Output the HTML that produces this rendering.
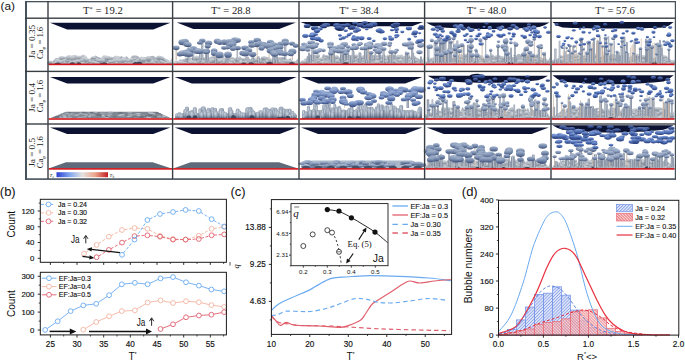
<!DOCTYPE html>
<html><head><meta charset="utf-8"><title>figure</title>
<style>html,body{margin:0;padding:0;background:#fff;width:685px;height:362px;overflow:hidden}svg{display:block}</style>
</head><body>
<svg width="685" height="362" viewBox="0 0 685 362"><defs>
<linearGradient id="gB" x1="0" y1="0" x2="0" y2="1"><stop offset="0" stop-color="#93abdf"/><stop offset="0.4" stop-color="#5a7bc0"/><stop offset="1" stop-color="#263a78"/></linearGradient>
<linearGradient id="gD" x1="0" y1="0" x2="0" y2="1"><stop offset="0" stop-color="#6f88c4"/><stop offset="0.45" stop-color="#3c5699"/><stop offset="1" stop-color="#15224f"/></linearGradient>
<linearGradient id="gM3" x1="0" y1="0" x2="0" y2="1"><stop offset="0" stop-color="#a6badf"/><stop offset="0.45" stop-color="#6f88bb"/><stop offset="1" stop-color="#364a7c"/></linearGradient>
<linearGradient id="gM2" x1="0" y1="0" x2="0" y2="1"><stop offset="0" stop-color="#a9b8d0"/><stop offset="0.45" stop-color="#7b8fb0"/><stop offset="1" stop-color="#42527a"/></linearGradient>
<linearGradient id="gM" x1="0" y1="0" x2="0" y2="1"><stop offset="0" stop-color="#b6c3d8"/><stop offset="0.45" stop-color="#8a9cbb"/><stop offset="1" stop-color="#4b5a7c"/></linearGradient>
<linearGradient id="gG" x1="0" y1="0" x2="0" y2="1"><stop offset="0" stop-color="#d8dce2"/><stop offset="0.5" stop-color="#b2b9c2"/><stop offset="1" stop-color="#7b8591"/></linearGradient>
<linearGradient id="gQ" x1="0" y1="0" x2="0" y2="1"><stop offset="0" stop-color="#c8d0da"/><stop offset="0.5" stop-color="#9eaabb"/><stop offset="1" stop-color="#5a687e"/></linearGradient>
<radialGradient id="gR" cx="0.45" cy="0.3" r="0.75"><stop offset="0" stop-color="#ccd4de"/><stop offset="0.55" stop-color="#93a0b3"/><stop offset="1" stop-color="#4c5a70"/></radialGradient>
<linearGradient id="gC" x1="0" x2="1"><stop offset="0" stop-color="#6f7a8c"/><stop offset="0.5" stop-color="#b8c0cc"/><stop offset="1" stop-color="#7d889a"/></linearGradient>
<linearGradient id="cbar" x1="0" x2="1">
<stop offset="0" stop-color="#2f3fcf"/><stop offset="0.25" stop-color="#7fa4f0"/><stop offset="0.5" stop-color="#e4e2e0"/><stop offset="0.75" stop-color="#eda58a"/><stop offset="1" stop-color="#c21d25"/></linearGradient>
<pattern id="hB" width="2.2" height="2.2" patternUnits="userSpaceOnUse" patternTransform="rotate(-45)"><rect width="2.2" height="2.2" fill="#dfe6fa"/><rect width="2.2" height="0.8" fill="#7f98e6"/></pattern>
<pattern id="hR" width="2.0" height="2.0" patternUnits="userSpaceOnUse" patternTransform="rotate(45)"><rect width="2.0" height="2.0" fill="#f9d6d6"/><rect width="2.0" height="0.9" fill="#e8707a"/></pattern>
<marker id="ah" viewBox="0 0 10 10" refX="9" refY="5" markerWidth="4" markerHeight="4" orient="auto-start-reverse"><path d="M0,0 L10,5 L0,10 z" fill="#111"/></marker>
</defs>
<rect width="685" height="362" fill="#fff"/>
<polygon points="50.0,22.8 170.4,22.8 153.2,29.4 67.2,29.4" fill="#0c1232"/><polygon points="49.0,64.4 49.0,62.3 51.1,62.1 52.6,61.3 55.8,58.1 59.2,58.5 62.5,56.4 64.7,56.8 68.2,57.6 70.4,57.0 72.5,55.4 74.2,58.7 76.3,59.1 78.3,56.3 80.8,56.0 83.0,59.2 86.3,58.6 89.1,59.0 92.4,57.5 95.4,55.4 98.3,57.1 101.3,57.9 103.4,55.4 106.8,55.7 109.2,56.6 111.3,58.3 114.8,56.3 117.6,56.4 120.2,56.8 122.0,55.9 123.9,59.0 126.4,56.1 129.7,59.3 132.1,55.8 134.0,55.6 136.2,55.6 138.2,56.3 140.8,58.9 143.8,56.9 146.2,57.4 148.4,56.6 150.0,56.3 153.5,55.7 156.0,57.8 159.2,56.1 161.2,56.6 163.5,58.5 167.0,61.1 170.2,61.1 171.6,58.0 171.6,64.4" fill="#adb4be"/><ellipse cx="135.6" cy="62.9" rx="2.3" ry="1.8" fill="url(#gG)"/><ellipse cx="50.0" cy="62.8" rx="2.9" ry="1.9" fill="url(#gG)"/><ellipse cx="153.2" cy="63.4" rx="1.9" ry="1.3" fill="url(#gG)"/><ellipse cx="68.6" cy="60.4" rx="2.6" ry="2.4" fill="url(#gG)"/><ellipse cx="137.0" cy="61.3" rx="2.7" ry="2.1" fill="url(#gG)"/><ellipse cx="116.5" cy="57.3" rx="2.7" ry="1.9" fill="url(#gG)"/><ellipse cx="160.9" cy="61.3" rx="2.0" ry="1.4" fill="url(#gG)"/><ellipse cx="80.4" cy="61.2" rx="2.6" ry="1.8" fill="url(#gG)"/><ellipse cx="58.5" cy="60.9" rx="2.4" ry="1.9" fill="url(#gG)"/><ellipse cx="77.0" cy="61.0" rx="1.6" ry="1.2" fill="url(#gG)"/><ellipse cx="105.6" cy="63.3" rx="2.5" ry="1.4" fill="url(#gG)"/><ellipse cx="107.3" cy="58.5" rx="1.9" ry="1.8" fill="url(#gG)"/><ellipse cx="135.0" cy="59.0" rx="1.6" ry="1.3" fill="url(#gG)"/><ellipse cx="131.3" cy="59.8" rx="2.0" ry="1.7" fill="url(#gG)"/><ellipse cx="161.6" cy="58.9" rx="1.6" ry="1.2" fill="url(#gG)"/><ellipse cx="100.7" cy="61.5" rx="1.9" ry="1.7" fill="url(#gG)"/><ellipse cx="139.1" cy="60.3" rx="1.9" ry="1.8" fill="url(#gG)"/><ellipse cx="87.6" cy="62.4" rx="1.9" ry="1.4" fill="url(#gG)"/><ellipse cx="141.7" cy="58.9" rx="2.9" ry="2.3" fill="url(#gG)"/><ellipse cx="72.6" cy="58.5" rx="2.2" ry="1.9" fill="url(#gG)"/><ellipse cx="164.4" cy="59.6" rx="2.2" ry="1.5" fill="url(#gG)"/><ellipse cx="167.5" cy="60.9" rx="1.7" ry="1.1" fill="url(#gG)"/><ellipse cx="97.4" cy="62.9" rx="2.8" ry="1.8" fill="url(#gG)"/><ellipse cx="170.3" cy="64.0" rx="2.1" ry="0.7" fill="url(#gG)"/><ellipse cx="162.9" cy="62.3" rx="1.6" ry="1.4" fill="url(#gG)"/><ellipse cx="95.7" cy="59.5" rx="2.1" ry="1.4" fill="url(#gG)"/><ellipse cx="50.3" cy="62.4" rx="2.1" ry="2.0" fill="url(#gG)"/><ellipse cx="64.9" cy="63.4" rx="1.9" ry="1.3" fill="url(#gG)"/><ellipse cx="149.1" cy="62.4" rx="2.2" ry="1.5" fill="url(#gG)"/><ellipse cx="107.1" cy="59.5" rx="2.9" ry="2.0" fill="url(#gG)"/><ellipse cx="93.9" cy="62.9" rx="1.6" ry="1.3" fill="url(#gG)"/><ellipse cx="147.9" cy="62.1" rx="1.7" ry="1.1" fill="url(#gG)"/><ellipse cx="57.5" cy="63.3" rx="2.0" ry="1.4" fill="url(#gG)"/><ellipse cx="158.4" cy="59.2" rx="2.0" ry="1.9" fill="url(#gG)"/><ellipse cx="124.4" cy="58.7" rx="2.6" ry="1.9" fill="url(#gG)"/><ellipse cx="83.2" cy="57.0" rx="2.7" ry="2.5" fill="url(#gG)"/><ellipse cx="126.5" cy="63.2" rx="1.6" ry="1.2" fill="url(#gG)"/><ellipse cx="107.3" cy="63.3" rx="2.9" ry="1.4" fill="url(#gG)"/><ellipse cx="80.3" cy="59.8" rx="2.3" ry="2.1" fill="url(#gG)"/><ellipse cx="72.1" cy="62.3" rx="2.6" ry="2.4" fill="url(#gG)"/><ellipse cx="143.2" cy="61.0" rx="2.1" ry="1.5" fill="url(#gG)"/><ellipse cx="93.6" cy="62.2" rx="1.7" ry="1.2" fill="url(#gG)"/><ellipse cx="140.8" cy="58.6" rx="1.7" ry="1.1" fill="url(#gG)"/><ellipse cx="116.6" cy="59.2" rx="3.0" ry="2.7" fill="url(#gG)"/><ellipse cx="169.1" cy="62.0" rx="1.7" ry="1.2" fill="url(#gG)"/><ellipse cx="110.1" cy="61.7" rx="2.2" ry="1.6" fill="url(#gG)"/><ellipse cx="100.3" cy="61.1" rx="2.5" ry="2.2" fill="url(#gG)"/><ellipse cx="152.1" cy="61.4" rx="1.8" ry="1.6" fill="url(#gG)"/><ellipse cx="85.4" cy="60.7" rx="2.1" ry="1.8" fill="url(#gG)"/><ellipse cx="74.0" cy="58.6" rx="1.9" ry="1.4" fill="url(#gG)"/><ellipse cx="156.6" cy="60.8" rx="2.1" ry="1.6" fill="url(#gG)"/><ellipse cx="169.7" cy="62.8" rx="1.9" ry="1.7" fill="url(#gG)"/><ellipse cx="128.8" cy="63.5" rx="1.7" ry="1.2" fill="url(#gG)"/><ellipse cx="148.8" cy="62.5" rx="2.9" ry="1.9" fill="url(#gG)"/><ellipse cx="85.4" cy="57.8" rx="1.9" ry="1.8" fill="url(#gG)"/><ellipse cx="120.3" cy="63.1" rx="2.1" ry="1.6" fill="url(#gG)"/><ellipse cx="104.2" cy="58.7" rx="2.7" ry="2.5" fill="url(#gG)"/><ellipse cx="62.8" cy="60.9" rx="2.5" ry="1.8" fill="url(#gG)"/><ellipse cx="94.5" cy="57.9" rx="1.9" ry="1.4" fill="url(#gG)"/><ellipse cx="122.3" cy="61.3" rx="1.9" ry="1.2" fill="url(#gG)"/><ellipse cx="89.5" cy="61.5" rx="1.9" ry="1.4" fill="url(#gG)"/><ellipse cx="74.5" cy="62.2" rx="2.4" ry="1.6" fill="url(#gG)"/><ellipse cx="62.2" cy="59.6" rx="2.4" ry="2.0" fill="url(#gG)"/><ellipse cx="61.0" cy="58.1" rx="2.6" ry="2.0" fill="url(#gG)"/><ellipse cx="84.2" cy="59.0" rx="2.9" ry="2.2" fill="url(#gG)"/><ellipse cx="118.3" cy="59.4" rx="2.2" ry="2.0" fill="url(#gG)"/><ellipse cx="170.2" cy="62.6" rx="1.9" ry="1.6" fill="url(#gG)"/><ellipse cx="74.6" cy="57.0" rx="2.9" ry="2.2" fill="url(#gG)"/><ellipse cx="148.9" cy="59.7" rx="2.8" ry="2.2" fill="url(#gG)"/><ellipse cx="69.6" cy="57.1" rx="2.4" ry="2.0" fill="url(#gG)"/><ellipse cx="159.7" cy="57.6" rx="2.5" ry="1.9" fill="url(#gG)"/><ellipse cx="110.8" cy="58.0" rx="2.0" ry="1.6" fill="url(#gG)"/><ellipse cx="161.6" cy="58.2" rx="2.3" ry="2.0" fill="url(#gG)"/><ellipse cx="166.6" cy="60.7" rx="1.8" ry="1.7" fill="url(#gG)"/><ellipse cx="167.7" cy="62.2" rx="1.7" ry="1.6" fill="url(#gG)"/><ellipse cx="96.8" cy="63.0" rx="2.5" ry="1.7" fill="url(#gG)"/><ellipse cx="69.3" cy="62.2" rx="1.9" ry="1.5" fill="url(#gG)"/><ellipse cx="152.1" cy="62.5" rx="1.9" ry="1.3" fill="url(#gG)"/><ellipse cx="98.2" cy="60.4" rx="2.1" ry="1.5" fill="url(#gG)"/><ellipse cx="79.8" cy="61.8" rx="2.9" ry="1.9" fill="url(#gG)"/><ellipse cx="117.8" cy="62.0" rx="1.7" ry="1.5" fill="url(#gG)"/><ellipse cx="64.2" cy="61.0" rx="2.4" ry="2.0" fill="url(#gG)"/><ellipse cx="86.9" cy="59.8" rx="2.4" ry="1.9" fill="url(#gG)"/><ellipse cx="129.5" cy="59.9" rx="2.2" ry="1.5" fill="url(#gG)"/><ellipse cx="124.6" cy="60.2" rx="1.9" ry="1.7" fill="url(#gG)"/><ellipse cx="144.1" cy="60.0" rx="1.9" ry="1.5" fill="url(#gG)"/><ellipse cx="62.9" cy="57.8" rx="2.2" ry="1.5" fill="url(#gG)"/><ellipse cx="103.3" cy="60.4" rx="1.7" ry="1.4" fill="url(#gG)"/><ellipse cx="59.9" cy="61.9" rx="2.7" ry="2.2" fill="url(#gG)"/><ellipse cx="56.5" cy="61.3" rx="2.1" ry="2.0" fill="url(#gG)"/><ellipse cx="66.4" cy="62.7" rx="3.0" ry="2.0" fill="url(#gG)"/><ellipse cx="148.3" cy="58.3" rx="3.0" ry="2.4" fill="url(#gG)"/><ellipse cx="165.4" cy="63.5" rx="1.8" ry="1.2" fill="url(#gG)"/><ellipse cx="162.2" cy="58.2" rx="2.1" ry="1.8" fill="url(#gG)"/><ellipse cx="69.1" cy="62.9" rx="2.0" ry="1.8" fill="url(#gG)"/><ellipse cx="67.3" cy="60.3" rx="2.9" ry="2.1" fill="url(#gG)"/><ellipse cx="81.7" cy="60.3" rx="2.0" ry="1.4" fill="url(#gG)"/><ellipse cx="72.0" cy="58.1" rx="2.9" ry="2.5" fill="url(#gG)"/><ellipse cx="158.0" cy="58.1" rx="2.7" ry="1.8" fill="url(#gG)"/><ellipse cx="114.0" cy="61.2" rx="2.1" ry="1.9" fill="url(#gG)"/><ellipse cx="117.0" cy="60.8" rx="2.8" ry="1.9" fill="url(#gG)"/><ellipse cx="169.8" cy="63.1" rx="2.2" ry="1.6" fill="url(#gG)"/><ellipse cx="81.9" cy="63.5" rx="2.4" ry="1.2" fill="url(#gG)"/><ellipse cx="142.2" cy="59.9" rx="1.8" ry="1.6" fill="url(#gG)"/><ellipse cx="55.8" cy="63.0" rx="2.0" ry="1.6" fill="url(#gG)"/><ellipse cx="168.7" cy="62.8" rx="2.5" ry="1.9" fill="url(#gG)"/><ellipse cx="50.2" cy="61.9" rx="1.8" ry="1.5" fill="url(#gG)"/><ellipse cx="102.1" cy="60.4" rx="2.9" ry="2.0" fill="url(#gG)"/><ellipse cx="77.4" cy="61.3" rx="1.6" ry="1.1" fill="url(#gG)"/><ellipse cx="92.8" cy="57.7" rx="2.1" ry="1.5" fill="url(#gG)"/><ellipse cx="120.4" cy="60.9" rx="1.9" ry="1.6" fill="url(#gG)"/><ellipse cx="107.3" cy="57.9" rx="2.9" ry="2.1" fill="url(#gG)"/><ellipse cx="68.0" cy="57.6" rx="2.5" ry="2.3" fill="url(#gG)"/><ellipse cx="144.3" cy="59.7" rx="2.0" ry="1.3" fill="url(#gG)"/><ellipse cx="127.8" cy="60.7" rx="2.1" ry="1.8" fill="url(#gG)"/><ellipse cx="103.5" cy="63.2" rx="2.6" ry="1.5" fill="url(#gG)"/><ellipse cx="159.0" cy="57.3" rx="2.3" ry="1.8" fill="url(#gG)"/><ellipse cx="78.7" cy="57.4" rx="2.7" ry="1.8" fill="url(#gG)"/><ellipse cx="116.4" cy="63.2" rx="1.8" ry="1.3" fill="url(#gG)"/><ellipse cx="123.3" cy="60.3" rx="2.5" ry="2.2" fill="url(#gG)"/><path d="M69.7,64.4 A2.7,2.1 0 0 1 75.1,64.4 Z" fill="#3a465a"/><path d="M54.4,64.4 A3.3,2.4 0 0 1 60.9,64.4 Z" fill="#3a465a"/><path d="M133.0,64.4 A2.4,2.5 0 0 1 137.8,64.4 Z" fill="#3a465a"/><path d="M136.0,64.4 A2.9,2.4 0 0 1 141.8,64.4 Z" fill="#3a465a"/><path d="M102.1,64.4 A2.6,2.0 0 0 1 107.4,64.4 Z" fill="#3a465a"/><path d="M76.6,64.4 A2.4,2.1 0 0 1 81.5,64.4 Z" fill="#3a465a"/><path d="M136.3,64.4 A3.1,2.5 0 0 1 142.5,64.4 Z" fill="#3a465a"/><path d="M132.3,64.4 A2.7,2.3 0 0 1 137.6,64.4 Z" fill="#3a465a"/><path d="M99.7,64.4 A3.2,2.3 0 0 1 106.0,64.4 Z" fill="#3a465a"/>
<polygon points="176.6,22.6 296.0,22.6 279.2,29.1 193.4,29.1" fill="#0c1232"/><polygon points="173.6,64.4 173.6,62.4 176.4,62.3 178.3,61.5 179.8,59.3 181.8,59.8 185.2,58.8 187.4,59.3 189.5,56.9 192.8,58.4 195.7,58.5 199.2,57.8 202.4,58.6 205.6,57.7 208.5,58.2 210.6,56.8 213.4,56.3 216.7,56.5 218.3,56.4 221.6,57.3 223.4,56.1 225.0,58.6 227.8,58.6 230.7,56.2 233.4,57.4 236.5,59.1 239.8,56.2 243.1,59.5 246.4,56.4 248.4,56.4 249.9,59.2 253.1,58.4 256.2,58.4 258.3,56.4 260.0,58.9 261.9,57.2 264.2,56.1 266.2,57.1 269.2,57.4 271.3,59.6 273.8,59.2 276.6,56.1 278.9,57.6 281.9,57.3 284.8,58.0 286.8,59.3 288.5,59.6 290.3,57.9 292.2,60.8 295.7,60.9 298.0,58.5 298.0,64.4" fill="#adb4be"/><ellipse cx="234.8" cy="62.4" rx="1.7" ry="1.3" fill="url(#gG)"/><ellipse cx="217.1" cy="62.6" rx="1.8" ry="1.6" fill="url(#gG)"/><ellipse cx="209.3" cy="59.0" rx="2.4" ry="1.9" fill="url(#gG)"/><ellipse cx="188.1" cy="61.4" rx="1.5" ry="1.3" fill="url(#gG)"/><ellipse cx="259.9" cy="62.3" rx="2.3" ry="1.7" fill="url(#gG)"/><ellipse cx="223.7" cy="60.0" rx="2.6" ry="1.8" fill="url(#gG)"/><ellipse cx="283.3" cy="57.8" rx="1.7" ry="1.2" fill="url(#gG)"/><ellipse cx="284.9" cy="60.6" rx="1.9" ry="1.8" fill="url(#gG)"/><ellipse cx="203.2" cy="60.4" rx="2.1" ry="1.9" fill="url(#gG)"/><ellipse cx="266.8" cy="61.5" rx="1.9" ry="1.4" fill="url(#gG)"/><ellipse cx="193.6" cy="62.7" rx="2.3" ry="2.0" fill="url(#gG)"/><ellipse cx="195.4" cy="60.3" rx="2.5" ry="2.0" fill="url(#gG)"/><ellipse cx="190.0" cy="60.4" rx="2.6" ry="1.9" fill="url(#gG)"/><ellipse cx="198.0" cy="59.5" rx="2.4" ry="2.2" fill="url(#gG)"/><ellipse cx="193.5" cy="58.6" rx="1.7" ry="1.3" fill="url(#gG)"/><ellipse cx="238.5" cy="58.6" rx="1.9" ry="1.3" fill="url(#gG)"/><ellipse cx="294.0" cy="63.1" rx="1.5" ry="1.4" fill="url(#gG)"/><ellipse cx="187.0" cy="60.0" rx="2.8" ry="2.5" fill="url(#gG)"/><ellipse cx="264.4" cy="60.3" rx="1.7" ry="1.4" fill="url(#gG)"/><ellipse cx="187.7" cy="58.9" rx="1.9" ry="1.3" fill="url(#gG)"/><ellipse cx="223.4" cy="62.4" rx="2.4" ry="1.9" fill="url(#gG)"/><ellipse cx="252.0" cy="60.4" rx="1.6" ry="1.3" fill="url(#gG)"/><ellipse cx="224.1" cy="62.1" rx="2.7" ry="2.1" fill="url(#gG)"/><ellipse cx="244.9" cy="62.1" rx="2.0" ry="1.4" fill="url(#gG)"/><ellipse cx="263.0" cy="62.9" rx="2.5" ry="1.8" fill="url(#gG)"/><ellipse cx="278.9" cy="61.7" rx="2.3" ry="1.8" fill="url(#gG)"/><ellipse cx="212.9" cy="61.4" rx="1.5" ry="1.2" fill="url(#gG)"/><ellipse cx="270.4" cy="61.9" rx="2.3" ry="1.7" fill="url(#gG)"/><ellipse cx="226.4" cy="60.4" rx="2.3" ry="1.8" fill="url(#gG)"/><ellipse cx="257.2" cy="63.2" rx="1.7" ry="1.4" fill="url(#gG)"/><ellipse cx="269.8" cy="60.0" rx="2.1" ry="2.0" fill="url(#gG)"/><ellipse cx="179.3" cy="62.1" rx="1.6" ry="1.4" fill="url(#gG)"/><ellipse cx="289.7" cy="61.4" rx="1.5" ry="1.3" fill="url(#gG)"/><ellipse cx="240.8" cy="61.9" rx="2.1" ry="1.8" fill="url(#gG)"/><ellipse cx="276.1" cy="60.8" rx="2.0" ry="1.8" fill="url(#gG)"/><ellipse cx="200.3" cy="61.7" rx="1.9" ry="1.7" fill="url(#gG)"/><ellipse cx="189.6" cy="63.5" rx="1.9" ry="1.2" fill="url(#gG)"/><ellipse cx="208.2" cy="60.0" rx="1.4" ry="1.1" fill="url(#gG)"/><ellipse cx="226.1" cy="61.8" rx="1.9" ry="1.4" fill="url(#gG)"/><ellipse cx="202.1" cy="62.1" rx="2.7" ry="2.2" fill="url(#gG)"/><ellipse cx="201.4" cy="62.4" rx="1.9" ry="1.4" fill="url(#gG)"/><ellipse cx="190.4" cy="62.3" rx="2.5" ry="2.1" fill="url(#gG)"/><ellipse cx="232.0" cy="61.0" rx="1.7" ry="1.6" fill="url(#gG)"/><ellipse cx="217.8" cy="61.5" rx="2.5" ry="2.3" fill="url(#gG)"/><ellipse cx="231.9" cy="59.4" rx="2.2" ry="1.5" fill="url(#gG)"/><ellipse cx="276.7" cy="59.8" rx="2.6" ry="1.9" fill="url(#gG)"/><ellipse cx="220.6" cy="59.2" rx="2.0" ry="1.4" fill="url(#gG)"/><ellipse cx="174.9" cy="63.5" rx="1.8" ry="1.2" fill="url(#gG)"/><ellipse cx="211.5" cy="60.5" rx="2.0" ry="1.7" fill="url(#gG)"/><ellipse cx="255.3" cy="59.8" rx="2.7" ry="2.4" fill="url(#gG)"/><ellipse cx="181.6" cy="62.9" rx="2.7" ry="1.8" fill="url(#gG)"/><ellipse cx="191.8" cy="62.6" rx="2.3" ry="1.5" fill="url(#gG)"/><ellipse cx="176.0" cy="63.9" rx="2.3" ry="0.8" fill="url(#gG)"/><ellipse cx="187.0" cy="58.5" rx="1.7" ry="1.5" fill="url(#gG)"/><ellipse cx="217.0" cy="58.6" rx="2.7" ry="2.4" fill="url(#gG)"/><ellipse cx="195.2" cy="63.0" rx="2.3" ry="1.7" fill="url(#gG)"/><ellipse cx="256.4" cy="63.0" rx="2.5" ry="1.7" fill="url(#gG)"/><ellipse cx="198.8" cy="61.8" rx="2.1" ry="1.9" fill="url(#gG)"/><ellipse cx="228.3" cy="62.9" rx="2.2" ry="1.6" fill="url(#gG)"/><ellipse cx="203.3" cy="58.5" rx="2.1" ry="1.4" fill="url(#gG)"/><ellipse cx="231.8" cy="58.5" rx="2.1" ry="1.7" fill="url(#gG)"/><ellipse cx="240.6" cy="62.8" rx="1.4" ry="1.3" fill="url(#gG)"/><ellipse cx="231.9" cy="61.0" rx="2.3" ry="2.1" fill="url(#gG)"/><ellipse cx="220.5" cy="60.2" rx="2.7" ry="1.8" fill="url(#gG)"/><ellipse cx="252.6" cy="61.4" rx="1.4" ry="1.2" fill="url(#gG)"/><ellipse cx="258.1" cy="63.2" rx="1.9" ry="1.5" fill="url(#gG)"/><ellipse cx="237.1" cy="60.5" rx="2.7" ry="1.8" fill="url(#gG)"/><ellipse cx="262.5" cy="61.4" rx="1.9" ry="1.7" fill="url(#gG)"/><ellipse cx="219.4" cy="60.5" rx="2.1" ry="1.9" fill="url(#gG)"/><ellipse cx="200.4" cy="60.3" rx="2.0" ry="1.6" fill="url(#gG)"/><ellipse cx="275.8" cy="59.4" rx="2.6" ry="2.0" fill="url(#gG)"/><ellipse cx="236.3" cy="59.3" rx="2.1" ry="2.0" fill="url(#gG)"/><ellipse cx="254.7" cy="62.4" rx="1.9" ry="1.4" fill="url(#gG)"/><ellipse cx="211.2" cy="61.2" rx="2.3" ry="2.0" fill="url(#gG)"/><ellipse cx="179.5" cy="62.8" rx="2.6" ry="1.9" fill="url(#gG)"/><ellipse cx="180.7" cy="60.7" rx="1.4" ry="1.0" fill="url(#gG)"/><ellipse cx="287.4" cy="61.4" rx="2.3" ry="2.1" fill="url(#gG)"/><ellipse cx="286.0" cy="61.3" rx="2.3" ry="1.9" fill="url(#gG)"/><ellipse cx="259.8" cy="61.2" rx="2.4" ry="1.7" fill="url(#gG)"/><ellipse cx="256.2" cy="60.4" rx="2.5" ry="1.7" fill="url(#gG)"/><ellipse cx="196.8" cy="57.9" rx="2.5" ry="2.3" fill="url(#gG)"/><ellipse cx="254.9" cy="59.9" rx="2.6" ry="2.3" fill="url(#gG)"/><ellipse cx="243.4" cy="59.2" rx="1.8" ry="1.4" fill="url(#gG)"/><ellipse cx="213.6" cy="60.2" rx="2.3" ry="2.1" fill="url(#gG)"/><ellipse cx="181.3" cy="61.8" rx="1.5" ry="1.0" fill="url(#gG)"/><ellipse cx="273.8" cy="61.1" rx="2.7" ry="2.1" fill="url(#gG)"/><ellipse cx="176.3" cy="62.4" rx="2.2" ry="2.1" fill="url(#gG)"/><ellipse cx="294.6" cy="62.5" rx="2.0" ry="1.3" fill="url(#gG)"/><ellipse cx="253.5" cy="58.9" rx="1.6" ry="1.1" fill="url(#gG)"/><ellipse cx="175.2" cy="63.4" rx="1.6" ry="1.3" fill="url(#gG)"/><ellipse cx="185.4" cy="62.8" rx="1.6" ry="1.0" fill="url(#gG)"/><ellipse cx="262.6" cy="59.1" rx="2.4" ry="1.7" fill="url(#gG)"/><ellipse cx="180.7" cy="62.8" rx="2.4" ry="1.9" fill="url(#gG)"/><ellipse cx="263.9" cy="58.2" rx="2.3" ry="2.0" fill="url(#gG)"/><ellipse cx="231.0" cy="63.2" rx="1.8" ry="1.5" fill="url(#gG)"/><ellipse cx="262.4" cy="57.7" rx="1.4" ry="1.2" fill="url(#gG)"/><ellipse cx="274.6" cy="58.2" rx="1.8" ry="1.6" fill="url(#gG)"/><ellipse cx="194.9" cy="62.8" rx="2.1" ry="1.4" fill="url(#gG)"/><ellipse cx="219.6" cy="61.1" rx="2.0" ry="1.7" fill="url(#gG)"/><ellipse cx="192.3" cy="62.4" rx="1.9" ry="1.6" fill="url(#gG)"/><path d="M248.3,64.4 A2.8,2.2 0 0 1 254.0,64.4 Z" fill="#3a465a"/><path d="M266.3,64.4 A3.3,2.4 0 0 1 273.0,64.4 Z" fill="#3a465a"/><path d="M241.0,64.4 A2.7,1.9 0 0 1 246.4,64.4 Z" fill="#3a465a"/><path d="M288.8,64.4 A3.1,2.5 0 0 1 295.0,64.4 Z" fill="#3a465a"/><rect x="214.1" y="56.8" width="2.4" height="6.6" rx="1.2" fill="url(#gC)"/><rect x="275.2" y="52.2" width="2.4" height="11.2" rx="1.2" fill="url(#gC)"/><rect x="225.6" y="52.6" width="2.8" height="10.8" rx="1.4" fill="url(#gC)"/><rect x="257.2" y="56.3" width="2.4" height="7.1" rx="1.2" fill="url(#gC)"/><rect x="272.5" y="50.0" width="1.9" height="13.4" rx="0.9" fill="url(#gC)"/><rect x="205.8" y="54.1" width="2.1" height="9.3" rx="1.0" fill="url(#gC)"/><rect x="201.3" y="40.6" width="2.0" height="19.4" fill="url(#gC)"/><rect x="284.4" y="43.3" width="1.9" height="16.7" fill="url(#gC)"/><rect x="256.7" y="44.5" width="0.9" height="15.5" fill="#c9b6a6"/><rect x="187.7" y="44.9" width="1.2" height="15.1" fill="url(#gC)"/><rect x="268.7" y="45.1" width="0.8" height="14.9" fill="#c9b6a6"/><rect x="206.6" y="46.2" width="2.2" height="13.8" fill="url(#gC)"/><rect x="175.6" y="47.8" width="1.1" height="12.2" fill="#c9b6a6"/><rect x="236.7" y="48.0" width="1.4" height="12.0" fill="url(#gC)"/><rect x="192.4" y="48.6" width="1.8" height="11.4" fill="url(#gC)"/><rect x="213.9" y="50.7" width="0.7" height="9.3" fill="#c9b6a6"/><rect x="199.0" y="51.3" width="1.5" height="8.7" fill="url(#gC)"/><rect x="291.8" y="51.6" width="1.1" height="8.4" fill="#c9b6a6"/><rect x="205.1" y="52.3" width="1.3" height="7.7" fill="url(#gC)"/><rect x="273.8" y="54.1" width="2.5" height="5.9" fill="url(#gC)"/><rect x="251.6" y="54.3" width="2.3" height="5.7" fill="url(#gC)"/><ellipse cx="257.2" cy="40.2" rx="3.8" ry="2.5" fill="url(#gM2)"/><ellipse cx="235.0" cy="40.2" rx="4.1" ry="2.9" fill="url(#gM2)"/><ellipse cx="238.1" cy="40.3" rx="2.8" ry="2.3" fill="url(#gM2)"/><ellipse cx="202.3" cy="40.6" rx="3.2" ry="2.2" fill="url(#gM2)"/><ellipse cx="285.2" cy="41.0" rx="3.6" ry="2.5" fill="url(#gM2)"/><ellipse cx="217.4" cy="41.3" rx="3.6" ry="2.7" fill="url(#gM2)"/><ellipse cx="185.1" cy="41.3" rx="3.7" ry="2.6" fill="url(#gM2)"/><ellipse cx="224.4" cy="42.1" rx="3.6" ry="2.8" fill="url(#gM2)"/><ellipse cx="251.2" cy="42.1" rx="3.1" ry="2.0" fill="url(#gM2)"/><ellipse cx="182.3" cy="42.2" rx="3.9" ry="3.0" fill="url(#gM2)"/><ellipse cx="270.4" cy="42.3" rx="3.6" ry="2.5" fill="url(#gM2)"/><ellipse cx="229.6" cy="42.4" rx="4.2" ry="3.3" fill="url(#gM2)"/><ellipse cx="219.8" cy="42.5" rx="3.3" ry="2.4" fill="url(#gM2)"/><ellipse cx="233.6" cy="42.5" rx="3.1" ry="2.0" fill="url(#gM2)"/><ellipse cx="199.8" cy="42.7" rx="2.9" ry="1.8" fill="url(#gM2)"/><ellipse cx="259.8" cy="42.9" rx="2.8" ry="2.1" fill="url(#gM2)"/><ellipse cx="208.6" cy="43.1" rx="3.7" ry="2.7" fill="url(#gM2)"/><ellipse cx="285.4" cy="43.3" rx="3.6" ry="2.3" fill="url(#gM2)"/><ellipse cx="292.1" cy="43.4" rx="3.1" ry="2.0" fill="url(#gM2)"/><ellipse cx="280.6" cy="44.0" rx="3.1" ry="2.4" fill="url(#gM2)"/><ellipse cx="233.1" cy="44.3" rx="3.2" ry="2.1" fill="url(#gM2)"/><ellipse cx="187.3" cy="44.3" rx="4.1" ry="2.6" fill="url(#gM2)"/><ellipse cx="263.1" cy="44.4" rx="4.2" ry="2.6" fill="url(#gM2)"/><ellipse cx="257.1" cy="44.5" rx="3.6" ry="2.7" fill="url(#gM2)"/><ellipse cx="188.3" cy="44.9" rx="3.2" ry="2.0" fill="url(#gM2)"/><ellipse cx="276.7" cy="45.0" rx="3.0" ry="2.1" fill="url(#gM2)"/><ellipse cx="273.2" cy="45.0" rx="4.0" ry="3.1" fill="url(#gM2)"/><ellipse cx="269.1" cy="45.1" rx="3.1" ry="2.1" fill="url(#gM2)"/><ellipse cx="230.1" cy="45.1" rx="4.0" ry="2.8" fill="url(#gM2)"/><ellipse cx="272.8" cy="45.1" rx="3.0" ry="1.9" fill="url(#gM2)"/><ellipse cx="251.8" cy="45.5" rx="3.5" ry="2.2" fill="url(#gM2)"/><ellipse cx="295.7" cy="45.6" rx="2.9" ry="2.2" fill="url(#gM2)"/><ellipse cx="263.8" cy="46.1" rx="3.8" ry="2.4" fill="url(#gM2)"/><ellipse cx="207.7" cy="46.2" rx="3.0" ry="2.0" fill="url(#gM2)"/><ellipse cx="269.4" cy="46.4" rx="4.1" ry="3.1" fill="url(#gM2)"/><ellipse cx="279.9" cy="47.3" rx="3.6" ry="2.4" fill="url(#gM2)"/><ellipse cx="235.0" cy="47.5" rx="3.2" ry="2.0" fill="url(#gM2)"/><ellipse cx="227.7" cy="47.6" rx="2.8" ry="1.8" fill="url(#gM2)"/><ellipse cx="224.1" cy="47.8" rx="3.0" ry="1.9" fill="url(#gM2)"/><ellipse cx="176.2" cy="47.8" rx="3.4" ry="2.4" fill="url(#gM2)"/><ellipse cx="245.0" cy="47.8" rx="3.8" ry="2.4" fill="url(#gM2)"/><ellipse cx="276.7" cy="47.9" rx="3.4" ry="2.6" fill="url(#gM2)"/><ellipse cx="275.8" cy="47.9" rx="3.1" ry="2.1" fill="url(#gM2)"/><ellipse cx="237.4" cy="48.0" rx="3.6" ry="2.2" fill="url(#gM2)"/><ellipse cx="261.5" cy="48.3" rx="3.0" ry="2.3" fill="url(#gM2)"/><ellipse cx="193.3" cy="48.6" rx="3.8" ry="2.5" fill="url(#gM2)"/><ellipse cx="273.3" cy="48.7" rx="3.1" ry="1.9" fill="url(#gM2)"/><ellipse cx="233.0" cy="48.8" rx="3.1" ry="2.0" fill="url(#gM2)"/><ellipse cx="248.7" cy="50.2" rx="3.5" ry="2.3" fill="url(#gM2)"/><ellipse cx="197.4" cy="50.5" rx="3.3" ry="2.4" fill="url(#gM2)"/><ellipse cx="270.3" cy="50.6" rx="3.7" ry="3.0" fill="url(#gM2)"/><ellipse cx="214.2" cy="50.7" rx="3.3" ry="2.5" fill="url(#gM2)"/><ellipse cx="190.1" cy="50.7" rx="3.9" ry="3.1" fill="url(#gM2)"/><ellipse cx="280.3" cy="50.8" rx="2.9" ry="1.8" fill="url(#gM2)"/><ellipse cx="199.7" cy="51.3" rx="4.1" ry="2.7" fill="url(#gM2)"/><ellipse cx="206.3" cy="51.3" rx="3.9" ry="2.7" fill="url(#gM2)"/><ellipse cx="197.3" cy="51.6" rx="3.8" ry="2.5" fill="url(#gM2)"/><ellipse cx="292.4" cy="51.6" rx="4.1" ry="3.0" fill="url(#gM2)"/><ellipse cx="186.2" cy="52.1" rx="3.9" ry="2.6" fill="url(#gM2)"/><ellipse cx="278.1" cy="52.1" rx="3.8" ry="2.9" fill="url(#gM2)"/><ellipse cx="205.8" cy="52.3" rx="2.8" ry="1.8" fill="url(#gM2)"/><ellipse cx="273.7" cy="52.7" rx="2.9" ry="2.1" fill="url(#gM2)"/><ellipse cx="273.3" cy="53.0" rx="3.6" ry="2.4" fill="url(#gM2)"/><ellipse cx="242.7" cy="53.1" rx="3.4" ry="2.7" fill="url(#gM2)"/><ellipse cx="183.0" cy="53.1" rx="4.1" ry="2.9" fill="url(#gM2)"/><ellipse cx="273.8" cy="53.3" rx="2.9" ry="2.2" fill="url(#gM2)"/><ellipse cx="280.0" cy="53.3" rx="3.0" ry="2.1" fill="url(#gM2)"/><ellipse cx="182.4" cy="53.4" rx="3.7" ry="2.5" fill="url(#gM2)"/><ellipse cx="245.4" cy="53.5" rx="4.0" ry="2.9" fill="url(#gM2)"/><ellipse cx="213.9" cy="53.5" rx="3.0" ry="2.4" fill="url(#gM2)"/><ellipse cx="284.3" cy="53.6" rx="4.0" ry="2.5" fill="url(#gM2)"/><ellipse cx="179.9" cy="53.9" rx="3.1" ry="2.5" fill="url(#gM2)"/><ellipse cx="187.3" cy="53.9" rx="4.0" ry="2.9" fill="url(#gM2)"/><ellipse cx="290.9" cy="54.0" rx="3.1" ry="2.2" fill="url(#gM2)"/><ellipse cx="275.1" cy="54.1" rx="3.3" ry="2.3" fill="url(#gM2)"/><ellipse cx="252.7" cy="54.3" rx="3.7" ry="2.6" fill="url(#gM2)"/><ellipse cx="190.0" cy="54.4" rx="3.2" ry="2.3" fill="url(#gM2)"/><ellipse cx="274.2" cy="54.5" rx="3.2" ry="2.0" fill="url(#gM2)"/><ellipse cx="228.0" cy="54.7" rx="3.9" ry="3.1" fill="url(#gM2)"/><ellipse cx="219.5" cy="54.9" rx="4.2" ry="3.3" fill="url(#gM2)"/>
<polygon points="300.5,22.0 423.1,22.0 412.1,26.2 311.5,26.2" fill="#0c1232"/><ellipse cx="351.9" cy="27.5" rx="4.2" ry="2.3" fill="url(#gD)"/><ellipse cx="347.3" cy="25.2" rx="3.4" ry="1.9" fill="url(#gD)"/><ellipse cx="336.8" cy="24.7" rx="3.6" ry="1.8" fill="url(#gD)"/><ellipse cx="340.3" cy="27.5" rx="4.1" ry="2.2" fill="url(#gD)"/><ellipse cx="355.1" cy="23.3" rx="3.1" ry="1.5" fill="url(#gD)"/><ellipse cx="370.9" cy="26.1" rx="2.8" ry="1.6" fill="url(#gD)"/><ellipse cx="340.6" cy="27.9" rx="4.1" ry="2.4" fill="url(#gD)"/><ellipse cx="326.1" cy="25.0" rx="4.2" ry="1.9" fill="url(#gD)"/><ellipse cx="307.2" cy="26.0" rx="3.5" ry="2.1" fill="url(#gD)"/><ellipse cx="394.8" cy="25.8" rx="4.4" ry="2.3" fill="url(#gD)"/><ellipse cx="363.9" cy="26.8" rx="3.3" ry="1.7" fill="url(#gD)"/><ellipse cx="373.2" cy="24.5" rx="4.3" ry="2.4" fill="url(#gD)"/><ellipse cx="364.8" cy="22.7" rx="3.3" ry="1.7" fill="url(#gD)"/><ellipse cx="369.2" cy="26.0" rx="4.2" ry="2.5" fill="url(#gD)"/><ellipse cx="360.2" cy="25.1" rx="3.7" ry="2.2" fill="url(#gD)"/><ellipse cx="342.9" cy="25.7" rx="4.1" ry="1.9" fill="url(#gD)"/><ellipse cx="339.9" cy="28.8" rx="4.1" ry="2.2" fill="url(#gD)"/><ellipse cx="314.8" cy="28.3" rx="3.8" ry="2.2" fill="url(#gD)"/><ellipse cx="420.9" cy="28.2" rx="3.4" ry="1.6" fill="url(#gD)"/><ellipse cx="336.5" cy="25.6" rx="3.5" ry="1.7" fill="url(#gD)"/><ellipse cx="323.5" cy="26.4" rx="3.7" ry="1.9" fill="url(#gD)"/><ellipse cx="421.3" cy="26.5" rx="2.7" ry="1.4" fill="url(#gD)"/><ellipse cx="396.5" cy="24.1" rx="3.8" ry="1.7" fill="url(#gD)"/><ellipse cx="338.2" cy="27.9" rx="3.7" ry="2.0" fill="url(#gD)"/><polygon points="300.0,64.4 300.0,61.9 302.5,61.0 304.5,60.2 307.1,60.2 309.7,56.6 311.5,54.7 314.5,54.5 316.2,54.8 318.7,57.9 321.5,57.8 323.1,54.1 326.1,55.5 329.1,55.7 330.9,55.2 332.6,58.2 335.3,55.6 337.7,55.8 339.3,58.2 341.9,58.5 344.3,56.9 346.3,54.2 349.7,58.0 351.8,58.2 354.9,55.4 357.7,58.5 360.1,58.4 362.1,55.8 365.1,55.0 367.2,58.1 369.7,57.7 371.6,54.8 373.9,54.9 377.3,55.4 379.9,54.5 382.5,55.8 384.8,54.3 386.5,57.9 388.7,55.1 390.6,55.3 392.6,54.2 395.4,55.6 397.2,57.3 398.9,55.3 402.1,54.6 404.5,57.9 407.6,54.7 409.8,57.4 412.1,58.5 414.0,59.0 416.5,57.5 418.9,58.7 421.8,60.8 423.6,57.1 423.6,64.4" fill="#adb4be"/><ellipse cx="372.4" cy="58.5" rx="1.6" ry="1.3" fill="url(#gG)"/><ellipse cx="326.8" cy="62.6" rx="1.5" ry="1.2" fill="url(#gG)"/><ellipse cx="367.0" cy="57.7" rx="2.3" ry="1.8" fill="url(#gG)"/><ellipse cx="381.0" cy="60.1" rx="1.7" ry="1.3" fill="url(#gG)"/><ellipse cx="311.5" cy="57.0" rx="2.4" ry="1.8" fill="url(#gG)"/><ellipse cx="381.6" cy="56.4" rx="2.0" ry="1.5" fill="url(#gG)"/><ellipse cx="361.8" cy="57.9" rx="1.4" ry="1.0" fill="url(#gG)"/><ellipse cx="328.5" cy="56.6" rx="2.2" ry="1.6" fill="url(#gG)"/><ellipse cx="350.1" cy="62.9" rx="2.3" ry="1.8" fill="url(#gG)"/><ellipse cx="405.7" cy="56.6" rx="1.7" ry="1.1" fill="url(#gG)"/><ellipse cx="383.6" cy="60.9" rx="1.8" ry="1.4" fill="url(#gG)"/><ellipse cx="381.1" cy="61.2" rx="1.6" ry="1.5" fill="url(#gG)"/><ellipse cx="343.8" cy="60.6" rx="1.5" ry="1.1" fill="url(#gG)"/><ellipse cx="412.0" cy="61.5" rx="2.2" ry="1.5" fill="url(#gG)"/><ellipse cx="305.9" cy="59.4" rx="1.6" ry="1.2" fill="url(#gG)"/><ellipse cx="347.3" cy="55.9" rx="1.7" ry="1.4" fill="url(#gG)"/><ellipse cx="322.8" cy="62.3" rx="2.0" ry="1.8" fill="url(#gG)"/><ellipse cx="332.0" cy="59.1" rx="2.2" ry="1.7" fill="url(#gG)"/><ellipse cx="301.1" cy="63.7" rx="2.3" ry="1.0" fill="url(#gG)"/><ellipse cx="306.2" cy="63.1" rx="2.1" ry="1.4" fill="url(#gG)"/><ellipse cx="330.7" cy="56.5" rx="2.3" ry="1.7" fill="url(#gG)"/><ellipse cx="412.2" cy="61.6" rx="1.4" ry="1.2" fill="url(#gG)"/><ellipse cx="348.9" cy="61.6" rx="2.4" ry="1.7" fill="url(#gG)"/><ellipse cx="311.9" cy="63.2" rx="1.9" ry="1.5" fill="url(#gG)"/><ellipse cx="385.1" cy="61.5" rx="2.4" ry="2.0" fill="url(#gG)"/><ellipse cx="356.1" cy="56.0" rx="2.2" ry="1.7" fill="url(#gG)"/><ellipse cx="363.2" cy="63.0" rx="1.5" ry="1.3" fill="url(#gG)"/><ellipse cx="306.3" cy="62.2" rx="2.3" ry="1.7" fill="url(#gG)"/><ellipse cx="367.4" cy="63.4" rx="2.1" ry="1.3" fill="url(#gG)"/><ellipse cx="331.4" cy="56.0" rx="1.8" ry="1.4" fill="url(#gG)"/><ellipse cx="325.5" cy="58.1" rx="1.5" ry="1.3" fill="url(#gG)"/><ellipse cx="382.5" cy="57.5" rx="1.6" ry="1.3" fill="url(#gG)"/><ellipse cx="355.1" cy="63.1" rx="1.8" ry="1.3" fill="url(#gG)"/><ellipse cx="408.6" cy="56.7" rx="2.0" ry="1.5" fill="url(#gG)"/><ellipse cx="400.2" cy="60.0" rx="2.3" ry="1.6" fill="url(#gG)"/><ellipse cx="382.1" cy="60.4" rx="1.9" ry="1.7" fill="url(#gG)"/><ellipse cx="402.1" cy="56.5" rx="1.7" ry="1.3" fill="url(#gG)"/><ellipse cx="326.1" cy="56.0" rx="1.7" ry="1.2" fill="url(#gG)"/><ellipse cx="386.3" cy="59.2" rx="1.4" ry="1.1" fill="url(#gG)"/><ellipse cx="358.0" cy="58.5" rx="1.5" ry="1.0" fill="url(#gG)"/><ellipse cx="302.3" cy="64.0" rx="2.3" ry="0.7" fill="url(#gG)"/><ellipse cx="388.2" cy="63.4" rx="2.0" ry="1.3" fill="url(#gG)"/><ellipse cx="360.4" cy="59.1" rx="1.5" ry="1.3" fill="url(#gG)"/><ellipse cx="302.0" cy="63.8" rx="2.1" ry="0.9" fill="url(#gG)"/><ellipse cx="414.7" cy="61.3" rx="1.6" ry="1.2" fill="url(#gG)"/><ellipse cx="317.9" cy="55.8" rx="2.3" ry="2.1" fill="url(#gG)"/><ellipse cx="337.0" cy="57.1" rx="2.1" ry="1.9" fill="url(#gG)"/><ellipse cx="413.7" cy="57.5" rx="2.3" ry="2.1" fill="url(#gG)"/><ellipse cx="391.3" cy="58.2" rx="1.5" ry="1.4" fill="url(#gG)"/><ellipse cx="339.9" cy="58.5" rx="2.0" ry="1.5" fill="url(#gG)"/><ellipse cx="402.1" cy="57.5" rx="1.4" ry="1.1" fill="url(#gG)"/><ellipse cx="377.4" cy="62.2" rx="2.2" ry="2.0" fill="url(#gG)"/><ellipse cx="415.9" cy="60.6" rx="1.9" ry="1.4" fill="url(#gG)"/><ellipse cx="337.4" cy="60.2" rx="1.4" ry="1.2" fill="url(#gG)"/><ellipse cx="320.9" cy="59.1" rx="2.6" ry="1.7" fill="url(#gG)"/><ellipse cx="305.9" cy="60.9" rx="1.5" ry="1.3" fill="url(#gG)"/><ellipse cx="301.3" cy="63.7" rx="2.4" ry="1.0" fill="url(#gG)"/><ellipse cx="352.7" cy="57.8" rx="2.2" ry="1.7" fill="url(#gG)"/><ellipse cx="352.2" cy="58.3" rx="1.9" ry="1.6" fill="url(#gG)"/><ellipse cx="401.5" cy="62.8" rx="1.5" ry="1.1" fill="url(#gG)"/><ellipse cx="354.9" cy="60.1" rx="1.8" ry="1.2" fill="url(#gG)"/><ellipse cx="311.3" cy="58.2" rx="1.9" ry="1.8" fill="url(#gG)"/><ellipse cx="411.5" cy="62.5" rx="2.6" ry="2.2" fill="url(#gG)"/><ellipse cx="376.4" cy="62.1" rx="1.4" ry="1.2" fill="url(#gG)"/><ellipse cx="375.1" cy="57.9" rx="2.0" ry="1.9" fill="url(#gG)"/><ellipse cx="359.5" cy="60.8" rx="1.7" ry="1.3" fill="url(#gG)"/><ellipse cx="408.6" cy="55.8" rx="1.5" ry="1.3" fill="url(#gG)"/><ellipse cx="355.4" cy="56.2" rx="2.2" ry="1.6" fill="url(#gG)"/><ellipse cx="371.6" cy="58.9" rx="2.0" ry="1.6" fill="url(#gG)"/><ellipse cx="349.2" cy="56.5" rx="1.5" ry="1.4" fill="url(#gG)"/><ellipse cx="367.7" cy="56.5" rx="2.4" ry="1.8" fill="url(#gG)"/><ellipse cx="312.5" cy="59.8" rx="1.6" ry="1.3" fill="url(#gG)"/><ellipse cx="368.4" cy="57.4" rx="2.0" ry="1.4" fill="url(#gG)"/><ellipse cx="363.4" cy="60.3" rx="1.4" ry="1.1" fill="url(#gG)"/><ellipse cx="309.9" cy="59.5" rx="2.4" ry="2.0" fill="url(#gG)"/><ellipse cx="387.9" cy="61.6" rx="1.4" ry="1.4" fill="url(#gG)"/><ellipse cx="388.7" cy="56.4" rx="2.4" ry="1.8" fill="url(#gG)"/><ellipse cx="321.8" cy="63.3" rx="2.0" ry="1.4" fill="url(#gG)"/><ellipse cx="317.6" cy="61.8" rx="1.4" ry="1.0" fill="url(#gG)"/><ellipse cx="346.3" cy="55.7" rx="2.1" ry="1.5" fill="url(#gG)"/><ellipse cx="337.5" cy="61.2" rx="1.9" ry="1.7" fill="url(#gG)"/><ellipse cx="376.5" cy="62.6" rx="2.0" ry="1.9" fill="url(#gG)"/><ellipse cx="406.9" cy="56.9" rx="2.3" ry="1.7" fill="url(#gG)"/><ellipse cx="393.9" cy="61.0" rx="2.4" ry="1.6" fill="url(#gG)"/><ellipse cx="346.4" cy="61.5" rx="2.5" ry="2.2" fill="url(#gG)"/><ellipse cx="306.3" cy="61.7" rx="1.4" ry="1.2" fill="url(#gG)"/><ellipse cx="398.6" cy="56.5" rx="2.5" ry="2.1" fill="url(#gG)"/><ellipse cx="332.0" cy="57.1" rx="1.9" ry="1.7" fill="url(#gG)"/><ellipse cx="371.7" cy="56.5" rx="1.3" ry="0.9" fill="url(#gG)"/><ellipse cx="398.4" cy="57.0" rx="2.0" ry="1.5" fill="url(#gG)"/><ellipse cx="384.6" cy="58.6" rx="1.5" ry="1.4" fill="url(#gG)"/><ellipse cx="366.5" cy="61.1" rx="2.4" ry="2.2" fill="url(#gG)"/><ellipse cx="302.7" cy="61.7" rx="1.5" ry="1.2" fill="url(#gG)"/><ellipse cx="407.2" cy="62.0" rx="1.3" ry="0.9" fill="url(#gG)"/><ellipse cx="400.5" cy="61.0" rx="1.8" ry="1.4" fill="url(#gG)"/><ellipse cx="320.2" cy="62.4" rx="1.8" ry="1.7" fill="url(#gG)"/><ellipse cx="375.3" cy="56.2" rx="1.7" ry="1.2" fill="url(#gG)"/><ellipse cx="409.7" cy="60.3" rx="1.4" ry="1.0" fill="url(#gG)"/><ellipse cx="344.9" cy="59.3" rx="2.1" ry="1.6" fill="url(#gG)"/><ellipse cx="344.0" cy="55.6" rx="2.1" ry="1.5" fill="url(#gG)"/><ellipse cx="303.5" cy="61.8" rx="2.6" ry="1.7" fill="url(#gG)"/><ellipse cx="318.7" cy="61.0" rx="1.7" ry="1.2" fill="url(#gG)"/><ellipse cx="361.8" cy="57.7" rx="2.0" ry="1.6" fill="url(#gG)"/><ellipse cx="417.4" cy="63.8" rx="1.3" ry="0.9" fill="url(#gG)"/><ellipse cx="394.7" cy="62.6" rx="2.3" ry="1.9" fill="url(#gG)"/><ellipse cx="378.2" cy="58.5" rx="1.7" ry="1.5" fill="url(#gG)"/><ellipse cx="407.1" cy="63.1" rx="2.2" ry="1.6" fill="url(#gG)"/><ellipse cx="393.8" cy="61.5" rx="2.0" ry="1.6" fill="url(#gG)"/><ellipse cx="343.6" cy="60.0" rx="1.8" ry="1.2" fill="url(#gG)"/><ellipse cx="342.0" cy="58.2" rx="2.6" ry="2.1" fill="url(#gG)"/><path d="M343.5,64.4 A2.6,2.1 0 0 1 348.8,64.4 Z" fill="#3a465a"/><path d="M341.5,64.4 A2.5,1.9 0 0 1 346.6,64.4 Z" fill="#3a465a"/><rect x="405.9" y="53.6" width="2.0" height="9.8" rx="1.0" fill="url(#gC)"/><rect x="369.2" y="51.4" width="1.8" height="12.0" rx="0.9" fill="url(#gC)"/><rect x="308.2" y="52.5" width="1.8" height="10.9" rx="0.9" fill="url(#gC)"/><rect x="388.3" y="57.5" width="2.2" height="5.9" rx="1.1" fill="url(#gC)"/><rect x="341.1" y="54.7" width="2.7" height="8.7" rx="1.3" fill="url(#gC)"/><rect x="309.9" y="54.6" width="1.7" height="8.8" rx="0.8" fill="url(#gC)"/><rect x="420.1" y="56.2" width="1.9" height="7.2" rx="0.9" fill="url(#gC)"/><rect x="351.8" y="50.5" width="2.6" height="12.9" rx="1.3" fill="url(#gC)"/><rect x="358.6" y="52.2" width="2.7" height="11.2" rx="1.3" fill="url(#gC)"/><rect x="331.6" y="51.3" width="1.4" height="12.1" rx="0.7" fill="url(#gC)"/><rect x="332.4" y="51.7" width="2.4" height="11.7" rx="1.2" fill="url(#gC)"/><rect x="348.7" y="54.8" width="1.7" height="8.6" rx="0.8" fill="url(#gC)"/><rect x="404.9" y="51.6" width="2.3" height="11.8" rx="1.2" fill="url(#gC)"/><rect x="388.9" y="54.8" width="2.7" height="8.6" rx="1.4" fill="url(#gC)"/><rect x="309.4" y="57.0" width="2.5" height="6.4" rx="1.3" fill="url(#gC)"/><rect x="341.7" y="51.5" width="1.6" height="11.9" rx="0.8" fill="url(#gC)"/><rect x="365.0" y="55.1" width="2.6" height="8.3" rx="1.3" fill="url(#gC)"/><rect x="412.4" y="52.6" width="1.7" height="10.8" rx="0.8" fill="url(#gC)"/><rect x="391.0" y="53.2" width="2.3" height="10.2" rx="1.2" fill="url(#gC)"/><rect x="382.6" y="50.5" width="1.9" height="12.9" rx="0.9" fill="url(#gC)"/><rect x="350.6" y="55.0" width="1.5" height="8.4" rx="0.7" fill="url(#gC)"/><rect x="340.6" y="54.8" width="2.1" height="8.6" rx="1.0" fill="url(#gC)"/><rect x="331.2" y="50.1" width="2.0" height="13.3" rx="1.0" fill="url(#gC)"/><rect x="412.4" y="57.9" width="2.2" height="5.5" rx="1.1" fill="url(#gC)"/><rect x="306.7" y="55.8" width="2.3" height="7.6" rx="1.1" fill="url(#gC)"/><rect x="340.3" y="51.2" width="1.5" height="12.2" rx="0.8" fill="url(#gC)"/><rect x="389.6" y="43.1" width="0.8" height="16.9" fill="#c9b6a6"/><rect x="411.3" y="43.9" width="1.9" height="16.1" fill="url(#gC)"/><rect x="366.6" y="45.6" width="2.1" height="14.4" fill="url(#gC)"/><rect x="368.0" y="46.2" width="1.1" height="13.8" fill="#c9b6a6"/><rect x="329.2" y="46.3" width="2.4" height="13.7" fill="url(#gC)"/><rect x="375.5" y="46.3" width="0.8" height="13.7" fill="#c9b6a6"/><rect x="311.5" y="46.5" width="2.1" height="13.5" fill="url(#gC)"/><rect x="347.0" y="46.7" width="2.1" height="13.3" fill="url(#gC)"/><rect x="341.0" y="47.6" width="1.3" height="12.4" fill="url(#gC)"/><rect x="363.9" y="48.0" width="2.8" height="12.0" fill="url(#gC)"/><rect x="352.0" y="48.2" width="1.2" height="11.8" fill="url(#gC)"/><rect x="379.5" y="48.3" width="1.2" height="11.7" fill="url(#gC)"/><rect x="374.7" y="49.8" width="1.3" height="10.2" fill="url(#gC)"/><rect x="332.3" y="50.2" width="1.0" height="9.8" fill="#c9b6a6"/><rect x="346.4" y="50.2" width="1.8" height="9.8" fill="url(#gC)"/><rect x="343.3" y="51.2" width="2.6" height="8.8" fill="url(#gC)"/><rect x="378.0" y="51.5" width="1.3" height="8.5" fill="url(#gC)"/><rect x="394.7" y="51.9" width="1.2" height="8.1" fill="url(#gC)"/><rect x="370.1" y="52.6" width="2.2" height="7.4" fill="url(#gC)"/><ellipse cx="418.5" cy="42.1" rx="3.5" ry="2.2" fill="url(#gM)"/><ellipse cx="312.8" cy="42.3" rx="2.4" ry="1.5" fill="url(#gM)"/><ellipse cx="310.2" cy="42.5" rx="2.9" ry="1.9" fill="url(#gM)"/><ellipse cx="390.0" cy="43.1" rx="2.4" ry="1.7" fill="url(#gM)"/><ellipse cx="410.1" cy="43.2" rx="3.2" ry="2.0" fill="url(#gM)"/><ellipse cx="360.3" cy="43.6" rx="2.8" ry="1.8" fill="url(#gM)"/><ellipse cx="384.0" cy="43.7" rx="3.2" ry="2.2" fill="url(#gM)"/><ellipse cx="345.7" cy="43.7" rx="2.4" ry="1.7" fill="url(#gM)"/><ellipse cx="316.7" cy="43.8" rx="2.6" ry="1.6" fill="url(#gM)"/><ellipse cx="370.1" cy="43.8" rx="3.4" ry="2.5" fill="url(#gM)"/><ellipse cx="412.2" cy="43.9" rx="2.2" ry="1.6" fill="url(#gM)"/><ellipse cx="330.5" cy="44.0" rx="3.4" ry="2.2" fill="url(#gM)"/><ellipse cx="304.1" cy="44.3" rx="3.0" ry="1.8" fill="url(#gM)"/><ellipse cx="404.7" cy="44.3" rx="2.8" ry="2.0" fill="url(#gM)"/><ellipse cx="407.6" cy="44.4" rx="3.4" ry="2.2" fill="url(#gM)"/><ellipse cx="343.8" cy="44.5" rx="3.6" ry="2.6" fill="url(#gM)"/><ellipse cx="359.0" cy="44.5" rx="2.4" ry="1.8" fill="url(#gM)"/><ellipse cx="367.0" cy="44.6" rx="3.1" ry="2.0" fill="url(#gM)"/><ellipse cx="377.0" cy="44.6" rx="2.6" ry="1.6" fill="url(#gM)"/><ellipse cx="353.9" cy="44.7" rx="2.5" ry="1.8" fill="url(#gM)"/><ellipse cx="421.0" cy="44.7" rx="3.1" ry="2.2" fill="url(#gM)"/><ellipse cx="389.5" cy="45.1" rx="2.4" ry="1.6" fill="url(#gM)"/><ellipse cx="421.0" cy="45.4" rx="2.2" ry="1.4" fill="url(#gM)"/><ellipse cx="378.9" cy="45.4" rx="3.6" ry="2.3" fill="url(#gM)"/><ellipse cx="367.7" cy="45.6" rx="3.6" ry="2.1" fill="url(#gM)"/><ellipse cx="420.5" cy="45.6" rx="3.4" ry="2.1" fill="url(#gM)"/><ellipse cx="312.8" cy="45.9" rx="3.5" ry="2.5" fill="url(#gM)"/><ellipse cx="315.4" cy="46.1" rx="2.9" ry="2.1" fill="url(#gM)"/><ellipse cx="368.6" cy="46.2" rx="2.2" ry="1.6" fill="url(#gM)"/><ellipse cx="330.4" cy="46.3" rx="2.7" ry="1.8" fill="url(#gM)"/><ellipse cx="375.9" cy="46.3" rx="2.3" ry="1.5" fill="url(#gM)"/><ellipse cx="375.1" cy="46.3" rx="2.5" ry="1.6" fill="url(#gM)"/><ellipse cx="307.2" cy="46.4" rx="3.4" ry="2.4" fill="url(#gM)"/><ellipse cx="312.5" cy="46.5" rx="3.6" ry="2.5" fill="url(#gM)"/><ellipse cx="379.2" cy="46.6" rx="3.4" ry="2.1" fill="url(#gM)"/><ellipse cx="369.5" cy="46.7" rx="3.5" ry="2.6" fill="url(#gM)"/><ellipse cx="348.1" cy="46.7" rx="2.4" ry="1.8" fill="url(#gM)"/><ellipse cx="340.1" cy="46.8" rx="3.6" ry="2.3" fill="url(#gM)"/><ellipse cx="329.7" cy="47.0" rx="2.3" ry="1.4" fill="url(#gM)"/><ellipse cx="410.7" cy="47.4" rx="3.2" ry="2.2" fill="url(#gM)"/><ellipse cx="303.1" cy="47.5" rx="3.1" ry="2.2" fill="url(#gM)"/><ellipse cx="355.7" cy="47.5" rx="3.3" ry="2.4" fill="url(#gM)"/><ellipse cx="341.7" cy="47.6" rx="3.4" ry="2.2" fill="url(#gM)"/><ellipse cx="335.3" cy="48.0" rx="3.5" ry="2.2" fill="url(#gM)"/><ellipse cx="365.2" cy="48.0" rx="2.9" ry="2.1" fill="url(#gM)"/><ellipse cx="352.6" cy="48.2" rx="3.0" ry="2.1" fill="url(#gM)"/><ellipse cx="380.1" cy="48.3" rx="3.0" ry="2.1" fill="url(#gM)"/><ellipse cx="362.0" cy="48.4" rx="2.5" ry="1.8" fill="url(#gM)"/><ellipse cx="383.7" cy="48.9" rx="2.8" ry="1.9" fill="url(#gM)"/><ellipse cx="380.6" cy="48.9" rx="2.7" ry="1.9" fill="url(#gM)"/><ellipse cx="302.6" cy="49.0" rx="3.5" ry="2.2" fill="url(#gM)"/><ellipse cx="375.3" cy="49.8" rx="2.7" ry="1.8" fill="url(#gM)"/><ellipse cx="319.9" cy="49.8" rx="2.7" ry="1.8" fill="url(#gM)"/><ellipse cx="396.7" cy="49.9" rx="2.3" ry="1.5" fill="url(#gM)"/><ellipse cx="307.9" cy="50.0" rx="2.7" ry="1.8" fill="url(#gM)"/><ellipse cx="332.8" cy="50.2" rx="3.3" ry="2.3" fill="url(#gM)"/><ellipse cx="347.3" cy="50.2" rx="2.8" ry="1.9" fill="url(#gM)"/><ellipse cx="345.9" cy="50.2" rx="2.6" ry="1.7" fill="url(#gM)"/><ellipse cx="323.3" cy="50.3" rx="2.6" ry="1.7" fill="url(#gM)"/><ellipse cx="334.0" cy="50.6" rx="3.4" ry="2.2" fill="url(#gM)"/><ellipse cx="319.1" cy="50.8" rx="2.3" ry="1.7" fill="url(#gM)"/><ellipse cx="339.0" cy="50.9" rx="3.6" ry="2.4" fill="url(#gM)"/><ellipse cx="343.2" cy="51.2" rx="2.8" ry="1.8" fill="url(#gM)"/><ellipse cx="344.7" cy="51.2" rx="2.9" ry="2.0" fill="url(#gM)"/><ellipse cx="379.5" cy="51.3" rx="2.7" ry="1.8" fill="url(#gM)"/><ellipse cx="378.6" cy="51.5" rx="3.5" ry="2.5" fill="url(#gM)"/><ellipse cx="330.9" cy="51.6" rx="2.3" ry="1.6" fill="url(#gM)"/><ellipse cx="315.9" cy="51.7" rx="3.3" ry="2.4" fill="url(#gM)"/><ellipse cx="391.2" cy="51.8" rx="2.9" ry="2.0" fill="url(#gM)"/><ellipse cx="395.3" cy="51.9" rx="2.5" ry="1.8" fill="url(#gM)"/><ellipse cx="419.5" cy="52.1" rx="3.2" ry="2.1" fill="url(#gM)"/><ellipse cx="371.2" cy="52.6" rx="2.5" ry="1.8" fill="url(#gM)"/><ellipse cx="407.5" cy="53.3" rx="2.2" ry="1.4" fill="url(#gM)"/><ellipse cx="331.0" cy="53.3" rx="2.9" ry="2.0" fill="url(#gM)"/><ellipse cx="345.4" cy="53.4" rx="2.5" ry="1.8" fill="url(#gM)"/><ellipse cx="414.2" cy="33.8" rx="3.0" ry="1.7" fill="url(#gB)"/><ellipse cx="353.8" cy="36.3" rx="1.8" ry="1.3" fill="url(#gB)"/><ellipse cx="310.2" cy="35.8" rx="2.0" ry="1.4" fill="url(#gB)"/><ellipse cx="369.2" cy="38.4" rx="2.4" ry="1.7" fill="url(#gB)"/><ellipse cx="382.9" cy="31.8" rx="2.0" ry="1.4" fill="url(#gB)"/><ellipse cx="319.1" cy="39.9" rx="2.0" ry="1.1" fill="url(#gB)"/><ellipse cx="313.0" cy="38.2" rx="3.1" ry="2.0" fill="url(#gB)"/><ellipse cx="381.0" cy="31.3" rx="3.1" ry="2.1" fill="url(#gB)"/><ellipse cx="320.2" cy="28.7" rx="2.7" ry="1.5" fill="url(#gB)"/><ellipse cx="402.3" cy="31.8" rx="2.0" ry="1.4" fill="url(#gB)"/><ellipse cx="339.9" cy="35.3" rx="1.9" ry="1.4" fill="url(#gB)"/><ellipse cx="340.6" cy="38.9" rx="1.9" ry="1.4" fill="url(#gB)"/><ellipse cx="419.7" cy="33.1" rx="1.7" ry="1.1" fill="url(#gB)"/><ellipse cx="378.8" cy="30.9" rx="2.5" ry="1.4" fill="url(#gB)"/><ellipse cx="357.5" cy="37.5" rx="2.3" ry="1.6" fill="url(#gB)"/><ellipse cx="315.3" cy="38.8" rx="1.9" ry="1.4" fill="url(#gB)"/><ellipse cx="421.6" cy="40.2" rx="2.5" ry="1.5" fill="url(#gB)"/><ellipse cx="343.5" cy="37.8" rx="2.4" ry="1.8" fill="url(#gB)"/><ellipse cx="312.7" cy="34.3" rx="3.0" ry="2.0" fill="url(#gB)"/><ellipse cx="366.7" cy="29.1" rx="1.9" ry="1.2" fill="url(#gB)"/><ellipse cx="409.2" cy="39.0" rx="2.0" ry="1.5" fill="url(#gB)"/><ellipse cx="305.4" cy="35.8" rx="3.2" ry="2.0" fill="url(#gB)"/><ellipse cx="415.4" cy="36.5" rx="1.8" ry="1.1" fill="url(#gB)"/><ellipse cx="355.7" cy="31.2" rx="2.8" ry="1.6" fill="url(#gB)"/><ellipse cx="396.5" cy="31.9" rx="1.8" ry="1.2" fill="url(#gB)"/><ellipse cx="313.0" cy="35.2" rx="2.9" ry="1.9" fill="url(#gB)"/><ellipse cx="357.1" cy="28.4" rx="2.5" ry="1.4" fill="url(#gB)"/><ellipse cx="379.5" cy="29.7" rx="2.6" ry="1.6" fill="url(#gB)"/><ellipse cx="346.7" cy="36.6" rx="1.9" ry="1.1" fill="url(#gB)"/><ellipse cx="415.1" cy="32.3" rx="3.0" ry="2.1" fill="url(#gB)"/><ellipse cx="359.4" cy="29.9" rx="1.8" ry="1.3" fill="url(#gB)"/><ellipse cx="315.6" cy="34.4" rx="2.5" ry="1.4" fill="url(#gB)"/><ellipse cx="357.9" cy="30.1" rx="2.5" ry="1.6" fill="url(#gB)"/><ellipse cx="345.7" cy="30.6" rx="2.3" ry="1.4" fill="url(#gB)"/><ellipse cx="316.8" cy="31.1" rx="3.0" ry="2.0" fill="url(#gB)"/><ellipse cx="408.9" cy="28.2" rx="3.1" ry="2.0" fill="url(#gB)"/><ellipse cx="396.9" cy="35.4" rx="2.7" ry="1.6" fill="url(#gB)"/><ellipse cx="392.0" cy="30.0" rx="2.1" ry="1.2" fill="url(#gB)"/><ellipse cx="348.9" cy="34.7" rx="2.1" ry="1.6" fill="url(#gB)"/><ellipse cx="311.7" cy="35.5" rx="2.1" ry="1.4" fill="url(#gB)"/><ellipse cx="396.1" cy="37.2" rx="1.8" ry="1.1" fill="url(#gB)"/><ellipse cx="373.8" cy="40.8" rx="1.8" ry="1.2" fill="url(#gB)"/><ellipse cx="384.9" cy="38.6" rx="2.2" ry="1.6" fill="url(#gB)"/><ellipse cx="357.2" cy="40.0" rx="1.7" ry="1.3" fill="url(#gB)"/><ellipse cx="351.2" cy="33.3" rx="1.8" ry="1.1" fill="url(#gB)"/><ellipse cx="390.0" cy="36.8" rx="1.9" ry="1.2" fill="url(#gB)"/><ellipse cx="318.4" cy="30.6" rx="2.0" ry="1.3" fill="url(#gB)"/><ellipse cx="419.2" cy="41.0" rx="2.9" ry="1.9" fill="url(#gB)"/><ellipse cx="361.5" cy="38.1" rx="3.1" ry="2.1" fill="url(#gB)"/><ellipse cx="378.2" cy="30.6" rx="2.6" ry="1.9" fill="url(#gB)"/><ellipse cx="396.4" cy="29.2" rx="2.8" ry="1.7" fill="url(#gB)"/><ellipse cx="321.1" cy="40.6" rx="2.7" ry="1.9" fill="url(#gB)"/><ellipse cx="317.8" cy="38.8" rx="3.1" ry="2.3" fill="url(#gB)"/><ellipse cx="391.3" cy="38.8" rx="2.9" ry="1.9" fill="url(#gB)"/><ellipse cx="354.0" cy="38.7" rx="2.9" ry="2.1" fill="url(#gB)"/>
<polygon points="426.1,22.5 549.5,22.5 549.5,22.5 544.4,25.3 539.2,27.0 534.1,27.4 528.9,27.7 523.8,28.0 518.6,28.3 513.5,28.5 508.4,28.7 503.2,28.8 498.1,28.9 492.9,29.0 487.8,29.0 482.7,29.0 477.5,28.9 472.4,28.8 467.2,28.7 462.1,28.5 457.0,28.3 451.8,28.0 446.7,27.7 441.5,27.4 436.4,27.0 431.2,25.3 426.1,22.5" fill="#0c1232"/><ellipse cx="463.4" cy="28.8" rx="2.6" ry="1.7" fill="url(#gD)"/><ellipse cx="441.2" cy="28.8" rx="2.9" ry="1.6" fill="url(#gD)"/><ellipse cx="528.9" cy="24.8" rx="2.2" ry="1.3" fill="url(#gD)"/><ellipse cx="455.8" cy="26.2" rx="3.1" ry="1.9" fill="url(#gD)"/><ellipse cx="513.3" cy="25.7" rx="2.9" ry="1.8" fill="url(#gD)"/><ellipse cx="510.0" cy="28.7" rx="3.0" ry="1.7" fill="url(#gD)"/><ellipse cx="437.7" cy="27.1" rx="3.0" ry="1.7" fill="url(#gD)"/><ellipse cx="499.3" cy="28.1" rx="3.0" ry="1.5" fill="url(#gD)"/><ellipse cx="486.5" cy="23.6" rx="2.1" ry="1.3" fill="url(#gD)"/><polygon points="425.6,64.4 425.6,62.0 428.3,60.5 430.5,58.6 432.7,59.4 435.4,55.7 437.1,54.8 440.0,55.7 442.8,57.5 444.6,56.8 446.2,57.5 448.0,54.8 451.4,55.3 453.4,57.9 456.1,57.9 458.4,56.0 461.8,56.0 465.3,54.4 468.4,54.3 471.0,53.5 472.8,58.1 475.3,57.5 477.3,55.2 479.0,56.2 482.2,56.0 484.4,58.1 487.7,56.8 489.4,56.6 491.8,58.2 494.0,56.7 496.8,55.3 499.3,56.8 502.6,55.9 504.8,58.3 506.5,57.6 509.3,56.2 511.7,57.2 515.0,57.1 518.0,53.7 520.1,54.2 523.6,57.9 525.3,56.4 528.0,53.7 530.3,57.2 533.1,54.9 536.1,54.9 538.7,55.6 542.1,58.3 545.2,60.0 547.5,61.7 550.0,56.8 550.0,64.4" fill="#adb4be"/><ellipse cx="511.2" cy="57.4" rx="1.5" ry="1.2" fill="url(#gG)"/><ellipse cx="527.7" cy="61.8" rx="1.8" ry="1.2" fill="url(#gG)"/><ellipse cx="489.8" cy="62.6" rx="1.5" ry="1.3" fill="url(#gG)"/><ellipse cx="447.5" cy="57.7" rx="1.4" ry="1.0" fill="url(#gG)"/><ellipse cx="473.5" cy="63.3" rx="2.6" ry="1.4" fill="url(#gG)"/><ellipse cx="464.5" cy="63.1" rx="1.6" ry="1.2" fill="url(#gG)"/><ellipse cx="480.2" cy="56.0" rx="1.6" ry="1.3" fill="url(#gG)"/><ellipse cx="473.8" cy="63.3" rx="1.6" ry="1.2" fill="url(#gG)"/><ellipse cx="537.8" cy="58.9" rx="2.4" ry="2.0" fill="url(#gG)"/><ellipse cx="521.9" cy="57.7" rx="1.5" ry="1.3" fill="url(#gG)"/><ellipse cx="484.2" cy="59.8" rx="2.2" ry="1.9" fill="url(#gG)"/><ellipse cx="460.3" cy="58.2" rx="2.5" ry="2.0" fill="url(#gG)"/><ellipse cx="461.9" cy="60.4" rx="1.6" ry="1.4" fill="url(#gG)"/><ellipse cx="431.7" cy="62.9" rx="2.0" ry="1.5" fill="url(#gG)"/><ellipse cx="541.6" cy="58.6" rx="1.6" ry="1.1" fill="url(#gG)"/><ellipse cx="493.7" cy="61.5" rx="2.2" ry="1.7" fill="url(#gG)"/><ellipse cx="525.5" cy="56.0" rx="1.7" ry="1.4" fill="url(#gG)"/><ellipse cx="545.0" cy="62.0" rx="2.2" ry="1.9" fill="url(#gG)"/><ellipse cx="474.9" cy="63.1" rx="2.3" ry="1.6" fill="url(#gG)"/><ellipse cx="474.7" cy="61.9" rx="1.8" ry="1.2" fill="url(#gG)"/><ellipse cx="533.3" cy="59.6" rx="2.0" ry="1.7" fill="url(#gG)"/><ellipse cx="536.9" cy="56.2" rx="1.7" ry="1.2" fill="url(#gG)"/><ellipse cx="477.2" cy="59.3" rx="2.4" ry="2.0" fill="url(#gG)"/><ellipse cx="497.3" cy="58.5" rx="2.0" ry="1.5" fill="url(#gG)"/><ellipse cx="530.0" cy="61.8" rx="2.4" ry="1.7" fill="url(#gG)"/><ellipse cx="508.8" cy="61.5" rx="2.0" ry="1.8" fill="url(#gG)"/><ellipse cx="536.6" cy="61.4" rx="2.4" ry="2.0" fill="url(#gG)"/><ellipse cx="534.1" cy="56.2" rx="2.2" ry="1.9" fill="url(#gG)"/><ellipse cx="501.6" cy="57.4" rx="1.4" ry="1.2" fill="url(#gG)"/><ellipse cx="527.5" cy="57.4" rx="1.6" ry="1.1" fill="url(#gG)"/><ellipse cx="438.1" cy="60.8" rx="2.6" ry="2.3" fill="url(#gG)"/><ellipse cx="470.6" cy="61.0" rx="1.4" ry="1.3" fill="url(#gG)"/><ellipse cx="466.4" cy="55.1" rx="2.1" ry="1.5" fill="url(#gG)"/><ellipse cx="460.3" cy="55.6" rx="1.9" ry="1.5" fill="url(#gG)"/><ellipse cx="525.4" cy="55.4" rx="2.4" ry="1.6" fill="url(#gG)"/><ellipse cx="454.1" cy="60.4" rx="1.7" ry="1.3" fill="url(#gG)"/><ellipse cx="496.2" cy="56.9" rx="2.3" ry="1.7" fill="url(#gG)"/><ellipse cx="529.3" cy="62.0" rx="2.0" ry="1.3" fill="url(#gG)"/><ellipse cx="521.8" cy="55.3" rx="2.0" ry="1.5" fill="url(#gG)"/><ellipse cx="434.3" cy="61.0" rx="2.2" ry="1.9" fill="url(#gG)"/><ellipse cx="475.6" cy="59.4" rx="2.1" ry="1.5" fill="url(#gG)"/><ellipse cx="532.8" cy="63.6" rx="2.3" ry="1.1" fill="url(#gG)"/><ellipse cx="466.9" cy="63.5" rx="1.4" ry="1.1" fill="url(#gG)"/><ellipse cx="443.0" cy="58.9" rx="2.2" ry="1.9" fill="url(#gG)"/><ellipse cx="482.2" cy="58.0" rx="1.5" ry="1.2" fill="url(#gG)"/><ellipse cx="461.2" cy="56.7" rx="2.3" ry="1.8" fill="url(#gG)"/><ellipse cx="480.3" cy="56.7" rx="2.2" ry="1.6" fill="url(#gG)"/><ellipse cx="459.1" cy="59.8" rx="2.2" ry="2.1" fill="url(#gG)"/><ellipse cx="518.1" cy="63.2" rx="2.5" ry="1.5" fill="url(#gG)"/><ellipse cx="514.7" cy="55.6" rx="1.6" ry="1.0" fill="url(#gG)"/><ellipse cx="532.3" cy="61.2" rx="2.1" ry="1.5" fill="url(#gG)"/><ellipse cx="470.1" cy="56.5" rx="2.1" ry="2.0" fill="url(#gG)"/><ellipse cx="464.0" cy="55.4" rx="1.5" ry="1.2" fill="url(#gG)"/><ellipse cx="536.6" cy="61.9" rx="1.9" ry="1.3" fill="url(#gG)"/><ellipse cx="439.7" cy="56.4" rx="2.3" ry="1.8" fill="url(#gG)"/><ellipse cx="547.8" cy="63.8" rx="2.3" ry="0.9" fill="url(#gG)"/><ellipse cx="527.2" cy="56.2" rx="1.4" ry="1.2" fill="url(#gG)"/><ellipse cx="488.8" cy="56.8" rx="1.6" ry="1.1" fill="url(#gG)"/><ellipse cx="537.8" cy="61.1" rx="2.5" ry="2.4" fill="url(#gG)"/><ellipse cx="480.1" cy="61.3" rx="1.8" ry="1.6" fill="url(#gG)"/><ellipse cx="529.6" cy="56.2" rx="1.3" ry="0.9" fill="url(#gG)"/><ellipse cx="498.2" cy="58.3" rx="1.3" ry="1.2" fill="url(#gG)"/><ellipse cx="522.8" cy="59.0" rx="1.4" ry="1.2" fill="url(#gG)"/><ellipse cx="492.0" cy="55.7" rx="1.7" ry="1.4" fill="url(#gG)"/><ellipse cx="535.0" cy="59.2" rx="2.1" ry="1.5" fill="url(#gG)"/><ellipse cx="456.4" cy="62.8" rx="1.8" ry="1.2" fill="url(#gG)"/><ellipse cx="499.0" cy="56.1" rx="1.6" ry="1.2" fill="url(#gG)"/><ellipse cx="498.3" cy="60.5" rx="2.2" ry="1.7" fill="url(#gG)"/><ellipse cx="434.9" cy="61.6" rx="1.4" ry="1.1" fill="url(#gG)"/><ellipse cx="475.6" cy="60.8" rx="2.2" ry="1.6" fill="url(#gG)"/><ellipse cx="506.1" cy="61.0" rx="1.9" ry="1.3" fill="url(#gG)"/><ellipse cx="537.9" cy="60.2" rx="1.4" ry="1.0" fill="url(#gG)"/><ellipse cx="547.4" cy="61.1" rx="1.8" ry="1.6" fill="url(#gG)"/><ellipse cx="527.4" cy="60.5" rx="2.3" ry="1.5" fill="url(#gG)"/><ellipse cx="438.1" cy="63.4" rx="2.3" ry="1.3" fill="url(#gG)"/><ellipse cx="432.6" cy="59.1" rx="2.5" ry="1.8" fill="url(#gG)"/><ellipse cx="508.8" cy="63.0" rx="2.1" ry="1.7" fill="url(#gG)"/><ellipse cx="458.8" cy="56.4" rx="1.3" ry="1.2" fill="url(#gG)"/><ellipse cx="439.3" cy="63.4" rx="2.2" ry="1.3" fill="url(#gG)"/><ellipse cx="525.4" cy="56.5" rx="2.0" ry="1.3" fill="url(#gG)"/><ellipse cx="522.9" cy="62.7" rx="2.5" ry="1.6" fill="url(#gG)"/><ellipse cx="530.8" cy="59.8" rx="2.4" ry="1.9" fill="url(#gG)"/><ellipse cx="502.5" cy="60.1" rx="2.3" ry="1.6" fill="url(#gG)"/><ellipse cx="433.2" cy="60.8" rx="1.7" ry="1.3" fill="url(#gG)"/><ellipse cx="427.5" cy="63.2" rx="1.3" ry="1.2" fill="url(#gG)"/><ellipse cx="525.9" cy="59.0" rx="1.5" ry="1.2" fill="url(#gG)"/><ellipse cx="452.0" cy="58.7" rx="1.4" ry="1.4" fill="url(#gG)"/><ellipse cx="493.4" cy="58.1" rx="1.4" ry="1.2" fill="url(#gG)"/><ellipse cx="530.6" cy="62.3" rx="1.4" ry="1.1" fill="url(#gG)"/><ellipse cx="463.7" cy="61.6" rx="1.5" ry="1.2" fill="url(#gG)"/><ellipse cx="546.4" cy="63.0" rx="1.3" ry="0.9" fill="url(#gG)"/><ellipse cx="440.5" cy="61.0" rx="2.1" ry="1.7" fill="url(#gG)"/><ellipse cx="482.4" cy="58.5" rx="2.1" ry="1.8" fill="url(#gG)"/><ellipse cx="538.8" cy="61.3" rx="2.3" ry="2.2" fill="url(#gG)"/><ellipse cx="529.1" cy="61.2" rx="1.3" ry="1.1" fill="url(#gG)"/><ellipse cx="530.6" cy="58.7" rx="2.4" ry="1.7" fill="url(#gG)"/><ellipse cx="542.0" cy="59.9" rx="2.2" ry="1.6" fill="url(#gG)"/><ellipse cx="463.4" cy="58.0" rx="1.7" ry="1.2" fill="url(#gG)"/><ellipse cx="480.8" cy="63.4" rx="2.2" ry="1.3" fill="url(#gG)"/><ellipse cx="519.9" cy="62.2" rx="2.6" ry="2.3" fill="url(#gG)"/><ellipse cx="460.2" cy="57.2" rx="1.8" ry="1.2" fill="url(#gG)"/><ellipse cx="454.8" cy="62.6" rx="2.5" ry="1.9" fill="url(#gG)"/><ellipse cx="520.9" cy="61.7" rx="2.5" ry="2.2" fill="url(#gG)"/><ellipse cx="491.7" cy="56.0" rx="2.4" ry="1.8" fill="url(#gG)"/><ellipse cx="503.3" cy="58.2" rx="2.0" ry="1.9" fill="url(#gG)"/><ellipse cx="446.3" cy="59.6" rx="2.1" ry="1.7" fill="url(#gG)"/><ellipse cx="541.4" cy="59.5" rx="2.5" ry="2.1" fill="url(#gG)"/><ellipse cx="545.0" cy="59.3" rx="1.6" ry="1.2" fill="url(#gG)"/><ellipse cx="537.6" cy="55.2" rx="1.6" ry="1.4" fill="url(#gG)"/><ellipse cx="547.7" cy="61.1" rx="1.9" ry="1.6" fill="url(#gG)"/><path d="M507.2,64.4 A3.1,2.4 0 0 1 513.5,64.4 Z" fill="#3a465a"/><rect x="456.1" y="44.4" width="1.8" height="19.0" rx="0.9" fill="url(#gC)"/><rect x="510.3" y="47.6" width="1.7" height="15.8" rx="0.9" fill="url(#gC)"/><rect x="543.4" y="52.3" width="2.4" height="11.1" rx="1.2" fill="url(#gC)"/><rect x="505.7" y="53.7" width="2.4" height="9.7" rx="1.2" fill="url(#gC)"/><rect x="463.0" y="44.9" width="1.5" height="18.5" rx="0.8" fill="url(#gC)"/><rect x="427.4" y="46.0" width="2.0" height="17.4" rx="1.0" fill="url(#gC)"/><rect x="439.3" y="57.6" width="2.2" height="5.8" rx="1.1" fill="url(#gC)"/><rect x="509.8" y="54.8" width="1.8" height="8.6" rx="0.9" fill="url(#gC)"/><rect x="447.6" y="48.2" width="1.6" height="15.2" rx="0.8" fill="url(#gC)"/><rect x="475.4" y="50.2" width="2.5" height="13.2" rx="1.3" fill="url(#gC)"/><rect x="515.0" y="57.1" width="1.6" height="6.3" rx="0.8" fill="url(#gC)"/><rect x="467.1" y="44.4" width="2.7" height="19.0" rx="1.4" fill="url(#gC)"/><rect x="527.2" y="56.0" width="1.8" height="7.4" rx="0.9" fill="url(#gC)"/><rect x="523.6" y="47.9" width="2.5" height="15.5" rx="1.2" fill="url(#gC)"/><rect x="426.9" y="56.7" width="1.7" height="6.7" rx="0.9" fill="url(#gC)"/><rect x="444.7" y="52.2" width="2.5" height="11.2" rx="1.2" fill="url(#gC)"/><rect x="506.7" y="46.0" width="1.7" height="17.4" rx="0.8" fill="url(#gC)"/><rect x="437.0" y="49.4" width="3.0" height="14.0" rx="1.5" fill="url(#gC)"/><rect x="505.4" y="37.8" width="2.0" height="25.6" rx="1.0" fill="url(#gC)"/><rect x="433.8" y="42.8" width="1.4" height="20.6" rx="0.7" fill="url(#gC)"/><rect x="441.3" y="38.9" width="2.4" height="24.5" rx="1.2" fill="url(#gC)"/><rect x="514.3" y="42.3" width="1.5" height="21.1" rx="0.8" fill="url(#gC)"/><rect x="456.5" y="40.2" width="1.8" height="23.2" rx="0.9" fill="url(#gC)"/><rect x="439.4" y="42.4" width="1.6" height="21.0" rx="0.8" fill="url(#gC)"/><rect x="448.4" y="38.2" width="1.7" height="23.8" fill="url(#gC)"/><rect x="439.4" y="38.3" width="1.5" height="23.7" fill="url(#gC)"/><rect x="485.0" y="38.3" width="1.2" height="23.7" fill="url(#gC)"/><rect x="453.3" y="38.6" width="0.8" height="23.4" fill="#c9b6a6"/><rect x="533.9" y="39.0" width="0.8" height="23.0" fill="#c9b6a6"/><rect x="469.9" y="40.2" width="2.3" height="21.8" fill="url(#gC)"/><rect x="444.7" y="40.5" width="1.7" height="21.5" fill="url(#gC)"/><rect x="504.2" y="41.2" width="2.6" height="20.8" fill="url(#gC)"/><rect x="527.5" y="41.6" width="0.9" height="20.4" fill="#c9b6a6"/><rect x="449.9" y="41.9" width="2.2" height="20.1" fill="url(#gC)"/><rect x="435.0" y="42.0" width="2.4" height="20.0" fill="url(#gC)"/><rect x="443.2" y="42.3" width="1.9" height="19.7" fill="url(#gC)"/><rect x="440.6" y="42.4" width="2.2" height="19.6" fill="url(#gC)"/><rect x="481.7" y="43.7" width="0.8" height="18.3" fill="#c9b6a6"/><rect x="461.4" y="44.9" width="1.0" height="17.1" fill="#c9b6a6"/><rect x="454.6" y="45.8" width="2.0" height="16.2" fill="url(#gC)"/><rect x="454.8" y="45.9" width="1.2" height="16.1" fill="url(#gC)"/><rect x="497.2" y="46.1" width="1.8" height="15.9" fill="url(#gC)"/><rect x="537.8" y="46.3" width="2.2" height="15.7" fill="url(#gC)"/><rect x="470.5" y="46.4" width="1.2" height="15.6" fill="url(#gC)"/><rect x="455.0" y="46.6" width="1.3" height="15.4" fill="url(#gC)"/><rect x="540.7" y="47.4" width="0.9" height="14.6" fill="#c9b6a6"/><rect x="435.8" y="48.5" width="2.3" height="13.5" fill="url(#gC)"/><rect x="490.0" y="50.2" width="1.3" height="11.8" fill="url(#gC)"/><rect x="447.5" y="50.5" width="1.9" height="11.5" fill="url(#gC)"/><rect x="470.1" y="50.7" width="0.7" height="11.3" fill="#c9b6a6"/><rect x="459.1" y="50.8" width="0.9" height="11.2" fill="#c9b6a6"/><rect x="444.5" y="52.5" width="1.0" height="9.5" fill="#c9b6a6"/><rect x="528.9" y="52.5" width="1.7" height="9.5" fill="url(#gC)"/><rect x="446.4" y="52.9" width="1.4" height="9.1" fill="url(#gC)"/><rect x="506.1" y="53.5" width="2.3" height="8.5" fill="url(#gC)"/><rect x="543.6" y="53.7" width="0.8" height="8.3" fill="#c9b6a6"/><rect x="435.9" y="54.2" width="1.7" height="7.8" fill="url(#gC)"/><rect x="523.0" y="54.2" width="2.1" height="7.8" fill="url(#gC)"/><rect x="440.7" y="54.8" width="1.3" height="7.2" fill="url(#gC)"/><rect x="453.8" y="55.3" width="2.2" height="6.7" fill="url(#gC)"/><rect x="531.6" y="55.3" width="1.6" height="6.7" fill="url(#gC)"/><ellipse cx="449.3" cy="38.2" rx="2.4" ry="2.1" fill="url(#gM)"/><ellipse cx="440.1" cy="38.3" rx="1.9" ry="1.6" fill="url(#gM)"/><ellipse cx="485.6" cy="38.3" rx="2.4" ry="1.9" fill="url(#gM)"/><ellipse cx="453.7" cy="38.6" rx="2.1" ry="1.7" fill="url(#gM)"/><ellipse cx="534.3" cy="39.0" rx="1.9" ry="1.5" fill="url(#gM)"/><ellipse cx="480.4" cy="40.1" rx="2.2" ry="2.0" fill="url(#gM)"/><ellipse cx="438.9" cy="40.1" rx="2.2" ry="1.7" fill="url(#gM)"/><ellipse cx="471.1" cy="40.2" rx="2.8" ry="2.4" fill="url(#gM)"/><ellipse cx="431.9" cy="40.4" rx="2.1" ry="1.8" fill="url(#gM)"/><ellipse cx="445.6" cy="40.5" rx="2.2" ry="2.0" fill="url(#gM)"/><ellipse cx="505.6" cy="41.2" rx="2.8" ry="2.6" fill="url(#gM)"/><ellipse cx="498.5" cy="41.6" rx="1.6" ry="1.4" fill="url(#gM)"/><ellipse cx="528.0" cy="41.6" rx="2.8" ry="2.4" fill="url(#gM)"/><ellipse cx="531.7" cy="41.8" rx="1.7" ry="1.4" fill="url(#gM)"/><ellipse cx="450.9" cy="41.9" rx="2.1" ry="1.7" fill="url(#gM)"/><ellipse cx="436.2" cy="42.0" rx="2.5" ry="2.2" fill="url(#gM)"/><ellipse cx="443.0" cy="42.0" rx="1.9" ry="1.5" fill="url(#gM)"/><ellipse cx="444.2" cy="42.3" rx="1.7" ry="1.7" fill="url(#gM)"/><ellipse cx="441.6" cy="42.4" rx="2.4" ry="2.1" fill="url(#gM)"/><ellipse cx="510.9" cy="42.6" rx="1.9" ry="1.6" fill="url(#gM)"/><ellipse cx="515.0" cy="42.9" rx="1.7" ry="1.3" fill="url(#gM)"/><ellipse cx="482.1" cy="43.7" rx="1.8" ry="1.7" fill="url(#gM)"/><ellipse cx="516.1" cy="44.5" rx="2.4" ry="2.3" fill="url(#gM)"/><ellipse cx="530.8" cy="44.6" rx="2.7" ry="2.1" fill="url(#gM)"/><ellipse cx="461.9" cy="44.9" rx="2.5" ry="2.0" fill="url(#gM)"/><ellipse cx="541.0" cy="45.3" rx="1.7" ry="1.6" fill="url(#gM)"/><ellipse cx="455.6" cy="45.8" rx="2.7" ry="2.2" fill="url(#gM)"/><ellipse cx="455.4" cy="45.9" rx="1.7" ry="1.3" fill="url(#gM)"/><ellipse cx="498.1" cy="46.1" rx="2.1" ry="2.0" fill="url(#gM)"/><ellipse cx="458.6" cy="46.2" rx="2.3" ry="2.1" fill="url(#gM)"/><ellipse cx="538.9" cy="46.3" rx="2.5" ry="1.9" fill="url(#gM)"/><ellipse cx="471.1" cy="46.4" rx="2.7" ry="2.4" fill="url(#gM)"/><ellipse cx="430.5" cy="46.5" rx="2.5" ry="2.2" fill="url(#gM)"/><ellipse cx="502.8" cy="46.5" rx="2.4" ry="2.3" fill="url(#gM)"/><ellipse cx="504.8" cy="46.5" rx="2.6" ry="2.0" fill="url(#gM)"/><ellipse cx="428.8" cy="46.6" rx="2.4" ry="2.2" fill="url(#gM)"/><ellipse cx="455.7" cy="46.6" rx="2.2" ry="2.2" fill="url(#gM)"/><ellipse cx="455.8" cy="47.0" rx="2.3" ry="2.1" fill="url(#gM)"/><ellipse cx="541.2" cy="47.4" rx="1.9" ry="1.5" fill="url(#gM)"/><ellipse cx="437.0" cy="48.5" rx="2.7" ry="2.4" fill="url(#gM)"/><ellipse cx="454.9" cy="48.8" rx="2.7" ry="2.1" fill="url(#gM)"/><ellipse cx="526.5" cy="48.8" rx="2.6" ry="2.5" fill="url(#gM)"/><ellipse cx="504.9" cy="49.4" rx="2.4" ry="2.4" fill="url(#gM)"/><ellipse cx="468.9" cy="50.0" rx="1.6" ry="1.4" fill="url(#gM)"/><ellipse cx="490.7" cy="50.2" rx="1.7" ry="1.6" fill="url(#gM)"/><ellipse cx="476.0" cy="50.2" rx="1.6" ry="1.6" fill="url(#gM)"/><ellipse cx="448.5" cy="50.5" rx="1.6" ry="1.3" fill="url(#gM)"/><ellipse cx="470.4" cy="50.7" rx="2.1" ry="1.7" fill="url(#gM)"/><ellipse cx="459.5" cy="50.8" rx="2.8" ry="2.1" fill="url(#gM)"/><ellipse cx="450.7" cy="51.5" rx="2.3" ry="2.3" fill="url(#gM)"/><ellipse cx="451.2" cy="51.8" rx="2.0" ry="1.6" fill="url(#gM)"/><ellipse cx="445.1" cy="52.5" rx="2.7" ry="2.6" fill="url(#gM)"/><ellipse cx="529.8" cy="52.5" rx="2.4" ry="2.1" fill="url(#gM)"/><ellipse cx="447.1" cy="52.9" rx="1.6" ry="1.4" fill="url(#gM)"/><ellipse cx="507.5" cy="53.1" rx="1.9" ry="1.4" fill="url(#gM)"/><ellipse cx="507.3" cy="53.5" rx="2.7" ry="2.2" fill="url(#gM)"/><ellipse cx="544.0" cy="53.7" rx="2.1" ry="1.9" fill="url(#gM)"/><ellipse cx="436.8" cy="54.2" rx="2.3" ry="1.8" fill="url(#gM)"/><ellipse cx="524.0" cy="54.2" rx="2.8" ry="2.2" fill="url(#gM)"/><ellipse cx="441.4" cy="54.8" rx="2.8" ry="2.2" fill="url(#gM)"/><ellipse cx="454.8" cy="55.3" rx="2.0" ry="1.7" fill="url(#gM)"/><ellipse cx="476.9" cy="55.3" rx="2.7" ry="2.2" fill="url(#gM)"/><ellipse cx="532.4" cy="55.3" rx="2.6" ry="2.0" fill="url(#gM)"/><ellipse cx="472.1" cy="55.3" rx="2.5" ry="2.4" fill="url(#gM)"/><ellipse cx="486.8" cy="55.9" rx="2.3" ry="1.9" fill="url(#gM)"/><ellipse cx="502.2" cy="27.2" rx="2.1" ry="1.6" fill="url(#gB)"/><ellipse cx="460.9" cy="26.4" rx="2.8" ry="2.3" fill="url(#gB)"/><ellipse cx="442.8" cy="31.1" rx="2.3" ry="1.6" fill="url(#gB)"/><ellipse cx="435.4" cy="34.3" rx="2.5" ry="1.8" fill="url(#gB)"/><ellipse cx="437.5" cy="30.3" rx="1.6" ry="1.4" fill="url(#gB)"/><ellipse cx="433.3" cy="29.2" rx="2.5" ry="1.6" fill="url(#gB)"/><ellipse cx="440.0" cy="26.8" rx="1.7" ry="1.3" fill="url(#gB)"/><ellipse cx="528.2" cy="27.9" rx="1.7" ry="1.4" fill="url(#gB)"/><ellipse cx="478.8" cy="29.7" rx="1.7" ry="1.1" fill="url(#gB)"/><ellipse cx="545.1" cy="27.3" rx="1.8" ry="1.4" fill="url(#gB)"/><ellipse cx="535.4" cy="35.9" rx="2.1" ry="1.8" fill="url(#gB)"/><ellipse cx="500.4" cy="29.2" rx="2.1" ry="1.6" fill="url(#gB)"/><ellipse cx="516.2" cy="27.4" rx="1.8" ry="1.5" fill="url(#gB)"/><ellipse cx="440.1" cy="34.9" rx="1.9" ry="1.3" fill="url(#gB)"/><ellipse cx="458.1" cy="31.2" rx="2.8" ry="1.8" fill="url(#gB)"/><ellipse cx="530.8" cy="29.5" rx="1.7" ry="1.4" fill="url(#gB)"/><ellipse cx="468.6" cy="28.1" rx="2.0" ry="1.6" fill="url(#gB)"/><ellipse cx="531.9" cy="32.3" rx="1.5" ry="1.2" fill="url(#gB)"/><ellipse cx="500.7" cy="35.9" rx="2.7" ry="1.9" fill="url(#gB)"/><ellipse cx="530.1" cy="35.0" rx="1.8" ry="1.3" fill="url(#gB)"/><ellipse cx="472.6" cy="29.9" rx="2.0" ry="1.2" fill="url(#gB)"/><ellipse cx="454.7" cy="36.0" rx="2.0" ry="1.5" fill="url(#gB)"/><ellipse cx="534.8" cy="34.3" rx="1.8" ry="1.5" fill="url(#gB)"/><ellipse cx="524.7" cy="36.9" rx="2.4" ry="1.9" fill="url(#gB)"/><ellipse cx="525.8" cy="28.8" rx="2.4" ry="1.6" fill="url(#gB)"/><ellipse cx="529.0" cy="27.5" rx="2.2" ry="1.5" fill="url(#gB)"/><ellipse cx="526.7" cy="29.8" rx="2.6" ry="2.1" fill="url(#gB)"/><ellipse cx="533.8" cy="27.5" rx="2.7" ry="2.1" fill="url(#gB)"/><ellipse cx="509.3" cy="33.2" rx="1.6" ry="1.3" fill="url(#gB)"/><ellipse cx="493.6" cy="31.0" rx="1.9" ry="1.5" fill="url(#gB)"/><ellipse cx="522.1" cy="35.6" rx="1.8" ry="1.2" fill="url(#gB)"/><ellipse cx="457.4" cy="27.1" rx="1.9" ry="1.2" fill="url(#gB)"/><ellipse cx="523.8" cy="28.5" rx="1.6" ry="1.0" fill="url(#gB)"/><ellipse cx="517.1" cy="28.2" rx="2.1" ry="1.5" fill="url(#gB)"/><ellipse cx="524.5" cy="36.5" rx="1.9" ry="1.4" fill="url(#gB)"/><ellipse cx="535.7" cy="31.2" rx="2.7" ry="2.1" fill="url(#gB)"/><ellipse cx="464.9" cy="35.6" rx="2.2" ry="1.4" fill="url(#gB)"/><ellipse cx="498.4" cy="35.1" rx="2.2" ry="1.6" fill="url(#gB)"/><ellipse cx="477.7" cy="35.7" rx="2.4" ry="1.5" fill="url(#gB)"/><ellipse cx="471.1" cy="30.0" rx="2.7" ry="2.1" fill="url(#gB)"/><ellipse cx="442.3" cy="36.1" rx="1.5" ry="1.2" fill="url(#gB)"/><ellipse cx="479.6" cy="33.9" rx="2.1" ry="1.3" fill="url(#gB)"/><ellipse cx="490.7" cy="35.0" rx="2.5" ry="1.7" fill="url(#gB)"/><ellipse cx="454.1" cy="34.2" rx="2.5" ry="1.7" fill="url(#gB)"/><ellipse cx="534.3" cy="36.9" rx="2.1" ry="1.4" fill="url(#gB)"/><ellipse cx="513.3" cy="36.2" rx="1.8" ry="1.2" fill="url(#gB)"/><ellipse cx="467.0" cy="34.1" rx="1.7" ry="1.3" fill="url(#gB)"/><ellipse cx="487.8" cy="33.4" rx="1.7" ry="1.4" fill="url(#gB)"/><ellipse cx="548.5" cy="32.2" rx="2.5" ry="1.6" fill="url(#gB)"/><ellipse cx="537.6" cy="32.1" rx="2.5" ry="2.0" fill="url(#gB)"/><ellipse cx="471.0" cy="36.2" rx="1.8" ry="1.1" fill="url(#gB)"/><ellipse cx="488.1" cy="35.9" rx="2.7" ry="2.2" fill="url(#gB)"/><ellipse cx="489.1" cy="36.3" rx="2.2" ry="1.4" fill="url(#gB)"/><ellipse cx="503.7" cy="34.8" rx="2.1" ry="1.5" fill="url(#gB)"/><ellipse cx="458.6" cy="29.0" rx="2.0" ry="1.5" fill="url(#gB)"/><ellipse cx="484.0" cy="27.0" rx="1.5" ry="1.0" fill="url(#gB)"/><ellipse cx="514.1" cy="34.2" rx="1.8" ry="1.2" fill="url(#gB)"/><ellipse cx="489.8" cy="27.9" rx="2.3" ry="1.9" fill="url(#gB)"/><ellipse cx="451.6" cy="32.4" rx="2.4" ry="1.9" fill="url(#gB)"/><ellipse cx="513.5" cy="33.8" rx="1.9" ry="1.5" fill="url(#gB)"/><ellipse cx="539.4" cy="36.4" rx="2.5" ry="1.8" fill="url(#gB)"/><ellipse cx="437.6" cy="36.6" rx="2.4" ry="1.8" fill="url(#gB)"/><ellipse cx="444.4" cy="39.7" rx="2.2" ry="1.9" fill="url(#gB)"/><ellipse cx="467.9" cy="42.1" rx="1.8" ry="1.1" fill="url(#gB)"/><ellipse cx="446.7" cy="39.3" rx="2.2" ry="1.5" fill="url(#gB)"/><ellipse cx="446.8" cy="37.7" rx="1.6" ry="1.0" fill="url(#gB)"/><ellipse cx="465.4" cy="40.0" rx="1.7" ry="1.2" fill="url(#gB)"/><ellipse cx="480.5" cy="43.8" rx="2.0" ry="1.7" fill="url(#gB)"/><ellipse cx="484.3" cy="37.6" rx="2.2" ry="1.4" fill="url(#gB)"/><ellipse cx="447.6" cy="36.6" rx="2.3" ry="1.9" fill="url(#gB)"/><ellipse cx="476.1" cy="38.8" rx="2.0" ry="1.4" fill="url(#gB)"/><ellipse cx="511.0" cy="39.1" rx="1.7" ry="1.4" fill="url(#gB)"/>
<polygon points="552.5,22.1 673.7,22.1 673.7,22.1 668.7,25.7 663.6,27.5 658.6,27.7 653.5,27.9 648.5,28.0 643.4,28.2 638.4,28.3 633.3,28.4 628.2,28.5 623.2,28.6 618.2,28.6 613.1,28.6 608.1,28.6 603.0,28.6 598.0,28.5 592.9,28.4 587.9,28.3 582.8,28.2 577.8,28.0 572.7,27.9 567.6,27.7 562.6,27.5 557.5,25.7 552.5,22.1" fill="#0c1232"/><ellipse cx="621.8" cy="22.5" rx="2.4" ry="1.8" fill="url(#gD)"/><ellipse cx="595.8" cy="26.6" rx="2.5" ry="1.7" fill="url(#gD)"/><ellipse cx="605.1" cy="24.4" rx="2.1" ry="1.5" fill="url(#gD)"/><ellipse cx="641.1" cy="28.7" rx="1.7" ry="1.1" fill="url(#gD)"/><ellipse cx="655.0" cy="27.6" rx="2.1" ry="1.6" fill="url(#gD)"/><ellipse cx="594.0" cy="28.6" rx="2.1" ry="1.4" fill="url(#gD)"/><ellipse cx="575.2" cy="23.3" rx="2.5" ry="1.9" fill="url(#gD)"/><ellipse cx="556.7" cy="24.6" rx="2.0" ry="1.4" fill="url(#gD)"/><ellipse cx="596.8" cy="28.3" rx="1.9" ry="1.3" fill="url(#gD)"/><ellipse cx="664.3" cy="26.7" rx="2.0" ry="1.3" fill="url(#gD)"/><polygon points="552.0,64.4 552.0,62.0 554.7,61.2 556.7,59.1 559.0,57.7 562.3,56.5 564.4,55.1 567.5,54.3 570.4,53.6 572.3,53.8 575.4,54.2 577.4,53.8 579.4,57.1 582.3,58.0 585.7,56.2 589.1,53.9 592.4,55.6 594.3,57.2 597.5,55.4 599.2,57.8 602.2,56.4 605.7,53.7 607.3,54.1 608.8,57.0 611.6,54.1 613.4,54.4 616.1,56.8 619.6,55.3 623.0,55.6 625.3,54.7 627.3,58.3 630.8,57.0 632.6,54.4 634.4,55.2 637.4,53.8 640.0,56.8 641.5,55.7 644.6,56.3 647.0,57.8 649.7,55.2 652.0,58.1 655.2,58.0 657.8,54.2 659.7,55.4 662.6,53.5 665.7,58.5 668.2,57.2 671.3,60.3 674.1,62.2 674.2,56.8 674.2,64.4" fill="#adb4be"/><ellipse cx="602.1" cy="63.3" rx="2.5" ry="1.4" fill="url(#gG)"/><ellipse cx="626.9" cy="57.8" rx="1.8" ry="1.3" fill="url(#gG)"/><ellipse cx="661.6" cy="61.8" rx="2.3" ry="2.1" fill="url(#gG)"/><ellipse cx="672.1" cy="63.0" rx="1.7" ry="1.5" fill="url(#gG)"/><ellipse cx="584.5" cy="60.3" rx="1.5" ry="1.4" fill="url(#gG)"/><ellipse cx="611.7" cy="57.4" rx="2.5" ry="1.7" fill="url(#gG)"/><ellipse cx="664.8" cy="61.8" rx="1.5" ry="1.3" fill="url(#gG)"/><ellipse cx="621.9" cy="62.8" rx="2.1" ry="1.6" fill="url(#gG)"/><ellipse cx="665.2" cy="56.9" rx="2.3" ry="1.6" fill="url(#gG)"/><ellipse cx="586.3" cy="56.0" rx="2.4" ry="1.9" fill="url(#gG)"/><ellipse cx="640.3" cy="57.3" rx="2.2" ry="1.9" fill="url(#gG)"/><ellipse cx="564.7" cy="59.3" rx="2.2" ry="1.6" fill="url(#gG)"/><ellipse cx="631.6" cy="57.4" rx="1.8" ry="1.6" fill="url(#gG)"/><ellipse cx="666.4" cy="63.8" rx="1.9" ry="0.9" fill="url(#gG)"/><ellipse cx="650.2" cy="61.5" rx="1.9" ry="1.7" fill="url(#gG)"/><ellipse cx="601.2" cy="63.2" rx="1.9" ry="1.3" fill="url(#gG)"/><ellipse cx="643.0" cy="56.3" rx="2.2" ry="1.5" fill="url(#gG)"/><ellipse cx="671.8" cy="62.4" rx="2.3" ry="1.6" fill="url(#gG)"/><ellipse cx="629.6" cy="58.3" rx="1.6" ry="1.5" fill="url(#gG)"/><ellipse cx="557.0" cy="61.2" rx="1.4" ry="1.3" fill="url(#gG)"/><ellipse cx="660.4" cy="55.4" rx="1.9" ry="1.5" fill="url(#gG)"/><ellipse cx="639.4" cy="61.3" rx="1.7" ry="1.6" fill="url(#gG)"/><ellipse cx="575.3" cy="56.2" rx="2.4" ry="1.6" fill="url(#gG)"/><ellipse cx="575.3" cy="59.3" rx="1.7" ry="1.2" fill="url(#gG)"/><ellipse cx="664.8" cy="59.7" rx="2.3" ry="1.7" fill="url(#gG)"/><ellipse cx="662.7" cy="56.9" rx="2.5" ry="2.1" fill="url(#gG)"/><ellipse cx="669.7" cy="62.8" rx="2.1" ry="1.7" fill="url(#gG)"/><ellipse cx="655.8" cy="58.8" rx="1.4" ry="1.3" fill="url(#gG)"/><ellipse cx="649.8" cy="60.9" rx="2.3" ry="1.6" fill="url(#gG)"/><ellipse cx="608.7" cy="62.1" rx="2.6" ry="2.4" fill="url(#gG)"/><ellipse cx="572.3" cy="60.9" rx="2.0" ry="1.6" fill="url(#gG)"/><ellipse cx="573.2" cy="56.2" rx="1.9" ry="1.5" fill="url(#gG)"/><ellipse cx="585.2" cy="58.2" rx="2.0" ry="1.8" fill="url(#gG)"/><ellipse cx="623.8" cy="56.4" rx="2.5" ry="1.9" fill="url(#gG)"/><ellipse cx="668.4" cy="63.8" rx="1.5" ry="0.9" fill="url(#gG)"/><ellipse cx="669.2" cy="60.8" rx="2.0" ry="1.5" fill="url(#gG)"/><ellipse cx="556.4" cy="60.1" rx="1.5" ry="1.1" fill="url(#gG)"/><ellipse cx="628.7" cy="59.9" rx="2.5" ry="2.2" fill="url(#gG)"/><ellipse cx="596.6" cy="63.2" rx="2.1" ry="1.5" fill="url(#gG)"/><ellipse cx="656.7" cy="60.8" rx="1.8" ry="1.5" fill="url(#gG)"/><ellipse cx="589.1" cy="63.3" rx="1.6" ry="1.4" fill="url(#gG)"/><ellipse cx="560.7" cy="56.5" rx="2.0" ry="1.4" fill="url(#gG)"/><ellipse cx="614.0" cy="56.1" rx="2.4" ry="2.0" fill="url(#gG)"/><ellipse cx="635.2" cy="63.0" rx="2.6" ry="1.7" fill="url(#gG)"/><ellipse cx="638.7" cy="55.1" rx="1.4" ry="1.1" fill="url(#gG)"/><ellipse cx="669.5" cy="60.5" rx="2.0" ry="1.3" fill="url(#gG)"/><ellipse cx="603.0" cy="62.8" rx="2.1" ry="1.9" fill="url(#gG)"/><ellipse cx="554.6" cy="61.1" rx="1.5" ry="1.4" fill="url(#gG)"/><ellipse cx="565.2" cy="63.0" rx="1.6" ry="1.5" fill="url(#gG)"/><ellipse cx="615.0" cy="57.8" rx="2.6" ry="2.0" fill="url(#gG)"/><ellipse cx="636.8" cy="55.6" rx="2.4" ry="2.2" fill="url(#gG)"/><ellipse cx="566.3" cy="61.4" rx="1.7" ry="1.1" fill="url(#gG)"/><ellipse cx="596.8" cy="60.7" rx="2.5" ry="2.4" fill="url(#gG)"/><ellipse cx="672.4" cy="62.9" rx="2.1" ry="1.5" fill="url(#gG)"/><ellipse cx="640.3" cy="59.8" rx="1.8" ry="1.6" fill="url(#gG)"/><ellipse cx="583.7" cy="56.3" rx="1.5" ry="1.0" fill="url(#gG)"/><ellipse cx="623.7" cy="61.9" rx="1.5" ry="1.2" fill="url(#gG)"/><ellipse cx="622.0" cy="59.8" rx="1.8" ry="1.5" fill="url(#gG)"/><ellipse cx="554.8" cy="60.4" rx="1.8" ry="1.3" fill="url(#gG)"/><ellipse cx="644.0" cy="57.1" rx="2.4" ry="1.7" fill="url(#gG)"/><ellipse cx="564.1" cy="59.1" rx="1.8" ry="1.4" fill="url(#gG)"/><ellipse cx="645.0" cy="57.0" rx="2.2" ry="2.0" fill="url(#gG)"/><ellipse cx="607.4" cy="59.4" rx="2.5" ry="2.1" fill="url(#gG)"/><ellipse cx="574.7" cy="55.7" rx="1.4" ry="1.1" fill="url(#gG)"/><ellipse cx="563.7" cy="60.6" rx="1.9" ry="1.4" fill="url(#gG)"/><ellipse cx="614.6" cy="63.1" rx="1.6" ry="1.1" fill="url(#gG)"/><ellipse cx="589.7" cy="57.8" rx="2.5" ry="2.1" fill="url(#gG)"/><ellipse cx="604.5" cy="56.5" rx="1.4" ry="0.9" fill="url(#gG)"/><ellipse cx="654.9" cy="60.6" rx="1.5" ry="1.3" fill="url(#gG)"/><ellipse cx="560.0" cy="60.4" rx="1.7" ry="1.2" fill="url(#gG)"/><ellipse cx="642.2" cy="61.2" rx="2.0" ry="1.4" fill="url(#gG)"/><ellipse cx="633.5" cy="58.8" rx="2.2" ry="1.5" fill="url(#gG)"/><ellipse cx="661.5" cy="55.1" rx="1.6" ry="1.2" fill="url(#gG)"/><ellipse cx="576.8" cy="55.8" rx="2.2" ry="2.1" fill="url(#gG)"/><ellipse cx="593.3" cy="57.3" rx="2.2" ry="1.6" fill="url(#gG)"/><ellipse cx="601.2" cy="60.9" rx="1.9" ry="1.3" fill="url(#gG)"/><ellipse cx="561.5" cy="60.2" rx="2.6" ry="2.4" fill="url(#gG)"/><ellipse cx="565.0" cy="59.3" rx="1.9" ry="1.4" fill="url(#gG)"/><ellipse cx="633.5" cy="59.3" rx="2.4" ry="1.7" fill="url(#gG)"/><ellipse cx="665.3" cy="62.3" rx="1.9" ry="1.3" fill="url(#gG)"/><ellipse cx="611.1" cy="56.1" rx="2.2" ry="1.9" fill="url(#gG)"/><ellipse cx="622.5" cy="63.4" rx="1.4" ry="1.2" fill="url(#gG)"/><ellipse cx="649.3" cy="56.0" rx="1.7" ry="1.1" fill="url(#gG)"/><ellipse cx="623.1" cy="61.2" rx="1.8" ry="1.5" fill="url(#gG)"/><ellipse cx="597.1" cy="61.1" rx="1.7" ry="1.6" fill="url(#gG)"/><ellipse cx="605.6" cy="55.1" rx="1.4" ry="1.2" fill="url(#gG)"/><ellipse cx="656.9" cy="60.5" rx="1.5" ry="1.4" fill="url(#gG)"/><ellipse cx="639.2" cy="56.0" rx="1.8" ry="1.5" fill="url(#gG)"/><ellipse cx="553.4" cy="61.1" rx="1.8" ry="1.6" fill="url(#gG)"/><ellipse cx="672.8" cy="62.0" rx="2.5" ry="2.2" fill="url(#gG)"/><ellipse cx="657.0" cy="60.1" rx="2.6" ry="2.2" fill="url(#gG)"/><ellipse cx="666.9" cy="61.0" rx="1.6" ry="1.3" fill="url(#gG)"/><ellipse cx="611.1" cy="57.9" rx="1.8" ry="1.4" fill="url(#gG)"/><ellipse cx="623.7" cy="57.0" rx="1.7" ry="1.3" fill="url(#gG)"/><ellipse cx="613.6" cy="58.6" rx="2.2" ry="1.5" fill="url(#gG)"/><ellipse cx="616.9" cy="57.4" rx="2.3" ry="2.0" fill="url(#gG)"/><ellipse cx="646.9" cy="59.5" rx="1.6" ry="1.5" fill="url(#gG)"/><ellipse cx="614.4" cy="58.3" rx="1.7" ry="1.3" fill="url(#gG)"/><ellipse cx="638.2" cy="62.1" rx="1.9" ry="1.7" fill="url(#gG)"/><ellipse cx="578.6" cy="58.9" rx="1.8" ry="1.3" fill="url(#gG)"/><ellipse cx="596.2" cy="61.5" rx="2.3" ry="1.6" fill="url(#gG)"/><ellipse cx="581.1" cy="61.8" rx="2.2" ry="1.8" fill="url(#gG)"/><ellipse cx="629.4" cy="61.0" rx="1.7" ry="1.1" fill="url(#gG)"/><ellipse cx="596.3" cy="55.3" rx="2.6" ry="2.1" fill="url(#gG)"/><ellipse cx="633.6" cy="63.3" rx="2.3" ry="1.4" fill="url(#gG)"/><ellipse cx="593.5" cy="56.0" rx="2.3" ry="2.0" fill="url(#gG)"/><ellipse cx="611.6" cy="58.2" rx="1.7" ry="1.3" fill="url(#gG)"/><ellipse cx="638.6" cy="62.7" rx="2.4" ry="2.0" fill="url(#gG)"/><ellipse cx="605.8" cy="58.7" rx="1.7" ry="1.6" fill="url(#gG)"/><ellipse cx="575.0" cy="56.4" rx="1.7" ry="1.5" fill="url(#gG)"/><path d="M651.4,64.4 A2.7,2.5 0 0 1 656.8,64.4 Z" fill="#3a465a"/><rect x="659.3" y="39.8" width="1.6" height="23.6" rx="0.8" fill="url(#gC)"/><rect x="645.1" y="38.4" width="1.5" height="25.0" rx="0.8" fill="url(#gC)"/><rect x="660.7" y="43.9" width="1.6" height="19.5" rx="0.8" fill="url(#gC)"/><rect x="623.9" y="36.4" width="1.4" height="27.0" rx="0.7" fill="url(#gC)"/><rect x="599.1" y="36.2" width="1.5" height="27.2" rx="0.8" fill="url(#gC)"/><rect x="596.7" y="42.7" width="2.1" height="20.7" rx="1.0" fill="url(#gC)"/><rect x="633.7" y="39.8" width="1.9" height="23.6" rx="0.9" fill="url(#gC)"/><rect x="554.5" y="48.2" width="1.9" height="15.2" rx="1.0" fill="url(#gC)"/><rect x="587.7" y="53.1" width="1.3" height="10.3" rx="0.6" fill="url(#gC)"/><rect x="661.6" y="47.7" width="1.3" height="15.7" rx="0.7" fill="url(#gC)"/><rect x="621.3" y="36.7" width="1.5" height="26.7" rx="0.7" fill="url(#gC)"/><rect x="591.2" y="48.0" width="1.9" height="15.4" rx="1.0" fill="url(#gC)"/><rect x="613.7" y="40.3" width="1.2" height="23.1" rx="0.6" fill="url(#gC)"/><rect x="589.6" y="43.3" width="1.6" height="20.1" rx="0.8" fill="url(#gC)"/><rect x="660.9" y="55.7" width="1.2" height="7.7" rx="0.6" fill="url(#gC)"/><rect x="580.8" y="40.9" width="2.2" height="22.5" rx="1.1" fill="url(#gC)"/><rect x="622.8" y="36.8" width="1.5" height="26.6" rx="0.8" fill="url(#gC)"/><rect x="647.7" y="41.4" width="2.1" height="22.0" rx="1.1" fill="url(#gC)"/><rect x="645.5" y="55.7" width="1.7" height="7.7" rx="0.8" fill="url(#gC)"/><rect x="558.8" y="40.6" width="1.5" height="22.8" rx="0.8" fill="url(#gC)"/><rect x="627.1" y="52.8" width="2.1" height="10.6" rx="1.0" fill="url(#gC)"/><rect x="618.1" y="52.0" width="1.5" height="11.4" rx="0.8" fill="url(#gC)"/><rect x="564.9" y="51.1" width="1.4" height="12.3" rx="0.7" fill="url(#gC)"/><rect x="604.7" y="37.8" width="2.4" height="25.6" rx="1.2" fill="url(#gC)"/><rect x="607.9" y="36.0" width="1.3" height="27.4" rx="0.6" fill="url(#gC)"/><rect x="563.7" y="43.4" width="1.1" height="20.0" rx="0.6" fill="url(#gC)"/><rect x="604.1" y="41.8" width="1.7" height="21.6" rx="0.9" fill="url(#gC)"/><rect x="636.5" y="55.6" width="1.7" height="7.8" rx="0.9" fill="url(#gC)"/><rect x="572.5" y="45.9" width="1.7" height="17.5" rx="0.9" fill="url(#gC)"/><rect x="596.6" y="40.2" width="2.2" height="23.2" rx="1.1" fill="url(#gC)"/><rect x="657.7" y="42.7" width="1.5" height="20.7" rx="0.8" fill="url(#gC)"/><rect x="626.0" y="41.7" width="1.8" height="21.7" rx="0.9" fill="url(#gC)"/><rect x="562.8" y="51.4" width="0.7" height="12.0" fill="#cdb8a6"/><rect x="597.0" y="39.6" width="0.7" height="23.8" fill="#cdb8a6"/><rect x="631.6" y="45.4" width="0.7" height="18.0" fill="#cdb8a6"/><rect x="592.0" y="42.6" width="0.7" height="20.8" fill="#cdb8a6"/><rect x="654.2" y="42.7" width="0.7" height="20.7" fill="#cdb8a6"/><rect x="602.8" y="51.4" width="0.7" height="12.0" fill="#cdb8a6"/><rect x="596.0" y="43.6" width="0.7" height="19.8" fill="#cdb8a6"/><rect x="572.1" y="47.3" width="0.7" height="16.1" fill="#cdb8a6"/><rect x="632.6" y="44.2" width="0.7" height="19.2" fill="#cdb8a6"/><rect x="601.4" y="41.3" width="0.7" height="22.1" fill="#cdb8a6"/><rect x="647.6" y="44.4" width="0.7" height="19.0" fill="#cdb8a6"/><rect x="652.6" y="43.2" width="0.7" height="20.2" fill="#cdb8a6"/><rect x="640.8" y="38.4" width="0.7" height="25.0" fill="#cdb8a6"/><rect x="579.1" y="51.4" width="0.7" height="12.0" fill="#cdb8a6"/><rect x="634.7" y="47.5" width="0.7" height="15.9" fill="#cdb8a6"/><rect x="612.4" y="44.6" width="0.7" height="18.8" fill="#cdb8a6"/><rect x="576.4" y="40.4" width="0.7" height="23.0" fill="#cdb8a6"/><rect x="630.2" y="47.7" width="0.7" height="15.7" fill="#cdb8a6"/><rect x="583.7" y="47.0" width="0.7" height="16.4" fill="#cdb8a6"/><rect x="569.0" y="46.6" width="0.7" height="16.8" fill="#cdb8a6"/><rect x="604.6" y="38.0" width="2.2" height="24.0" fill="url(#gC)"/><rect x="593.1" y="38.4" width="1.9" height="23.6" fill="url(#gC)"/><rect x="580.1" y="39.5" width="1.7" height="22.5" fill="url(#gC)"/><rect x="649.0" y="39.5" width="2.0" height="22.5" fill="url(#gC)"/><rect x="646.1" y="41.2" width="1.8" height="20.8" fill="url(#gC)"/><rect x="587.4" y="42.5" width="2.4" height="19.5" fill="url(#gC)"/><rect x="657.0" y="43.7" width="1.1" height="18.3" fill="url(#gC)"/><rect x="610.4" y="44.0" width="1.2" height="18.0" fill="url(#gC)"/><rect x="655.6" y="44.2" width="1.7" height="17.8" fill="url(#gC)"/><rect x="658.6" y="45.0" width="1.3" height="17.0" fill="url(#gC)"/><rect x="569.1" y="45.7" width="1.4" height="16.3" fill="url(#gC)"/><rect x="602.1" y="46.2" width="1.1" height="15.8" fill="#c9b6a6"/><rect x="620.7" y="46.6" width="1.3" height="15.4" fill="url(#gC)"/><rect x="651.1" y="46.8" width="2.1" height="15.2" fill="url(#gC)"/><rect x="566.2" y="47.8" width="0.7" height="14.2" fill="#c9b6a6"/><rect x="639.2" y="48.5" width="2.6" height="13.5" fill="url(#gC)"/><rect x="646.3" y="48.9" width="1.3" height="13.1" fill="url(#gC)"/><rect x="589.1" y="48.9" width="2.7" height="13.1" fill="url(#gC)"/><rect x="668.1" y="49.6" width="1.6" height="12.4" fill="url(#gC)"/><rect x="574.4" y="51.2" width="1.0" height="10.8" fill="#c9b6a6"/><rect x="625.1" y="51.8" width="2.6" height="10.2" fill="url(#gC)"/><rect x="615.9" y="51.8" width="2.1" height="10.2" fill="url(#gC)"/><rect x="586.3" y="52.8" width="1.9" height="9.2" fill="url(#gC)"/><rect x="632.7" y="53.2" width="1.8" height="8.8" fill="url(#gC)"/><rect x="606.3" y="53.5" width="1.4" height="8.5" fill="url(#gC)"/><ellipse cx="605.7" cy="38.0" rx="2.2" ry="1.7" fill="url(#gM)"/><ellipse cx="594.0" cy="38.4" rx="1.7" ry="1.2" fill="url(#gM)"/><ellipse cx="613.3" cy="38.4" rx="2.2" ry="1.8" fill="url(#gM)"/><ellipse cx="580.9" cy="39.5" rx="2.3" ry="1.9" fill="url(#gM)"/><ellipse cx="650.0" cy="39.5" rx="1.7" ry="1.4" fill="url(#gM)"/><ellipse cx="622.3" cy="41.0" rx="1.9" ry="1.5" fill="url(#gM)"/><ellipse cx="647.0" cy="41.2" rx="2.1" ry="1.6" fill="url(#gM)"/><ellipse cx="663.9" cy="41.2" rx="1.4" ry="1.2" fill="url(#gM)"/><ellipse cx="588.6" cy="42.5" rx="2.3" ry="2.0" fill="url(#gM)"/><ellipse cx="667.0" cy="42.5" rx="2.1" ry="1.9" fill="url(#gM)"/><ellipse cx="657.5" cy="43.7" rx="1.6" ry="1.2" fill="url(#gM)"/><ellipse cx="611.0" cy="44.0" rx="2.0" ry="1.5" fill="url(#gM)"/><ellipse cx="656.4" cy="44.2" rx="1.5" ry="1.1" fill="url(#gM)"/><ellipse cx="659.2" cy="45.0" rx="2.2" ry="1.9" fill="url(#gM)"/><ellipse cx="569.8" cy="45.7" rx="2.0" ry="1.5" fill="url(#gM)"/><ellipse cx="606.0" cy="46.1" rx="2.2" ry="1.6" fill="url(#gM)"/><ellipse cx="574.3" cy="46.2" rx="1.7" ry="1.4" fill="url(#gM)"/><ellipse cx="602.7" cy="46.2" rx="1.5" ry="1.2" fill="url(#gM)"/><ellipse cx="621.4" cy="46.6" rx="1.6" ry="1.4" fill="url(#gM)"/><ellipse cx="652.2" cy="46.8" rx="2.0" ry="1.7" fill="url(#gM)"/><ellipse cx="652.1" cy="47.1" rx="2.2" ry="1.7" fill="url(#gM)"/><ellipse cx="646.2" cy="47.1" rx="1.6" ry="1.3" fill="url(#gM)"/><ellipse cx="566.6" cy="47.8" rx="1.4" ry="1.3" fill="url(#gM)"/><ellipse cx="562.5" cy="48.0" rx="1.5" ry="1.1" fill="url(#gM)"/><ellipse cx="640.5" cy="48.5" rx="1.8" ry="1.5" fill="url(#gM)"/><ellipse cx="646.9" cy="48.9" rx="2.2" ry="1.7" fill="url(#gM)"/><ellipse cx="590.5" cy="48.9" rx="1.9" ry="1.6" fill="url(#gM)"/><ellipse cx="583.3" cy="49.1" rx="1.8" ry="1.3" fill="url(#gM)"/><ellipse cx="668.9" cy="49.6" rx="1.7" ry="1.4" fill="url(#gM)"/><ellipse cx="568.8" cy="50.4" rx="1.7" ry="1.5" fill="url(#gM)"/><ellipse cx="608.8" cy="50.6" rx="1.9" ry="1.4" fill="url(#gM)"/><ellipse cx="574.9" cy="51.2" rx="1.9" ry="1.4" fill="url(#gM)"/><ellipse cx="626.4" cy="51.8" rx="1.5" ry="1.3" fill="url(#gM)"/><ellipse cx="617.0" cy="51.8" rx="1.6" ry="1.4" fill="url(#gM)"/><ellipse cx="572.2" cy="52.7" rx="1.9" ry="1.5" fill="url(#gM)"/><ellipse cx="587.2" cy="52.8" rx="2.2" ry="1.9" fill="url(#gM)"/><ellipse cx="633.6" cy="53.2" rx="1.6" ry="1.1" fill="url(#gM)"/><ellipse cx="579.7" cy="53.3" rx="1.8" ry="1.4" fill="url(#gM)"/><ellipse cx="607.0" cy="53.5" rx="2.2" ry="1.8" fill="url(#gM)"/><ellipse cx="656.8" cy="53.8" rx="1.8" ry="1.6" fill="url(#gM)"/><ellipse cx="670.1" cy="27.3" rx="2.0" ry="1.5" fill="url(#gB)"/><ellipse cx="654.0" cy="36.9" rx="1.4" ry="1.0" fill="url(#gB)"/><ellipse cx="638.5" cy="42.3" rx="1.5" ry="1.2" fill="url(#gB)"/><ellipse cx="631.8" cy="40.8" rx="1.3" ry="1.0" fill="url(#gB)"/><ellipse cx="592.2" cy="39.5" rx="1.7" ry="1.1" fill="url(#gB)"/><ellipse cx="633.4" cy="33.0" rx="2.2" ry="1.5" fill="url(#gB)"/><ellipse cx="618.6" cy="44.0" rx="1.4" ry="1.1" fill="url(#gB)"/><ellipse cx="561.6" cy="46.7" rx="1.3" ry="1.1" fill="url(#gB)"/><ellipse cx="597.4" cy="30.8" rx="1.7" ry="1.3" fill="url(#gB)"/><ellipse cx="603.0" cy="29.6" rx="1.9" ry="1.3" fill="url(#gB)"/><ellipse cx="668.8" cy="35.0" rx="1.8" ry="1.2" fill="url(#gB)"/><ellipse cx="669.0" cy="33.8" rx="2.0" ry="1.6" fill="url(#gB)"/><ellipse cx="600.4" cy="42.9" rx="1.6" ry="1.1" fill="url(#gB)"/><ellipse cx="558.5" cy="36.4" rx="2.3" ry="1.6" fill="url(#gB)"/><ellipse cx="606.0" cy="43.0" rx="1.6" ry="1.1" fill="url(#gB)"/><ellipse cx="615.4" cy="35.9" rx="2.3" ry="1.9" fill="url(#gB)"/><ellipse cx="581.9" cy="38.8" rx="1.8" ry="1.2" fill="url(#gB)"/><ellipse cx="606.5" cy="46.2" rx="1.6" ry="1.3" fill="url(#gB)"/><ellipse cx="638.2" cy="28.3" rx="2.3" ry="1.6" fill="url(#gB)"/><ellipse cx="589.4" cy="42.0" rx="1.3" ry="1.0" fill="url(#gB)"/><ellipse cx="568.6" cy="36.9" rx="1.3" ry="0.9" fill="url(#gB)"/><ellipse cx="580.0" cy="28.7" rx="1.4" ry="1.0" fill="url(#gB)"/><ellipse cx="615.2" cy="29.9" rx="2.2" ry="1.6" fill="url(#gB)"/><ellipse cx="583.5" cy="32.1" rx="2.2" ry="1.5" fill="url(#gB)"/><ellipse cx="642.0" cy="29.0" rx="2.3" ry="1.7" fill="url(#gB)"/><ellipse cx="624.7" cy="45.1" rx="1.4" ry="0.9" fill="url(#gB)"/><ellipse cx="636.2" cy="39.3" rx="2.1" ry="1.5" fill="url(#gB)"/><ellipse cx="612.7" cy="30.9" rx="1.8" ry="1.3" fill="url(#gB)"/><ellipse cx="623.3" cy="33.3" rx="1.6" ry="1.2" fill="url(#gB)"/><ellipse cx="563.7" cy="43.8" rx="1.8" ry="1.3" fill="url(#gB)"/><ellipse cx="567.2" cy="37.7" rx="1.9" ry="1.5" fill="url(#gB)"/><ellipse cx="598.1" cy="35.7" rx="2.3" ry="1.6" fill="url(#gB)"/><ellipse cx="670.4" cy="45.7" rx="2.4" ry="2.0" fill="url(#gB)"/><ellipse cx="584.2" cy="44.1" rx="2.0" ry="1.4" fill="url(#gB)"/><ellipse cx="672.4" cy="40.6" rx="2.2" ry="1.7" fill="url(#gB)"/><ellipse cx="563.0" cy="45.1" rx="1.5" ry="1.0" fill="url(#gB)"/><ellipse cx="627.0" cy="31.1" rx="1.8" ry="1.4" fill="url(#gB)"/><ellipse cx="564.9" cy="40.9" rx="1.4" ry="1.1" fill="url(#gB)"/><ellipse cx="630.9" cy="41.4" rx="1.3" ry="0.9" fill="url(#gB)"/><ellipse cx="668.0" cy="35.2" rx="1.8" ry="1.3" fill="url(#gB)"/><ellipse cx="636.5" cy="42.5" rx="2.0" ry="1.5" fill="url(#gB)"/><ellipse cx="621.4" cy="37.8" rx="1.5" ry="1.3" fill="url(#gB)"/><ellipse cx="668.5" cy="43.3" rx="2.4" ry="1.8" fill="url(#gB)"/><ellipse cx="653.5" cy="32.1" rx="2.1" ry="1.7" fill="url(#gB)"/><ellipse cx="665.4" cy="44.5" rx="2.3" ry="1.6" fill="url(#gB)"/><ellipse cx="647.4" cy="37.0" rx="1.6" ry="1.2" fill="url(#gB)"/><ellipse cx="648.7" cy="44.7" rx="2.2" ry="1.7" fill="url(#gB)"/><ellipse cx="573.8" cy="30.3" rx="1.9" ry="1.3" fill="url(#gB)"/><ellipse cx="593.6" cy="29.2" rx="1.5" ry="1.2" fill="url(#gB)"/><ellipse cx="580.2" cy="44.8" rx="1.7" ry="1.4" fill="url(#gB)"/><ellipse cx="589.6" cy="32.6" rx="1.7" ry="1.1" fill="url(#gB)"/><ellipse cx="605.4" cy="35.0" rx="1.3" ry="1.1" fill="url(#gB)"/><ellipse cx="598.2" cy="27.0" rx="2.4" ry="1.6" fill="url(#gB)"/><ellipse cx="583.7" cy="27.5" rx="1.4" ry="1.1" fill="url(#gB)"/><ellipse cx="622.9" cy="37.6" rx="1.6" ry="1.1" fill="url(#gB)"/><ellipse cx="669.1" cy="34.8" rx="2.4" ry="2.0" fill="url(#gB)"/><ellipse cx="568.4" cy="44.8" rx="1.3" ry="1.0" fill="url(#gB)"/><ellipse cx="650.0" cy="41.6" rx="1.9" ry="1.5" fill="url(#gB)"/><ellipse cx="571.9" cy="38.3" rx="1.6" ry="1.2" fill="url(#gB)"/><ellipse cx="576.3" cy="41.9" rx="1.9" ry="1.6" fill="url(#gB)"/>
<polygon points="50.0,76.9 170.4,76.9 153.2,83.4 67.2,83.4" fill="#0c1232"/><clipPath id="cp10"><polygon points="66,111.8 156.7,111.8 170.3,118 50.7,118"/></clipPath><polygon points="66,111.8 156.7,111.8 170.3,118 50.7,118" fill="#7f8792"/><g clip-path="url(#cp10)"><ellipse cx="90.2" cy="112.9" rx="2.5" ry="0.6" fill="#a2aab4"/><ellipse cx="95.2" cy="112.3" rx="2.3" ry="0.6" fill="#b4bcc6"/><ellipse cx="101.3" cy="113.4" rx="2.3" ry="0.6" fill="#a2aab4"/><ellipse cx="163.8" cy="115.8" rx="2.4" ry="0.6" fill="#b4bcc6"/><ellipse cx="57.9" cy="113.3" rx="2.3" ry="0.7" fill="#b4bcc6"/><ellipse cx="69.0" cy="112.7" rx="2.0" ry="1.0" fill="#6c747f"/><ellipse cx="64.2" cy="115.4" rx="1.8" ry="0.6" fill="#a2aab4"/><ellipse cx="118.6" cy="115.7" rx="2.2" ry="0.9" fill="#939ba6"/><ellipse cx="106.9" cy="117.5" rx="2.0" ry="0.7" fill="#6c747f"/><ellipse cx="134.5" cy="113.5" rx="2.4" ry="0.9" fill="#939ba6"/><ellipse cx="138.1" cy="113.7" rx="3.0" ry="0.7" fill="#b4bcc6"/><ellipse cx="71.5" cy="114.1" rx="2.9" ry="0.8" fill="#a2aab4"/><ellipse cx="142.2" cy="115.4" rx="2.8" ry="0.8" fill="#939ba6"/><ellipse cx="122.1" cy="115.5" rx="2.2" ry="1.0" fill="#939ba6"/><ellipse cx="107.9" cy="116.0" rx="1.6" ry="1.0" fill="#b4bcc6"/><ellipse cx="85.6" cy="114.3" rx="2.5" ry="0.6" fill="#b4bcc6"/><ellipse cx="93.9" cy="115.7" rx="2.2" ry="0.7" fill="#939ba6"/><ellipse cx="67.3" cy="113.5" rx="2.1" ry="1.0" fill="#a2aab4"/><ellipse cx="71.6" cy="114.4" rx="1.9" ry="0.7" fill="#b4bcc6"/><ellipse cx="154.0" cy="113.7" rx="2.1" ry="0.8" fill="#b4bcc6"/><ellipse cx="165.0" cy="112.9" rx="1.8" ry="0.7" fill="#6c747f"/><ellipse cx="53.4" cy="117.0" rx="1.8" ry="0.7" fill="#6c747f"/><ellipse cx="101.4" cy="114.2" rx="2.3" ry="1.1" fill="#a2aab4"/><ellipse cx="105.9" cy="117.2" rx="2.9" ry="0.9" fill="#b4bcc6"/><ellipse cx="99.0" cy="114.4" rx="2.2" ry="0.8" fill="#6c747f"/><ellipse cx="59.9" cy="113.3" rx="1.7" ry="0.8" fill="#a2aab4"/><ellipse cx="64.1" cy="115.4" rx="2.3" ry="1.1" fill="#a2aab4"/><ellipse cx="60.3" cy="113.2" rx="2.1" ry="0.9" fill="#939ba6"/><ellipse cx="123.1" cy="114.8" rx="1.7" ry="0.8" fill="#b4bcc6"/><ellipse cx="108.7" cy="113.9" rx="1.7" ry="1.0" fill="#939ba6"/><ellipse cx="108.5" cy="116.2" rx="2.3" ry="0.7" fill="#939ba6"/><ellipse cx="69.3" cy="115.3" rx="1.5" ry="0.9" fill="#a2aab4"/><ellipse cx="134.2" cy="113.6" rx="2.1" ry="0.7" fill="#6c747f"/><ellipse cx="114.8" cy="116.7" rx="2.0" ry="0.7" fill="#6c747f"/><ellipse cx="147.1" cy="116.9" rx="2.6" ry="0.7" fill="#b4bcc6"/><ellipse cx="94.0" cy="112.2" rx="1.5" ry="0.7" fill="#939ba6"/><ellipse cx="74.9" cy="115.6" rx="2.0" ry="1.0" fill="#939ba6"/><ellipse cx="164.7" cy="114.2" rx="1.8" ry="0.7" fill="#6c747f"/><ellipse cx="91.9" cy="114.9" rx="3.0" ry="0.9" fill="#a2aab4"/><ellipse cx="108.6" cy="115.9" rx="2.7" ry="0.6" fill="#a2aab4"/><ellipse cx="159.4" cy="116.7" rx="2.6" ry="0.8" fill="#6c747f"/><ellipse cx="103.2" cy="115.8" rx="1.6" ry="1.1" fill="#b4bcc6"/><ellipse cx="106.7" cy="116.5" rx="1.6" ry="0.7" fill="#6c747f"/><ellipse cx="55.3" cy="115.5" rx="2.2" ry="0.9" fill="#b4bcc6"/><ellipse cx="129.6" cy="114.1" rx="2.3" ry="0.7" fill="#a2aab4"/><ellipse cx="146.3" cy="116.4" rx="1.7" ry="1.0" fill="#6c747f"/><ellipse cx="103.2" cy="117.2" rx="2.7" ry="0.7" fill="#939ba6"/><ellipse cx="77.1" cy="115.0" rx="2.6" ry="0.8" fill="#b4bcc6"/><ellipse cx="150.4" cy="112.4" rx="2.6" ry="1.0" fill="#b4bcc6"/><ellipse cx="149.6" cy="117.3" rx="1.7" ry="0.7" fill="#a2aab4"/><ellipse cx="155.0" cy="116.7" rx="2.4" ry="1.0" fill="#6c747f"/><ellipse cx="72.3" cy="114.8" rx="2.6" ry="0.9" fill="#939ba6"/><ellipse cx="132.5" cy="115.2" rx="2.2" ry="1.0" fill="#a2aab4"/><ellipse cx="81.3" cy="113.7" rx="2.7" ry="0.9" fill="#a2aab4"/><ellipse cx="141.7" cy="117.5" rx="2.2" ry="0.9" fill="#6c747f"/><ellipse cx="133.7" cy="114.7" rx="2.3" ry="0.8" fill="#6c747f"/><ellipse cx="134.5" cy="117.3" rx="2.9" ry="0.7" fill="#6c747f"/><ellipse cx="151.1" cy="112.8" rx="1.7" ry="0.8" fill="#a2aab4"/><ellipse cx="131.2" cy="114.6" rx="1.8" ry="0.8" fill="#a2aab4"/><ellipse cx="157.8" cy="112.9" rx="2.6" ry="0.9" fill="#6c747f"/><ellipse cx="81.9" cy="112.8" rx="2.2" ry="1.0" fill="#a2aab4"/><ellipse cx="99.0" cy="114.9" rx="3.0" ry="1.0" fill="#6c747f"/><ellipse cx="135.3" cy="118.0" rx="2.1" ry="0.8" fill="#939ba6"/><ellipse cx="89.6" cy="116.3" rx="1.5" ry="0.9" fill="#b4bcc6"/><ellipse cx="135.0" cy="114.3" rx="2.3" ry="0.7" fill="#a2aab4"/><ellipse cx="65.3" cy="117.5" rx="1.8" ry="1.0" fill="#a2aab4"/><ellipse cx="83.3" cy="112.2" rx="2.7" ry="0.7" fill="#6c747f"/><ellipse cx="148.7" cy="117.1" rx="2.5" ry="1.1" fill="#b4bcc6"/><ellipse cx="69.6" cy="117.5" rx="2.4" ry="1.0" fill="#a2aab4"/><ellipse cx="84.9" cy="116.8" rx="1.8" ry="1.0" fill="#939ba6"/><ellipse cx="162.7" cy="115.8" rx="2.7" ry="0.6" fill="#6c747f"/><ellipse cx="59.9" cy="117.2" rx="2.2" ry="0.8" fill="#b4bcc6"/><ellipse cx="161.3" cy="113.6" rx="1.7" ry="0.9" fill="#6c747f"/><ellipse cx="162.7" cy="117.8" rx="1.9" ry="0.7" fill="#939ba6"/><ellipse cx="126.2" cy="115.2" rx="1.8" ry="0.8" fill="#6c747f"/><ellipse cx="83.9" cy="116.8" rx="3.0" ry="0.6" fill="#a2aab4"/><ellipse cx="138.5" cy="115.3" rx="1.8" ry="0.8" fill="#b4bcc6"/><ellipse cx="64.5" cy="116.9" rx="2.1" ry="0.8" fill="#b4bcc6"/><ellipse cx="166.5" cy="113.8" rx="1.8" ry="0.7" fill="#6c747f"/><ellipse cx="150.2" cy="116.2" rx="2.5" ry="0.8" fill="#939ba6"/><ellipse cx="167.9" cy="117.0" rx="1.5" ry="0.9" fill="#939ba6"/><ellipse cx="102.8" cy="112.3" rx="2.5" ry="0.8" fill="#939ba6"/><ellipse cx="122.7" cy="116.2" rx="1.6" ry="0.7" fill="#939ba6"/><ellipse cx="104.6" cy="113.6" rx="2.9" ry="1.1" fill="#939ba6"/><ellipse cx="80.8" cy="117.8" rx="2.0" ry="0.8" fill="#a2aab4"/><ellipse cx="91.6" cy="112.5" rx="1.9" ry="0.9" fill="#6c747f"/><ellipse cx="111.6" cy="112.0" rx="1.9" ry="0.6" fill="#b4bcc6"/><ellipse cx="121.2" cy="114.4" rx="1.9" ry="0.9" fill="#a2aab4"/><ellipse cx="121.1" cy="115.2" rx="2.6" ry="0.9" fill="#b4bcc6"/><ellipse cx="142.2" cy="116.3" rx="2.2" ry="0.7" fill="#6c747f"/><ellipse cx="57.2" cy="117.0" rx="2.8" ry="0.9" fill="#6c747f"/><ellipse cx="159.4" cy="116.5" rx="2.4" ry="1.0" fill="#a2aab4"/><ellipse cx="149.5" cy="115.5" rx="2.8" ry="0.9" fill="#6c747f"/><ellipse cx="62.0" cy="112.3" rx="2.5" ry="1.1" fill="#b4bcc6"/><ellipse cx="150.6" cy="115.4" rx="2.4" ry="0.9" fill="#6c747f"/><ellipse cx="109.7" cy="112.0" rx="2.7" ry="1.0" fill="#a2aab4"/><ellipse cx="129.8" cy="112.4" rx="2.6" ry="0.7" fill="#a2aab4"/><ellipse cx="151.8" cy="113.4" rx="2.6" ry="0.7" fill="#b4bcc6"/><ellipse cx="110.3" cy="114.3" rx="2.2" ry="0.9" fill="#a2aab4"/><ellipse cx="124.8" cy="115.9" rx="1.6" ry="0.7" fill="#939ba6"/><ellipse cx="128.9" cy="116.2" rx="2.4" ry="0.7" fill="#b4bcc6"/><ellipse cx="59.2" cy="113.6" rx="2.5" ry="0.9" fill="#b4bcc6"/><ellipse cx="86.3" cy="115.1" rx="2.2" ry="0.8" fill="#a2aab4"/><ellipse cx="169.2" cy="115.3" rx="2.0" ry="0.6" fill="#b4bcc6"/><ellipse cx="54.1" cy="114.8" rx="2.7" ry="1.1" fill="#b4bcc6"/><ellipse cx="169.3" cy="114.3" rx="2.9" ry="1.1" fill="#a2aab4"/><ellipse cx="120.6" cy="112.9" rx="2.3" ry="1.1" fill="#6c747f"/><ellipse cx="123.2" cy="115.8" rx="1.9" ry="0.7" fill="#939ba6"/><ellipse cx="79.3" cy="117.4" rx="2.2" ry="0.6" fill="#a2aab4"/><ellipse cx="164.1" cy="116.1" rx="2.1" ry="1.0" fill="#b4bcc6"/></g>
<polygon points="174.6,76.9 296.8,76.9 279.6,83.4 191.8,83.4" fill="#0c1232"/><polygon points="176,118.6 182,113 290,113 297,118.6" fill="#a9b3c0"/><path d="M200.6,118.7 L200.6,109.1 A2.6,2.9 0 0 1 205.8,109.1 L205.8,118.7 Z" fill="url(#gR)"/><path d="M287.6,118.7 L287.6,110.6 A2.0,2.2 0 0 1 291.6,110.6 L291.6,118.7 Z" fill="url(#gR)"/><path d="M227.9,118.7 L227.9,108.8 A2.2,2.4 0 0 1 232.2,108.8 L232.2,118.7 Z" fill="url(#gR)"/><path d="M184.8,118.7 L184.8,108.9 A2.1,2.3 0 0 1 189.0,108.9 L189.0,118.7 Z" fill="url(#gR)"/><path d="M278.6,118.7 L278.6,109.4 A2.5,2.8 0 0 1 283.6,109.4 L283.6,118.7 Z" fill="url(#gR)"/><path d="M248.1,118.7 L248.1,109.1 A2.2,2.4 0 0 1 252.6,109.1 L252.6,118.7 Z" fill="url(#gR)"/><path d="M263.9,118.7 L263.9,109.4 A2.4,2.6 0 0 1 268.6,109.4 L268.6,118.7 Z" fill="url(#gR)"/><path d="M272.6,118.7 L272.6,109.6 A2.5,2.7 0 0 1 277.5,109.6 L277.5,118.7 Z" fill="url(#gR)"/><path d="M210.6,118.7 L210.6,109.0 A1.9,2.1 0 0 1 214.4,109.0 L214.4,118.7 Z" fill="url(#gR)"/><path d="M192.8,118.7 L192.8,109.1 A2.0,2.2 0 0 1 196.8,109.1 L196.8,118.7 Z" fill="url(#gR)"/><path d="M245.3,118.7 L245.3,109.5 A2.3,2.5 0 0 1 249.9,109.5 L249.9,118.7 Z" fill="url(#gR)"/><path d="M213.5,118.7 L213.5,109.2 A1.8,1.9 0 0 1 217.0,109.2 L217.0,118.7 Z" fill="url(#gR)"/><path d="M279.9,118.7 L279.9,109.2 A1.7,1.9 0 0 1 283.2,109.2 L283.2,118.7 Z" fill="url(#gR)"/><path d="M290.9,118.7 L290.9,112.7 A1.7,1.9 0 0 1 294.3,112.7 L294.3,118.7 Z" fill="url(#gR)"/><path d="M270.1,118.7 L270.1,109.8 A2.2,2.5 0 0 1 274.6,109.8 L274.6,118.7 Z" fill="url(#gR)"/><path d="M262.6,118.7 L262.6,109.8 A2.0,2.2 0 0 1 266.6,109.8 L266.6,118.7 Z" fill="url(#gR)"/><path d="M183.3,118.7 L183.3,110.8 A2.4,2.6 0 0 1 188.0,110.8 L188.0,118.7 Z" fill="url(#gR)"/><path d="M281.1,118.7 L281.1,110.2 A2.3,2.5 0 0 1 285.6,110.2 L285.6,118.7 Z" fill="url(#gR)"/><path d="M206.6,118.7 L206.6,110.2 A2.2,2.4 0 0 1 211.0,110.2 L211.0,118.7 Z" fill="url(#gR)"/><path d="M220.0,118.7 L220.0,110.2 A1.9,2.1 0 0 1 223.9,110.2 L223.9,118.7 Z" fill="url(#gR)"/><path d="M218.7,118.7 L218.7,110.8 A2.5,2.7 0 0 1 223.7,110.8 L223.7,118.7 Z" fill="url(#gR)"/><path d="M202.1,118.7 L202.1,110.5 A2.2,2.4 0 0 1 206.4,110.5 L206.4,118.7 Z" fill="url(#gR)"/><path d="M284.1,118.7 L284.1,111.4 A2.4,2.6 0 0 1 288.9,111.4 L288.9,118.7 Z" fill="url(#gR)"/><path d="M265.3,118.7 L265.3,110.1 A1.7,1.9 0 0 1 268.8,110.1 L268.8,118.7 Z" fill="url(#gR)"/><path d="M291.6,118.7 L291.6,115.2 A2.6,2.8 0 0 1 296.7,115.2 L296.7,118.7 Z" fill="url(#gR)"/><path d="M247.6,118.7 L247.6,110.7 A2.2,2.4 0 0 1 252.1,110.7 L252.1,118.7 Z" fill="url(#gR)"/><path d="M198.4,118.7 L198.4,110.1 A1.6,1.8 0 0 1 201.6,110.1 L201.6,118.7 Z" fill="url(#gR)"/><path d="M177.5,118.7 L177.5,113.7 A1.9,2.1 0 0 1 181.2,113.7 L181.2,118.7 Z" fill="url(#gR)"/><path d="M285.6,118.7 L285.6,111.5 A1.7,1.9 0 0 1 289.0,111.5 L289.0,118.7 Z" fill="url(#gR)"/><path d="M202.4,118.7 L202.4,110.6 A1.9,2.0 0 0 1 206.1,110.6 L206.1,118.7 Z" fill="url(#gR)"/><path d="M175.2,118.7 L175.2,115.0 A1.9,2.1 0 0 1 179.0,115.0 L179.0,118.7 Z" fill="url(#gR)"/><path d="M235.7,118.7 L235.7,110.8 A2.0,2.2 0 0 1 239.7,110.8 L239.7,118.7 Z" fill="url(#gR)"/><path d="M278.7,118.7 L278.7,111.1 A2.1,2.3 0 0 1 282.9,111.1 L282.9,118.7 Z" fill="url(#gR)"/><path d="M267.1,118.7 L267.1,111.3 A2.1,2.3 0 0 1 271.4,111.3 L271.4,118.7 Z" fill="url(#gR)"/><path d="M266.0,118.7 L266.0,111.8 A2.5,2.8 0 0 1 271.0,111.8 L271.0,118.7 Z" fill="url(#gR)"/><path d="M218.8,118.7 L218.8,111.5 A2.1,2.3 0 0 1 222.9,111.5 L222.9,118.7 Z" fill="url(#gR)"/><path d="M190.0,118.7 L190.0,111.4 A2.0,2.2 0 0 1 193.9,111.4 L193.9,118.7 Z" fill="url(#gR)"/><path d="M205.5,118.7 L205.5,112.1 A2.7,2.9 0 0 1 210.9,112.1 L210.9,118.7 Z" fill="url(#gR)"/><path d="M258.2,118.7 L258.2,112.0 A2.3,2.5 0 0 1 262.7,112.0 L262.7,118.7 Z" fill="url(#gR)"/><path d="M249.6,118.7 L249.6,112.1 A2.4,2.7 0 0 1 254.4,112.1 L254.4,118.7 Z" fill="url(#gR)"/><path d="M228.5,118.7 L228.5,112.2 A2.4,2.7 0 0 1 233.4,112.2 L233.4,118.7 Z" fill="url(#gR)"/><path d="M284.7,118.7 L284.7,113.6 A2.7,2.9 0 0 1 290.0,113.6 L290.0,118.7 Z" fill="url(#gR)"/><path d="M271.4,118.7 L271.4,111.9 A2.0,2.2 0 0 1 275.4,111.9 L275.4,118.7 Z" fill="url(#gR)"/><path d="M274.1,118.7 L274.1,112.3 A2.3,2.5 0 0 1 278.6,112.3 L278.6,118.7 Z" fill="url(#gR)"/><path d="M212.1,118.7 L212.1,112.7 A2.7,3.0 0 0 1 217.5,112.7 L217.5,118.7 Z" fill="url(#gR)"/><path d="M248.6,118.7 L248.6,112.8 A2.7,2.9 0 0 1 253.9,112.8 L253.9,118.7 Z" fill="url(#gR)"/><path d="M211.7,118.7 L211.7,112.9 A2.7,3.0 0 0 1 217.2,112.9 L217.2,118.7 Z" fill="url(#gR)"/><path d="M290.1,118.7 L290.1,115.6 A2.1,2.4 0 0 1 294.4,115.6 L294.4,118.7 Z" fill="url(#gR)"/><path d="M269.3,118.7 L269.3,112.1 A1.8,2.0 0 0 1 272.9,112.1 L272.9,118.7 Z" fill="url(#gR)"/><path d="M266.1,118.7 L266.1,112.9 A2.6,2.8 0 0 1 271.2,112.9 L271.2,118.7 Z" fill="url(#gR)"/><path d="M221.0,118.7 L221.0,112.6 A2.2,2.4 0 0 1 225.3,112.6 L225.3,118.7 Z" fill="url(#gR)"/><path d="M176.8,118.7 L176.8,116.2 A2.5,2.8 0 0 1 181.8,116.2 L181.8,118.7 Z" fill="url(#gR)"/><path d="M250.7,118.7 L250.7,113.2 A2.7,2.9 0 0 1 256.0,113.2 L256.0,118.7 Z" fill="url(#gR)"/><path d="M202.4,118.7 L202.4,113.1 A2.4,2.6 0 0 1 207.1,113.1 L207.1,118.7 Z" fill="url(#gR)"/><path d="M273.6,118.7 L273.6,113.4 A2.7,3.0 0 0 1 279.0,113.4 L279.0,118.7 Z" fill="url(#gR)"/><path d="M237.9,118.7 L237.9,112.4 A1.7,1.9 0 0 1 241.4,112.4 L241.4,118.7 Z" fill="url(#gR)"/><path d="M209.9,118.7 L209.9,113.0 A2.3,2.5 0 0 1 214.4,113.0 L214.4,118.7 Z" fill="url(#gR)"/><path d="M213.1,118.7 L213.1,113.4 A2.7,2.9 0 0 1 218.4,113.4 L218.4,118.7 Z" fill="url(#gR)"/><path d="M268.1,118.7 L268.1,113.3 A2.5,2.8 0 0 1 273.1,113.3 L273.1,118.7 Z" fill="url(#gR)"/><path d="M185.4,118.7 L185.4,113.4 A2.5,2.8 0 0 1 190.4,113.4 L190.4,118.7 Z" fill="url(#gR)"/><path d="M187.8,118.7 L187.8,113.7 A2.5,2.7 0 0 1 192.8,113.7 L192.8,118.7 Z" fill="url(#gR)"/><path d="M275.6,118.7 L275.6,113.5 A2.3,2.5 0 0 1 280.2,113.5 L280.2,118.7 Z" fill="url(#gR)"/><path d="M188.1,118.7 L188.1,113.5 A2.2,2.4 0 0 1 192.4,113.5 L192.4,118.7 Z" fill="url(#gR)"/><path d="M248.3,118.7 L248.3,113.2 A1.9,2.1 0 0 1 252.1,113.2 L252.1,118.7 Z" fill="url(#gR)"/><path d="M190.3,118.7 L190.3,114.0 A2.5,2.8 0 0 1 195.4,114.0 L195.4,118.7 Z" fill="url(#gR)"/><path d="M193.2,118.7 L193.2,113.6 A2.1,2.3 0 0 1 197.3,113.6 L197.3,118.7 Z" fill="url(#gR)"/><path d="M255.7,118.7 L255.7,113.8 A2.3,2.5 0 0 1 260.2,113.8 L260.2,118.7 Z" fill="url(#gR)"/><path d="M189.3,118.7 L189.3,114.3 A2.6,2.9 0 0 1 194.5,114.3 L194.5,118.7 Z" fill="url(#gR)"/><path d="M207.3,118.7 L207.3,114.0 A2.3,2.6 0 0 1 211.9,114.0 L211.9,118.7 Z" fill="url(#gR)"/><path d="M178.7,118.7 L178.7,116.6 A2.4,2.6 0 0 1 183.5,116.6 L183.5,118.7 Z" fill="url(#gR)"/><path d="M256.2,118.7 L256.2,113.6 A1.7,1.9 0 0 1 259.7,113.6 L259.7,118.7 Z" fill="url(#gR)"/><path d="M206.3,118.7 L206.3,114.6 A2.5,2.8 0 0 1 211.4,114.6 L211.4,118.7 Z" fill="url(#gR)"/><path d="M239.9,118.7 L239.9,113.7 A1.7,1.8 0 0 1 243.2,113.7 L243.2,118.7 Z" fill="url(#gR)"/><path d="M267.2,118.7 L267.2,113.7 A1.6,1.8 0 0 1 270.4,113.7 L270.4,118.7 Z" fill="url(#gR)"/><path d="M199.2,118.7 L199.2,114.7 A2.5,2.8 0 0 1 204.2,114.7 L204.2,118.7 Z" fill="url(#gR)"/><path d="M267.5,118.7 L267.5,114.1 A1.9,2.1 0 0 1 271.3,114.1 L271.3,118.7 Z" fill="url(#gR)"/><path d="M223.1,118.7 L223.1,114.3 A2.1,2.3 0 0 1 227.3,114.3 L227.3,118.7 Z" fill="url(#gR)"/><path d="M278.0,118.7 L278.0,114.9 A2.5,2.7 0 0 1 282.9,114.9 L282.9,118.7 Z" fill="url(#gR)"/><path d="M242.1,118.7 L242.1,114.1 A1.6,1.8 0 0 1 245.4,114.1 L245.4,118.7 Z" fill="url(#gR)"/><path d="M287.8,118.7 L287.8,116.8 A2.1,2.3 0 0 1 292.0,116.8 L292.0,118.7 Z" fill="url(#gR)"/><path d="M231.1,118.7 A2.4,3.4 0 0 1 235.9,118.7 Z" fill="#3e4a60"/><path d="M285.4,118.7 A2.4,2.9 0 0 1 290.3,118.7 Z" fill="#3e4a60"/><path d="M276.5,118.7 A2.3,2.4 0 0 1 281.0,118.7 Z" fill="#3e4a60"/><path d="M186.3,118.7 A2.5,3.2 0 0 1 191.3,118.7 Z" fill="#3e4a60"/><path d="M192.7,118.7 A2.4,3.5 0 0 1 197.6,118.7 Z" fill="#3e4a60"/><path d="M231.2,118.7 A2.4,3.3 0 0 1 236.0,118.7 Z" fill="#3e4a60"/><path d="M279.8,118.7 A2.4,2.2 0 0 1 284.6,118.7 Z" fill="#3e4a60"/><path d="M249.2,118.7 A2.7,3.4 0 0 1 254.7,118.7 Z" fill="#3e4a60"/>
<polygon points="301.0,76.9 422.4,76.9 405.2,83.4 318.2,83.4" fill="#0c1232"/><polygon points="304,118.6 312,110 412,110 421,118.6" fill="#a9b3c0"/><path d="M417.9,118.7 L417.9,108.9 A2.1,2.3 0 0 1 422.1,108.9 L422.1,118.7 Z" fill="url(#gR)"/><path d="M358.6,118.7 L358.6,104.8 A2.0,2.2 0 0 1 362.5,104.8 L362.5,118.7 Z" fill="url(#gR)"/><path d="M364.5,118.7 L364.5,104.2 A1.3,1.4 0 0 1 367.0,104.2 L367.0,118.7 Z" fill="url(#gR)"/><path d="M327.1,118.7 L327.1,104.6 A1.7,1.9 0 0 1 330.5,104.6 L330.5,118.7 Z" fill="url(#gR)"/><path d="M313.1,118.7 L313.1,104.9 A1.7,1.9 0 0 1 316.6,104.9 L316.6,118.7 Z" fill="url(#gR)"/><path d="M376.9,118.7 L376.9,105.0 A1.5,1.7 0 0 1 379.9,105.0 L379.9,118.7 Z" fill="url(#gR)"/><path d="M325.8,118.7 L325.8,105.2 A1.6,1.7 0 0 1 328.9,105.2 L328.9,118.7 Z" fill="url(#gR)"/><path d="M333.4,118.7 L333.4,105.0 A1.3,1.5 0 0 1 336.1,105.0 L336.1,118.7 Z" fill="url(#gR)"/><path d="M390.5,118.7 L390.5,105.2 A1.3,1.4 0 0 1 393.1,105.2 L393.1,118.7 Z" fill="url(#gR)"/><path d="M306.9,118.7 L306.9,107.6 A1.5,1.7 0 0 1 310.0,107.6 L310.0,118.7 Z" fill="url(#gR)"/><path d="M363.2,118.7 L363.2,106.2 A2.0,2.2 0 0 1 367.2,106.2 L367.2,118.7 Z" fill="url(#gR)"/><path d="M314.8,118.7 L314.8,105.7 A1.5,1.6 0 0 1 317.7,105.7 L317.7,118.7 Z" fill="url(#gR)"/><path d="M322.2,118.7 L322.2,106.2 A2.0,2.2 0 0 1 326.3,106.2 L326.3,118.7 Z" fill="url(#gR)"/><path d="M380.3,118.7 L380.3,106.2 A1.7,1.9 0 0 1 383.7,106.2 L383.7,118.7 Z" fill="url(#gR)"/><path d="M399.2,118.7 L399.2,106.5 A2.0,2.1 0 0 1 403.1,106.5 L403.1,118.7 Z" fill="url(#gR)"/><path d="M417.4,118.7 L417.4,109.9 A1.6,1.7 0 0 1 420.5,109.9 L420.5,118.7 Z" fill="url(#gR)"/><path d="M384.3,118.7 L384.3,107.3 A1.9,2.1 0 0 1 388.2,107.3 L388.2,118.7 Z" fill="url(#gR)"/><path d="M386.5,118.7 L386.5,106.8 A1.4,1.6 0 0 1 389.4,106.8 L389.4,118.7 Z" fill="url(#gR)"/><path d="M379.2,118.7 L379.2,107.1 A1.7,1.9 0 0 1 382.7,107.1 L382.7,118.7 Z" fill="url(#gR)"/><path d="M392.7,118.7 L392.7,106.9 A1.4,1.5 0 0 1 395.5,106.9 L395.5,118.7 Z" fill="url(#gR)"/><path d="M302.1,118.7 L302.1,111.4 A1.5,1.7 0 0 1 305.1,111.4 L305.1,118.7 Z" fill="url(#gR)"/><path d="M337.9,118.7 L337.9,107.1 A1.3,1.4 0 0 1 340.5,107.1 L340.5,118.7 Z" fill="url(#gR)"/><path d="M349.9,118.7 L349.9,107.5 A1.6,1.8 0 0 1 353.1,107.5 L353.1,118.7 Z" fill="url(#gR)"/><path d="M356.6,118.7 L356.6,107.8 A1.4,1.5 0 0 1 359.4,107.8 L359.4,118.7 Z" fill="url(#gR)"/><path d="M374.7,118.7 L374.7,108.7 A2.2,2.4 0 0 1 379.1,108.7 L379.1,118.7 Z" fill="url(#gR)"/><path d="M365.5,118.7 L365.5,108.0 A1.5,1.6 0 0 1 368.4,108.0 L368.4,118.7 Z" fill="url(#gR)"/><path d="M323.6,118.7 L323.6,108.7 A2.1,2.3 0 0 1 327.8,108.7 L327.8,118.7 Z" fill="url(#gR)"/><path d="M393.6,118.7 L393.6,108.4 A1.7,1.9 0 0 1 397.1,108.4 L397.1,118.7 Z" fill="url(#gR)"/><path d="M376.2,118.7 L376.2,108.6 A1.9,2.1 0 0 1 380.1,108.6 L380.1,118.7 Z" fill="url(#gR)"/><path d="M334.0,118.7 L334.0,108.2 A1.4,1.6 0 0 1 336.8,108.2 L336.8,118.7 Z" fill="url(#gR)"/><path d="M334.7,118.7 L334.7,108.4 A1.7,1.8 0 0 1 338.1,108.4 L338.1,118.7 Z" fill="url(#gR)"/><path d="M369.7,118.7 L369.7,108.2 A1.5,1.7 0 0 1 372.7,108.2 L372.7,118.7 Z" fill="url(#gR)"/><path d="M369.6,118.7 L369.6,108.9 A2.2,2.4 0 0 1 373.9,108.9 L373.9,118.7 Z" fill="url(#gR)"/><path d="M326.9,118.7 L326.9,108.2 A1.2,1.3 0 0 1 329.3,108.2 L329.3,118.7 Z" fill="url(#gR)"/><path d="M367.7,118.7 L367.7,108.5 A1.5,1.7 0 0 1 370.7,108.5 L370.7,118.7 Z" fill="url(#gR)"/><path d="M338.1,118.7 L338.1,108.8 A1.6,1.8 0 0 1 341.4,108.8 L341.4,118.7 Z" fill="url(#gR)"/><path d="M330.6,118.7 L330.6,108.9 A1.5,1.6 0 0 1 333.6,108.9 L333.6,118.7 Z" fill="url(#gR)"/><path d="M304.0,118.7 L304.0,112.6 A1.6,1.7 0 0 1 307.2,112.6 L307.2,118.7 Z" fill="url(#gR)"/><path d="M393.8,118.7 L393.8,109.7 A2.0,2.2 0 0 1 397.7,109.7 L397.7,118.7 Z" fill="url(#gR)"/><path d="M308.2,118.7 L308.2,111.0 A1.9,2.0 0 0 1 311.9,111.0 L311.9,118.7 Z" fill="url(#gR)"/><path d="M347.6,118.7 L347.6,109.2 A1.4,1.5 0 0 1 350.4,109.2 L350.4,118.7 Z" fill="url(#gR)"/><path d="M417.7,118.7 L417.7,113.1 A1.4,1.5 0 0 1 420.5,113.1 L420.5,118.7 Z" fill="url(#gR)"/><path d="M349.5,118.7 L349.5,110.1 A2.1,2.3 0 0 1 353.7,110.1 L353.7,118.7 Z" fill="url(#gR)"/><path d="M396.6,118.7 L396.6,110.0 A1.9,2.0 0 0 1 400.4,110.0 L400.4,118.7 Z" fill="url(#gR)"/><path d="M311.5,118.7 L311.5,110.5 A2.1,2.3 0 0 1 315.6,110.5 L315.6,118.7 Z" fill="url(#gR)"/><path d="M413.5,118.7 L413.5,112.1 A1.6,1.7 0 0 1 416.6,112.1 L416.6,118.7 Z" fill="url(#gR)"/><path d="M410.1,118.7 L410.1,111.4 A2.1,2.3 0 0 1 414.2,111.4 L414.2,118.7 Z" fill="url(#gR)"/><path d="M360.2,118.7 L360.2,110.2 A1.4,1.5 0 0 1 363.0,110.2 L363.0,118.7 Z" fill="url(#gR)"/><path d="M331.0,118.7 L331.0,110.8 A2.0,2.2 0 0 1 334.9,110.8 L334.9,118.7 Z" fill="url(#gR)"/><path d="M416.7,118.7 L416.7,114.2 A1.7,1.9 0 0 1 420.2,114.2 L420.2,118.7 Z" fill="url(#gR)"/><path d="M380.3,118.7 L380.3,110.6 A1.6,1.7 0 0 1 383.4,110.6 L383.4,118.7 Z" fill="url(#gR)"/><path d="M389.9,118.7 L389.9,110.9 A1.8,1.9 0 0 1 393.4,110.9 L393.4,118.7 Z" fill="url(#gR)"/><path d="M304.6,118.7 L304.6,113.7 A1.4,1.6 0 0 1 307.5,113.7 L307.5,118.7 Z" fill="url(#gR)"/><path d="M323.2,118.7 L323.2,110.5 A1.2,1.4 0 0 1 325.7,110.5 L325.7,118.7 Z" fill="url(#gR)"/><path d="M354.7,118.7 L354.7,110.8 A1.5,1.7 0 0 1 357.8,110.8 L357.8,118.7 Z" fill="url(#gR)"/><path d="M372.1,118.7 L372.1,110.8 A1.4,1.5 0 0 1 374.9,110.8 L374.9,118.7 Z" fill="url(#gR)"/><path d="M341.9,118.7 L341.9,111.2 A1.8,2.0 0 0 1 345.5,111.2 L345.5,118.7 Z" fill="url(#gR)"/><path d="M396.4,118.7 L396.4,110.7 A1.3,1.4 0 0 1 399.0,110.7 L399.0,118.7 Z" fill="url(#gR)"/><path d="M321.4,118.7 L321.4,110.8 A1.3,1.4 0 0 1 324.0,110.8 L324.0,118.7 Z" fill="url(#gR)"/><path d="M304.3,118.7 L304.3,114.4 A1.8,2.0 0 0 1 307.9,114.4 L307.9,118.7 Z" fill="url(#gR)"/><path d="M342.1,118.7 L342.1,111.5 A1.8,2.0 0 0 1 345.6,111.5 L345.6,118.7 Z" fill="url(#gR)"/><path d="M363.0,118.7 L363.0,111.8 A1.9,2.1 0 0 1 366.8,111.8 L366.8,118.7 Z" fill="url(#gR)"/><path d="M401.8,118.7 L401.8,111.9 A1.6,1.7 0 0 1 405.0,111.9 L405.0,118.7 Z" fill="url(#gR)"/><path d="M410.4,118.7 L410.4,112.4 A1.5,1.7 0 0 1 413.4,112.4 L413.4,118.7 Z" fill="url(#gR)"/><path d="M364.5,118.7 L364.5,112.0 A1.6,1.7 0 0 1 367.6,112.0 L367.6,118.7 Z" fill="url(#gR)"/><path d="M303.3,118.7 L303.3,115.6 A1.5,1.7 0 0 1 306.4,115.6 L306.4,118.7 Z" fill="url(#gR)"/><path d="M328.4,118.7 L328.4,111.7 A1.2,1.3 0 0 1 330.8,111.7 L330.8,118.7 Z" fill="url(#gR)"/><path d="M353.2,118.7 L353.2,112.7 A2.0,2.2 0 0 1 357.2,112.7 L357.2,118.7 Z" fill="url(#gR)"/><path d="M316.2,118.7 L316.2,112.7 A1.8,2.0 0 0 1 319.8,112.7 L319.8,118.7 Z" fill="url(#gR)"/><path d="M394.1,118.7 L394.1,112.4 A1.4,1.6 0 0 1 397.0,112.4 L397.0,118.7 Z" fill="url(#gR)"/><path d="M302.1,118.7 L302.1,116.7 A1.5,1.6 0 0 1 305.1,116.7 L305.1,118.7 Z" fill="url(#gR)"/><path d="M409.0,118.7 L409.0,113.5 A2.1,2.3 0 0 1 413.2,113.5 L413.2,118.7 Z" fill="url(#gR)"/><path d="M341.1,118.7 L341.1,113.2 A2.0,2.2 0 0 1 345.1,113.2 L345.1,118.7 Z" fill="url(#gR)"/><path d="M311.7,118.7 L311.7,113.4 A2.1,2.3 0 0 1 315.9,113.4 L315.9,118.7 Z" fill="url(#gR)"/><path d="M406.3,118.7 L406.3,112.9 A1.5,1.6 0 0 1 409.2,112.9 L409.2,118.7 Z" fill="url(#gR)"/><path d="M320.8,118.7 L320.8,113.2 A1.8,2.0 0 0 1 324.3,113.2 L324.3,118.7 Z" fill="url(#gR)"/><path d="M330.3,118.7 L330.3,113.7 A2.2,2.4 0 0 1 334.6,113.7 L334.6,118.7 Z" fill="url(#gR)"/><path d="M357.8,118.7 L357.8,113.0 A1.3,1.5 0 0 1 360.5,113.0 L360.5,118.7 Z" fill="url(#gR)"/><path d="M397.9,118.7 L397.9,113.4 A1.6,1.7 0 0 1 401.1,113.4 L401.1,118.7 Z" fill="url(#gR)"/><path d="M350.2,118.7 L350.2,113.1 A1.2,1.3 0 0 1 352.7,113.1 L352.7,118.7 Z" fill="url(#gR)"/><path d="M315.7,118.7 A2.2,3.1 0 0 1 320.1,118.7 Z" fill="#3e4a60"/><path d="M355.4,118.7 A2.9,2.5 0 0 1 361.2,118.7 Z" fill="#3e4a60"/><path d="M346.8,118.7 A3.0,2.5 0 0 1 352.8,118.7 Z" fill="#3e4a60"/><rect x="406.6" y="98.8" width="2.4" height="9.2" fill="url(#gC)"/><rect x="344.3" y="102.7" width="0.6" height="5.3" fill="#c9b6a6"/><ellipse cx="415.2" cy="88.1" rx="3.5" ry="2.0" fill="url(#gM3)"/><ellipse cx="327.7" cy="88.3" rx="3.4" ry="2.0" fill="url(#gM3)"/><ellipse cx="401.4" cy="88.3" rx="3.3" ry="1.9" fill="url(#gM3)"/><ellipse cx="343.0" cy="88.6" rx="3.0" ry="1.9" fill="url(#gM3)"/><ellipse cx="334.4" cy="88.7" rx="3.0" ry="2.1" fill="url(#gM3)"/><ellipse cx="389.5" cy="88.7" rx="4.0" ry="2.5" fill="url(#gM3)"/><ellipse cx="419.8" cy="88.7" rx="3.8" ry="2.3" fill="url(#gM3)"/><ellipse cx="389.5" cy="89.1" rx="4.2" ry="2.7" fill="url(#gM3)"/><ellipse cx="360.5" cy="89.3" rx="4.3" ry="2.8" fill="url(#gM3)"/><ellipse cx="421.3" cy="89.7" rx="4.4" ry="3.0" fill="url(#gM3)"/><ellipse cx="404.6" cy="89.9" rx="3.8" ry="2.7" fill="url(#gM3)"/><ellipse cx="414.6" cy="89.9" rx="4.2" ry="2.8" fill="url(#gM3)"/><ellipse cx="334.5" cy="90.2" rx="4.3" ry="2.6" fill="url(#gM3)"/><ellipse cx="360.8" cy="90.4" rx="3.7" ry="2.5" fill="url(#gM3)"/><ellipse cx="395.6" cy="90.6" rx="3.2" ry="2.0" fill="url(#gM3)"/><ellipse cx="410.6" cy="90.7" rx="3.1" ry="1.8" fill="url(#gM3)"/><ellipse cx="399.3" cy="91.0" rx="4.0" ry="2.4" fill="url(#gM3)"/><ellipse cx="390.5" cy="91.5" rx="3.0" ry="2.1" fill="url(#gM3)"/><ellipse cx="316.2" cy="91.5" rx="3.0" ry="2.0" fill="url(#gM3)"/><ellipse cx="333.1" cy="91.5" rx="4.2" ry="2.7" fill="url(#gM3)"/><ellipse cx="348.3" cy="91.9" rx="4.2" ry="2.8" fill="url(#gM3)"/><ellipse cx="345.9" cy="91.9" rx="2.8" ry="1.9" fill="url(#gM3)"/><ellipse cx="341.1" cy="92.1" rx="3.3" ry="2.0" fill="url(#gM3)"/><ellipse cx="363.6" cy="92.2" rx="3.8" ry="2.2" fill="url(#gM3)"/><ellipse cx="321.7" cy="92.3" rx="3.7" ry="2.5" fill="url(#gM3)"/><ellipse cx="399.4" cy="92.5" rx="2.8" ry="2.0" fill="url(#gM3)"/><ellipse cx="383.5" cy="92.7" rx="3.3" ry="1.8" fill="url(#gM3)"/><ellipse cx="414.3" cy="92.7" rx="3.6" ry="2.1" fill="url(#gM3)"/><ellipse cx="399.2" cy="93.0" rx="3.7" ry="2.1" fill="url(#gM3)"/><ellipse cx="392.7" cy="93.0" rx="4.0" ry="2.3" fill="url(#gM3)"/><ellipse cx="322.5" cy="93.1" rx="3.9" ry="2.6" fill="url(#gM3)"/><ellipse cx="327.6" cy="93.5" rx="3.5" ry="2.3" fill="url(#gM3)"/><ellipse cx="323.2" cy="93.5" rx="4.0" ry="2.5" fill="url(#gM3)"/><ellipse cx="392.1" cy="93.6" rx="2.9" ry="2.0" fill="url(#gM3)"/><ellipse cx="369.1" cy="94.0" rx="3.5" ry="2.1" fill="url(#gM3)"/><ellipse cx="413.6" cy="94.3" rx="4.2" ry="2.6" fill="url(#gM3)"/><ellipse cx="388.3" cy="94.5" rx="3.6" ry="2.3" fill="url(#gM3)"/><ellipse cx="397.0" cy="94.7" rx="3.1" ry="2.0" fill="url(#gM3)"/><ellipse cx="315.3" cy="94.8" rx="3.9" ry="2.5" fill="url(#gM3)"/><ellipse cx="383.9" cy="94.8" rx="4.1" ry="2.3" fill="url(#gM3)"/><ellipse cx="316.8" cy="94.9" rx="2.9" ry="2.0" fill="url(#gM3)"/><ellipse cx="410.0" cy="95.0" rx="4.4" ry="2.6" fill="url(#gM3)"/><ellipse cx="317.4" cy="95.0" rx="3.5" ry="2.2" fill="url(#gM3)"/><ellipse cx="372.1" cy="95.1" rx="3.2" ry="2.2" fill="url(#gM3)"/><ellipse cx="324.3" cy="95.2" rx="4.4" ry="2.6" fill="url(#gM3)"/><ellipse cx="387.5" cy="95.6" rx="3.0" ry="1.7" fill="url(#gM3)"/><ellipse cx="330.6" cy="95.6" rx="3.9" ry="2.5" fill="url(#gM3)"/><ellipse cx="385.6" cy="95.6" rx="3.7" ry="2.1" fill="url(#gM3)"/><ellipse cx="350.3" cy="95.8" rx="3.5" ry="2.3" fill="url(#gM3)"/><ellipse cx="372.4" cy="96.1" rx="4.1" ry="2.6" fill="url(#gM3)"/><ellipse cx="408.4" cy="96.4" rx="3.7" ry="2.6" fill="url(#gM3)"/><ellipse cx="330.9" cy="96.5" rx="3.6" ry="2.3" fill="url(#gM3)"/><ellipse cx="418.9" cy="96.7" rx="4.0" ry="2.4" fill="url(#gM3)"/><ellipse cx="343.0" cy="97.5" rx="3.4" ry="2.1" fill="url(#gM3)"/><ellipse cx="381.5" cy="97.6" rx="3.0" ry="1.9" fill="url(#gM3)"/><ellipse cx="313.9" cy="97.7" rx="3.5" ry="2.1" fill="url(#gM3)"/><ellipse cx="368.4" cy="97.8" rx="4.1" ry="2.4" fill="url(#gM3)"/><ellipse cx="391.6" cy="97.9" rx="3.0" ry="2.1" fill="url(#gM3)"/><ellipse cx="321.7" cy="98.4" rx="3.9" ry="2.5" fill="url(#gM3)"/><ellipse cx="391.2" cy="98.7" rx="4.1" ry="2.6" fill="url(#gM3)"/><ellipse cx="407.8" cy="98.8" rx="3.0" ry="1.7" fill="url(#gM3)"/><ellipse cx="403.8" cy="99.4" rx="3.0" ry="1.9" fill="url(#gM3)"/><ellipse cx="332.5" cy="99.5" rx="4.2" ry="2.6" fill="url(#gM3)"/><ellipse cx="311.9" cy="99.6" rx="4.0" ry="2.6" fill="url(#gM3)"/><ellipse cx="302.3" cy="99.7" rx="3.5" ry="2.0" fill="url(#gM3)"/><ellipse cx="413.1" cy="100.0" rx="3.0" ry="1.8" fill="url(#gM3)"/><ellipse cx="374.0" cy="100.9" rx="3.0" ry="1.8" fill="url(#gM3)"/><ellipse cx="314.2" cy="100.9" rx="4.0" ry="2.4" fill="url(#gM3)"/><ellipse cx="343.4" cy="101.0" rx="4.1" ry="2.7" fill="url(#gM3)"/><ellipse cx="325.8" cy="101.3" rx="4.5" ry="2.9" fill="url(#gM3)"/><ellipse cx="343.2" cy="101.6" rx="4.2" ry="2.9" fill="url(#gM3)"/><ellipse cx="332.6" cy="102.0" rx="3.0" ry="1.9" fill="url(#gM3)"/><ellipse cx="323.5" cy="102.4" rx="3.0" ry="1.7" fill="url(#gM3)"/><ellipse cx="317.7" cy="102.5" rx="3.5" ry="2.1" fill="url(#gM3)"/><ellipse cx="359.9" cy="102.5" rx="4.0" ry="2.6" fill="url(#gM3)"/><ellipse cx="344.6" cy="102.7" rx="3.3" ry="1.9" fill="url(#gM3)"/><ellipse cx="417.6" cy="102.7" rx="3.1" ry="2.0" fill="url(#gM3)"/><ellipse cx="358.6" cy="102.7" rx="4.4" ry="2.8" fill="url(#gM3)"/><ellipse cx="309.0" cy="102.7" rx="4.2" ry="2.5" fill="url(#gM3)"/><ellipse cx="388.9" cy="102.8" rx="3.6" ry="2.0" fill="url(#gM3)"/><ellipse cx="369.3" cy="103.2" rx="3.9" ry="2.5" fill="url(#gM3)"/><ellipse cx="303.9" cy="103.2" rx="3.5" ry="2.3" fill="url(#gM3)"/><ellipse cx="415.0" cy="103.7" rx="3.4" ry="2.2" fill="url(#gM3)"/><ellipse cx="346.4" cy="104.0" rx="3.0" ry="1.6" fill="url(#gM3)"/><ellipse cx="352.8" cy="104.1" rx="4.4" ry="3.1" fill="url(#gM3)"/>
<polygon points="427.6,75.7 548.0,75.7 548.0,75.7 543.0,78.6 538.0,80.3 533.0,80.8 527.9,81.2 522.9,81.6 517.9,81.9 512.9,82.2 507.9,82.4 502.9,82.6 497.8,82.7 492.8,82.8 487.8,82.8 482.8,82.8 477.8,82.7 472.8,82.6 467.7,82.4 462.7,82.2 457.7,81.9 452.7,81.6 447.7,81.2 442.7,80.8 437.6,80.3 432.6,78.6 427.6,75.7" fill="#0c1232"/><ellipse cx="477" cy="76.3" rx="7.5" ry="2.6" fill="#0c1232"/><ellipse cx="477" cy="76.6" rx="5" ry="1.6" fill="url(#gD)"/><ellipse cx="475.4" cy="79.4" rx="2.6" ry="1.7" fill="url(#gD)"/><ellipse cx="522.1" cy="80.8" rx="2.6" ry="1.6" fill="url(#gD)"/><ellipse cx="486.2" cy="81.6" rx="2.7" ry="1.7" fill="url(#gD)"/><ellipse cx="510.2" cy="79.2" rx="3.0" ry="1.9" fill="url(#gD)"/><ellipse cx="491.3" cy="82.7" rx="2.2" ry="1.4" fill="url(#gD)"/><ellipse cx="513.8" cy="79.4" rx="3.4" ry="1.8" fill="url(#gD)"/><ellipse cx="468.1" cy="81.0" rx="3.4" ry="1.9" fill="url(#gD)"/><ellipse cx="547.8" cy="80.5" rx="2.3" ry="1.2" fill="url(#gD)"/><ellipse cx="436.4" cy="80.0" rx="2.7" ry="1.4" fill="url(#gD)"/><ellipse cx="481.4" cy="76.5" rx="3.5" ry="2.2" fill="url(#gD)"/><ellipse cx="494.9" cy="79.1" rx="2.6" ry="1.6" fill="url(#gD)"/><ellipse cx="469.2" cy="82.8" rx="3.5" ry="2.2" fill="url(#gD)"/><ellipse cx="527.4" cy="76.5" rx="2.4" ry="1.3" fill="url(#gD)"/><ellipse cx="442.4" cy="79.0" rx="3.6" ry="2.2" fill="url(#gD)"/><polygon points="425.6,119.0 425.6,117.2 427.5,114.7 429.1,113.7 430.7,113.4 432.8,112.8 435.4,110.9 437.5,111.0 440.4,110.9 442.8,109.5 444.9,107.2 447.4,110.3 449.2,111.6 452.5,111.6 455.6,109.6 457.5,108.5 460.4,112.3 462.2,107.0 464.4,108.9 467.1,107.6 470.3,108.8 473.6,108.8 475.7,107.9 479.1,110.2 482.3,107.3 484.8,111.0 488.3,112.1 490.0,109.0 493.5,109.9 496.9,108.4 498.5,112.1 500.5,110.0 502.7,110.1 506.1,112.1 509.4,108.4 512.5,107.1 514.8,112.1 516.8,109.0 519.5,108.3 522.4,110.5 524.1,112.0 525.8,110.8 528.0,107.8 529.6,112.4 532.7,109.5 535.8,112.2 539.1,110.0 541.2,111.1 544.7,114.0 547.5,115.8 549.8,116.5 550.0,110.6 550.0,119.0" fill="#adb4be"/><ellipse cx="451.0" cy="116.8" rx="1.3" ry="1.1" fill="url(#gG)"/><ellipse cx="497.0" cy="110.0" rx="2.5" ry="2.0" fill="url(#gG)"/><ellipse cx="449.3" cy="112.5" rx="2.1" ry="1.6" fill="url(#gG)"/><ellipse cx="427.0" cy="115.6" rx="2.2" ry="1.5" fill="url(#gG)"/><ellipse cx="457.9" cy="116.3" rx="2.4" ry="2.2" fill="url(#gG)"/><ellipse cx="448.0" cy="108.6" rx="2.3" ry="1.9" fill="url(#gG)"/><ellipse cx="471.2" cy="108.7" rx="1.9" ry="1.3" fill="url(#gG)"/><ellipse cx="498.6" cy="118.0" rx="1.6" ry="1.1" fill="url(#gG)"/><ellipse cx="511.6" cy="109.6" rx="1.6" ry="1.2" fill="url(#gG)"/><ellipse cx="547.3" cy="115.7" rx="1.7" ry="1.4" fill="url(#gG)"/><ellipse cx="446.5" cy="112.4" rx="2.2" ry="1.7" fill="url(#gG)"/><ellipse cx="524.1" cy="110.3" rx="1.4" ry="1.2" fill="url(#gG)"/><ellipse cx="482.0" cy="117.4" rx="1.4" ry="1.3" fill="url(#gG)"/><ellipse cx="508.6" cy="112.1" rx="1.5" ry="1.2" fill="url(#gG)"/><ellipse cx="519.4" cy="113.1" rx="1.9" ry="1.6" fill="url(#gG)"/><ellipse cx="501.2" cy="112.6" rx="1.5" ry="1.2" fill="url(#gG)"/><ellipse cx="493.9" cy="117.2" rx="2.6" ry="2.1" fill="url(#gG)"/><ellipse cx="466.8" cy="110.7" rx="2.1" ry="1.8" fill="url(#gG)"/><ellipse cx="456.9" cy="115.2" rx="2.6" ry="2.0" fill="url(#gG)"/><ellipse cx="541.5" cy="113.8" rx="2.1" ry="2.0" fill="url(#gG)"/><ellipse cx="451.5" cy="111.9" rx="2.6" ry="1.7" fill="url(#gG)"/><ellipse cx="464.1" cy="113.2" rx="2.3" ry="1.9" fill="url(#gG)"/><ellipse cx="540.4" cy="115.4" rx="1.3" ry="0.9" fill="url(#gG)"/><ellipse cx="431.1" cy="115.0" rx="1.3" ry="1.1" fill="url(#gG)"/><ellipse cx="504.0" cy="110.5" rx="2.4" ry="1.9" fill="url(#gG)"/><ellipse cx="544.1" cy="114.4" rx="2.1" ry="1.7" fill="url(#gG)"/><ellipse cx="458.8" cy="116.1" rx="1.3" ry="0.9" fill="url(#gG)"/><ellipse cx="465.9" cy="117.1" rx="2.0" ry="1.3" fill="url(#gG)"/><ellipse cx="463.2" cy="114.4" rx="2.4" ry="1.6" fill="url(#gG)"/><ellipse cx="522.0" cy="112.3" rx="2.0" ry="1.5" fill="url(#gG)"/><ellipse cx="480.3" cy="118.1" rx="2.5" ry="1.2" fill="url(#gG)"/><ellipse cx="516.7" cy="115.3" rx="1.5" ry="1.0" fill="url(#gG)"/><ellipse cx="528.3" cy="115.0" rx="2.1" ry="1.6" fill="url(#gG)"/><ellipse cx="459.3" cy="117.4" rx="2.0" ry="1.3" fill="url(#gG)"/><ellipse cx="468.3" cy="111.9" rx="1.4" ry="1.3" fill="url(#gG)"/><ellipse cx="537.1" cy="116.4" rx="1.3" ry="1.0" fill="url(#gG)"/><ellipse cx="440.3" cy="115.6" rx="2.4" ry="2.1" fill="url(#gG)"/><ellipse cx="523.5" cy="109.7" rx="1.3" ry="0.9" fill="url(#gG)"/><ellipse cx="529.7" cy="116.6" rx="2.0" ry="1.4" fill="url(#gG)"/><ellipse cx="531.5" cy="109.7" rx="1.7" ry="1.1" fill="url(#gG)"/><ellipse cx="546.9" cy="116.0" rx="2.3" ry="2.1" fill="url(#gG)"/><ellipse cx="497.7" cy="118.1" rx="2.3" ry="1.2" fill="url(#gG)"/><ellipse cx="544.5" cy="112.9" rx="2.3" ry="1.6" fill="url(#gG)"/><ellipse cx="466.3" cy="111.9" rx="2.6" ry="1.7" fill="url(#gG)"/><ellipse cx="479.8" cy="109.8" rx="2.6" ry="2.1" fill="url(#gG)"/><ellipse cx="512.5" cy="113.6" rx="2.3" ry="1.7" fill="url(#gG)"/><ellipse cx="477.2" cy="115.7" rx="2.2" ry="2.0" fill="url(#gG)"/><ellipse cx="464.5" cy="116.7" rx="2.3" ry="1.9" fill="url(#gG)"/><ellipse cx="476.6" cy="114.0" rx="1.4" ry="1.0" fill="url(#gG)"/><ellipse cx="464.7" cy="109.7" rx="1.4" ry="1.2" fill="url(#gG)"/><ellipse cx="516.1" cy="114.5" rx="1.6" ry="1.4" fill="url(#gG)"/><ellipse cx="527.7" cy="114.5" rx="1.6" ry="1.3" fill="url(#gG)"/><ellipse cx="474.9" cy="111.2" rx="1.5" ry="1.4" fill="url(#gG)"/><ellipse cx="504.0" cy="117.6" rx="1.5" ry="1.1" fill="url(#gG)"/><ellipse cx="488.9" cy="109.1" rx="1.7" ry="1.4" fill="url(#gG)"/><ellipse cx="485.6" cy="117.3" rx="2.1" ry="1.7" fill="url(#gG)"/><ellipse cx="498.2" cy="116.1" rx="1.8" ry="1.2" fill="url(#gG)"/><ellipse cx="546.6" cy="117.6" rx="1.5" ry="1.0" fill="url(#gG)"/><ellipse cx="453.8" cy="114.9" rx="1.5" ry="1.0" fill="url(#gG)"/><ellipse cx="487.1" cy="108.6" rx="1.6" ry="1.3" fill="url(#gG)"/><ellipse cx="451.7" cy="108.6" rx="1.6" ry="1.2" fill="url(#gG)"/><ellipse cx="466.3" cy="112.6" rx="1.8" ry="1.3" fill="url(#gG)"/><ellipse cx="428.9" cy="117.8" rx="2.3" ry="1.5" fill="url(#gG)"/><ellipse cx="426.9" cy="116.1" rx="2.5" ry="1.9" fill="url(#gG)"/><ellipse cx="451.7" cy="116.5" rx="2.5" ry="1.7" fill="url(#gG)"/><ellipse cx="487.9" cy="114.0" rx="1.5" ry="1.1" fill="url(#gG)"/><ellipse cx="502.3" cy="115.1" rx="2.1" ry="1.8" fill="url(#gG)"/><ellipse cx="472.9" cy="109.2" rx="1.3" ry="1.2" fill="url(#gG)"/><ellipse cx="532.5" cy="117.3" rx="1.4" ry="1.2" fill="url(#gG)"/><ellipse cx="447.6" cy="111.9" rx="1.6" ry="1.4" fill="url(#gG)"/><ellipse cx="526.9" cy="116.6" rx="1.8" ry="1.7" fill="url(#gG)"/><ellipse cx="458.4" cy="114.1" rx="2.2" ry="1.6" fill="url(#gG)"/><ellipse cx="473.3" cy="109.5" rx="2.3" ry="1.6" fill="url(#gG)"/><ellipse cx="443.2" cy="111.2" rx="2.1" ry="1.8" fill="url(#gG)"/><ellipse cx="490.8" cy="116.8" rx="2.3" ry="1.6" fill="url(#gG)"/><ellipse cx="492.0" cy="110.2" rx="1.6" ry="1.1" fill="url(#gG)"/><ellipse cx="436.0" cy="112.2" rx="2.5" ry="2.1" fill="url(#gG)"/><ellipse cx="437.3" cy="110.7" rx="2.1" ry="1.7" fill="url(#gG)"/><ellipse cx="429.9" cy="113.8" rx="2.0" ry="1.7" fill="url(#gG)"/><ellipse cx="436.4" cy="116.0" rx="1.6" ry="1.3" fill="url(#gG)"/><ellipse cx="491.4" cy="111.8" rx="2.5" ry="1.9" fill="url(#gG)"/><ellipse cx="478.4" cy="113.8" rx="2.4" ry="2.3" fill="url(#gG)"/><ellipse cx="520.8" cy="113.8" rx="2.2" ry="1.9" fill="url(#gG)"/><ellipse cx="544.0" cy="118.3" rx="2.3" ry="1.0" fill="url(#gG)"/><ellipse cx="496.2" cy="112.8" rx="1.6" ry="1.4" fill="url(#gG)"/><ellipse cx="453.7" cy="115.4" rx="1.9" ry="1.5" fill="url(#gG)"/><ellipse cx="513.1" cy="115.5" rx="2.6" ry="2.5" fill="url(#gG)"/><ellipse cx="524.5" cy="111.1" rx="2.2" ry="1.7" fill="url(#gG)"/><ellipse cx="541.7" cy="114.0" rx="1.8" ry="1.2" fill="url(#gG)"/><ellipse cx="484.1" cy="113.7" rx="1.7" ry="1.2" fill="url(#gG)"/><ellipse cx="485.8" cy="109.2" rx="1.5" ry="1.2" fill="url(#gG)"/><ellipse cx="469.2" cy="113.4" rx="2.0" ry="1.5" fill="url(#gG)"/><ellipse cx="442.9" cy="108.7" rx="2.0" ry="1.9" fill="url(#gG)"/><ellipse cx="461.0" cy="112.0" rx="1.7" ry="1.5" fill="url(#gG)"/><ellipse cx="487.0" cy="116.2" rx="1.3" ry="0.9" fill="url(#gG)"/><ellipse cx="451.8" cy="112.1" rx="1.8" ry="1.4" fill="url(#gG)"/><ellipse cx="544.8" cy="115.2" rx="2.0" ry="1.9" fill="url(#gG)"/><ellipse cx="505.2" cy="114.3" rx="2.4" ry="1.8" fill="url(#gG)"/><ellipse cx="431.0" cy="118.2" rx="2.0" ry="1.1" fill="url(#gG)"/><ellipse cx="434.8" cy="116.1" rx="1.8" ry="1.5" fill="url(#gG)"/><ellipse cx="461.3" cy="117.4" rx="1.8" ry="1.3" fill="url(#gG)"/><ellipse cx="536.0" cy="110.7" rx="1.7" ry="1.3" fill="url(#gG)"/><ellipse cx="546.7" cy="114.4" rx="1.6" ry="1.4" fill="url(#gG)"/><ellipse cx="435.8" cy="112.9" rx="2.3" ry="2.0" fill="url(#gG)"/><ellipse cx="523.7" cy="109.7" rx="2.5" ry="1.9" fill="url(#gG)"/><ellipse cx="526.3" cy="113.1" rx="2.5" ry="2.0" fill="url(#gG)"/><ellipse cx="458.2" cy="110.0" rx="1.9" ry="1.3" fill="url(#gG)"/><ellipse cx="446.7" cy="117.0" rx="2.0" ry="1.9" fill="url(#gG)"/><ellipse cx="445.1" cy="113.2" rx="1.9" ry="1.3" fill="url(#gG)"/><ellipse cx="458.8" cy="117.4" rx="2.2" ry="1.8" fill="url(#gG)"/><path d="M497.5,119.0 A3.3,2.6 0 0 1 504.0,119.0 Z" fill="#3a465a"/><rect x="498.6" y="108.5" width="1.5" height="9.5" rx="0.7" fill="url(#gC)"/><rect x="445.9" y="99.6" width="1.8" height="18.4" rx="0.9" fill="url(#gC)"/><rect x="488.1" y="103.5" width="2.3" height="14.5" rx="1.2" fill="url(#gC)"/><rect x="483.3" y="106.6" width="1.6" height="11.4" rx="0.8" fill="url(#gC)"/><rect x="491.4" y="108.0" width="1.9" height="10.0" rx="0.9" fill="url(#gC)"/><rect x="540.1" y="109.8" width="2.9" height="8.2" rx="1.4" fill="url(#gC)"/><rect x="434.0" y="103.4" width="2.0" height="14.6" rx="1.0" fill="url(#gC)"/><rect x="456.7" y="108.9" width="2.6" height="9.1" rx="1.3" fill="url(#gC)"/><rect x="442.5" y="109.6" width="2.2" height="8.4" rx="1.1" fill="url(#gC)"/><rect x="534.3" y="99.3" width="2.1" height="18.7" rx="1.1" fill="url(#gC)"/><rect x="481.3" y="107.4" width="2.2" height="10.6" rx="1.1" fill="url(#gC)"/><rect x="448.4" y="109.8" width="1.8" height="8.2" rx="0.9" fill="url(#gC)"/><rect x="426.8" y="99.1" width="2.4" height="18.9" rx="1.2" fill="url(#gC)"/><rect x="517.4" y="109.1" width="2.1" height="8.9" rx="1.0" fill="url(#gC)"/><rect x="452.5" y="100.7" width="2.8" height="17.3" rx="1.4" fill="url(#gC)"/><rect x="431.7" y="98.9" width="1.5" height="19.1" rx="0.8" fill="url(#gC)"/><rect x="472.7" y="102.3" width="3.0" height="15.7" rx="1.5" fill="url(#gC)"/><rect x="513.6" y="104.2" width="1.5" height="13.8" rx="0.7" fill="url(#gC)"/><rect x="502.7" y="95.4" width="1.8" height="20.6" fill="url(#gC)"/><rect x="499.4" y="95.7" width="1.4" height="20.3" fill="url(#gC)"/><rect x="491.7" y="96.5" width="1.7" height="19.5" fill="url(#gC)"/><rect x="531.4" y="96.7" width="1.1" height="19.3" fill="#c9b6a6"/><rect x="491.9" y="97.5" width="2.7" height="18.5" fill="url(#gC)"/><rect x="543.7" y="99.0" width="1.7" height="17.0" fill="url(#gC)"/><rect x="529.9" y="99.2" width="1.4" height="16.8" fill="url(#gC)"/><rect x="442.3" y="99.6" width="1.7" height="16.4" fill="url(#gC)"/><rect x="476.4" y="100.4" width="1.2" height="15.6" fill="url(#gC)"/><rect x="466.9" y="101.6" width="2.5" height="14.4" fill="url(#gC)"/><rect x="536.8" y="102.0" width="2.7" height="14.0" fill="url(#gC)"/><rect x="437.2" y="102.3" width="1.5" height="13.7" fill="url(#gC)"/><rect x="487.8" y="103.0" width="2.5" height="13.0" fill="url(#gC)"/><rect x="504.3" y="103.6" width="0.6" height="12.4" fill="#c9b6a6"/><rect x="500.7" y="104.4" width="0.8" height="11.6" fill="#c9b6a6"/><rect x="545.6" y="104.6" width="1.6" height="11.4" fill="url(#gC)"/><rect x="453.4" y="104.8" width="2.0" height="11.2" fill="url(#gC)"/><rect x="485.0" y="104.9" width="1.8" height="11.1" fill="url(#gC)"/><rect x="432.3" y="105.6" width="2.3" height="10.4" fill="url(#gC)"/><rect x="499.2" y="106.1" width="2.4" height="9.9" fill="url(#gC)"/><rect x="470.9" y="106.8" width="1.3" height="9.2" fill="url(#gC)"/><rect x="456.6" y="106.9" width="2.5" height="9.1" fill="url(#gC)"/><rect x="465.6" y="107.5" width="2.8" height="8.5" fill="url(#gC)"/><rect x="492.2" y="108.5" width="0.7" height="7.5" fill="#c9b6a6"/><rect x="505.0" y="108.6" width="0.8" height="7.4" fill="#c9b6a6"/><rect x="484.1" y="108.9" width="1.5" height="7.1" fill="url(#gC)"/><rect x="535.2" y="109.1" width="2.0" height="6.9" fill="url(#gC)"/><rect x="493.9" y="109.3" width="1.6" height="6.7" fill="url(#gC)"/><rect x="427.9" y="109.6" width="1.8" height="6.4" fill="url(#gC)"/><ellipse cx="494.1" cy="95.3" rx="2.0" ry="1.5" fill="url(#gM)"/><ellipse cx="503.6" cy="95.4" rx="2.6" ry="2.4" fill="url(#gM)"/><ellipse cx="487.8" cy="95.5" rx="2.1" ry="2.1" fill="url(#gM)"/><ellipse cx="500.1" cy="95.7" rx="1.7" ry="1.7" fill="url(#gM)"/><ellipse cx="440.4" cy="95.8" rx="1.9" ry="1.7" fill="url(#gM)"/><ellipse cx="492.5" cy="96.5" rx="2.3" ry="2.0" fill="url(#gM)"/><ellipse cx="532.0" cy="96.7" rx="2.6" ry="2.5" fill="url(#gM)"/><ellipse cx="499.7" cy="96.8" rx="1.9" ry="1.5" fill="url(#gM)"/><ellipse cx="493.2" cy="97.5" rx="2.4" ry="2.4" fill="url(#gM)"/><ellipse cx="470.2" cy="98.0" rx="2.3" ry="2.1" fill="url(#gM)"/><ellipse cx="440.0" cy="98.3" rx="1.9" ry="1.4" fill="url(#gM)"/><ellipse cx="544.6" cy="99.0" rx="2.5" ry="2.1" fill="url(#gM)"/><ellipse cx="530.6" cy="99.2" rx="2.6" ry="2.3" fill="url(#gM)"/><ellipse cx="443.1" cy="99.6" rx="2.6" ry="2.3" fill="url(#gM)"/><ellipse cx="488.7" cy="99.7" rx="2.3" ry="2.2" fill="url(#gM)"/><ellipse cx="487.7" cy="100.3" rx="1.9" ry="1.8" fill="url(#gM)"/><ellipse cx="477.0" cy="100.4" rx="1.7" ry="1.6" fill="url(#gM)"/><ellipse cx="530.6" cy="100.5" rx="2.1" ry="1.9" fill="url(#gM)"/><ellipse cx="468.2" cy="101.6" rx="2.4" ry="1.9" fill="url(#gM)"/><ellipse cx="445.6" cy="102.0" rx="1.7" ry="1.5" fill="url(#gM)"/><ellipse cx="538.2" cy="102.0" rx="2.2" ry="1.8" fill="url(#gM)"/><ellipse cx="466.3" cy="102.1" rx="2.5" ry="1.9" fill="url(#gM)"/><ellipse cx="437.9" cy="102.3" rx="2.6" ry="2.5" fill="url(#gM)"/><ellipse cx="507.6" cy="102.8" rx="1.8" ry="1.7" fill="url(#gM)"/><ellipse cx="489.0" cy="103.0" rx="1.9" ry="1.8" fill="url(#gM)"/><ellipse cx="532.2" cy="103.1" rx="2.7" ry="2.4" fill="url(#gM)"/><ellipse cx="504.6" cy="103.6" rx="2.7" ry="2.4" fill="url(#gM)"/><ellipse cx="440.3" cy="103.6" rx="1.8" ry="1.5" fill="url(#gM)"/><ellipse cx="543.6" cy="103.7" rx="1.9" ry="1.7" fill="url(#gM)"/><ellipse cx="495.3" cy="104.1" rx="1.6" ry="1.4" fill="url(#gM)"/><ellipse cx="501.1" cy="104.4" rx="2.6" ry="2.0" fill="url(#gM)"/><ellipse cx="483.9" cy="104.4" rx="1.9" ry="1.6" fill="url(#gM)"/><ellipse cx="546.5" cy="104.6" rx="1.8" ry="1.6" fill="url(#gM)"/><ellipse cx="531.8" cy="104.7" rx="2.6" ry="2.0" fill="url(#gM)"/><ellipse cx="454.4" cy="104.8" rx="1.7" ry="1.3" fill="url(#gM)"/><ellipse cx="485.9" cy="104.9" rx="1.7" ry="1.4" fill="url(#gM)"/><ellipse cx="431.3" cy="105.5" rx="2.3" ry="2.1" fill="url(#gM)"/><ellipse cx="433.4" cy="105.6" rx="2.3" ry="2.0" fill="url(#gM)"/><ellipse cx="437.4" cy="105.6" rx="1.8" ry="1.8" fill="url(#gM)"/><ellipse cx="531.8" cy="105.6" rx="1.6" ry="1.2" fill="url(#gM)"/><ellipse cx="507.3" cy="105.6" rx="2.2" ry="1.8" fill="url(#gM)"/><ellipse cx="489.1" cy="105.6" rx="2.2" ry="1.9" fill="url(#gM)"/><ellipse cx="478.2" cy="105.7" rx="1.9" ry="1.5" fill="url(#gM)"/><ellipse cx="500.4" cy="106.1" rx="1.9" ry="1.8" fill="url(#gM)"/><ellipse cx="492.9" cy="106.4" rx="2.6" ry="2.1" fill="url(#gM)"/><ellipse cx="522.9" cy="106.4" rx="2.2" ry="2.2" fill="url(#gM)"/><ellipse cx="501.5" cy="106.6" rx="2.2" ry="1.7" fill="url(#gM)"/><ellipse cx="471.5" cy="106.8" rx="2.4" ry="2.2" fill="url(#gM)"/><ellipse cx="457.8" cy="106.9" rx="2.3" ry="1.9" fill="url(#gM)"/><ellipse cx="483.4" cy="107.2" rx="2.0" ry="1.6" fill="url(#gM)"/><ellipse cx="467.0" cy="107.5" rx="2.4" ry="1.9" fill="url(#gM)"/><ellipse cx="492.5" cy="108.5" rx="2.2" ry="1.8" fill="url(#gM)"/><ellipse cx="505.4" cy="108.6" rx="2.5" ry="1.9" fill="url(#gM)"/><ellipse cx="547.5" cy="108.6" rx="2.4" ry="1.9" fill="url(#gM)"/><ellipse cx="484.9" cy="108.9" rx="2.5" ry="1.9" fill="url(#gM)"/><ellipse cx="483.5" cy="109.1" rx="2.2" ry="1.6" fill="url(#gM)"/><ellipse cx="536.2" cy="109.1" rx="1.9" ry="1.5" fill="url(#gM)"/><ellipse cx="494.7" cy="109.3" rx="2.3" ry="2.3" fill="url(#gM)"/><ellipse cx="544.2" cy="109.5" rx="2.6" ry="2.1" fill="url(#gM)"/><ellipse cx="428.8" cy="109.6" rx="1.9" ry="1.6" fill="url(#gM)"/><ellipse cx="485.2" cy="82.4" rx="1.7" ry="1.2" fill="url(#gB)"/><ellipse cx="524.1" cy="87.3" rx="1.6" ry="1.3" fill="url(#gB)"/><ellipse cx="443.8" cy="95.0" rx="1.6" ry="1.1" fill="url(#gB)"/><ellipse cx="444.8" cy="84.4" rx="2.1" ry="1.6" fill="url(#gB)"/><ellipse cx="479.9" cy="87.1" rx="2.1" ry="1.5" fill="url(#gB)"/><ellipse cx="461.2" cy="96.2" rx="1.8" ry="1.1" fill="url(#gB)"/><ellipse cx="493.7" cy="86.0" rx="2.6" ry="1.6" fill="url(#gB)"/><ellipse cx="509.2" cy="86.2" rx="2.9" ry="1.9" fill="url(#gB)"/><ellipse cx="479.7" cy="85.4" rx="2.3" ry="1.5" fill="url(#gB)"/><ellipse cx="508.4" cy="87.0" rx="2.6" ry="1.7" fill="url(#gB)"/><ellipse cx="482.5" cy="89.5" rx="2.6" ry="1.9" fill="url(#gB)"/><ellipse cx="479.2" cy="81.5" rx="1.7" ry="1.0" fill="url(#gB)"/><ellipse cx="449.4" cy="83.1" rx="2.5" ry="1.7" fill="url(#gB)"/><ellipse cx="537.3" cy="84.0" rx="1.9" ry="1.2" fill="url(#gB)"/><ellipse cx="444.6" cy="91.6" rx="2.4" ry="1.5" fill="url(#gB)"/><ellipse cx="525.5" cy="91.5" rx="2.1" ry="1.5" fill="url(#gB)"/><ellipse cx="506.8" cy="87.5" rx="1.6" ry="1.1" fill="url(#gB)"/><ellipse cx="542.0" cy="86.3" rx="2.5" ry="1.5" fill="url(#gB)"/><ellipse cx="521.1" cy="94.7" rx="2.1" ry="1.4" fill="url(#gB)"/><ellipse cx="489.4" cy="84.3" rx="1.8" ry="1.1" fill="url(#gB)"/><ellipse cx="510.5" cy="88.7" rx="2.9" ry="2.3" fill="url(#gB)"/><ellipse cx="533.2" cy="96.1" rx="2.8" ry="1.7" fill="url(#gB)"/><ellipse cx="442.8" cy="96.6" rx="2.8" ry="2.0" fill="url(#gB)"/><ellipse cx="502.3" cy="87.4" rx="2.1" ry="1.3" fill="url(#gB)"/><ellipse cx="493.6" cy="84.7" rx="1.7" ry="1.3" fill="url(#gB)"/><ellipse cx="496.9" cy="94.9" rx="1.9" ry="1.4" fill="url(#gB)"/><ellipse cx="460.7" cy="94.1" rx="1.8" ry="1.3" fill="url(#gB)"/><ellipse cx="494.5" cy="85.5" rx="1.6" ry="1.1" fill="url(#gB)"/><ellipse cx="490.6" cy="93.9" rx="1.8" ry="1.1" fill="url(#gB)"/><ellipse cx="464.2" cy="93.6" rx="1.8" ry="1.3" fill="url(#gB)"/><ellipse cx="431.0" cy="81.4" rx="2.6" ry="1.8" fill="url(#gB)"/><ellipse cx="440.8" cy="88.0" rx="2.9" ry="2.0" fill="url(#gB)"/><ellipse cx="494.7" cy="87.1" rx="2.3" ry="1.4" fill="url(#gB)"/><ellipse cx="534.3" cy="89.9" rx="2.0" ry="1.3" fill="url(#gB)"/><ellipse cx="449.8" cy="95.9" rx="2.8" ry="1.9" fill="url(#gB)"/><ellipse cx="500.3" cy="89.4" rx="1.8" ry="1.1" fill="url(#gB)"/><ellipse cx="516.4" cy="82.8" rx="2.3" ry="1.4" fill="url(#gB)"/><ellipse cx="429.8" cy="82.8" rx="2.5" ry="1.8" fill="url(#gB)"/><ellipse cx="547.4" cy="91.2" rx="2.3" ry="1.4" fill="url(#gB)"/><ellipse cx="543.4" cy="88.3" rx="2.8" ry="1.7" fill="url(#gB)"/><ellipse cx="528.5" cy="88.1" rx="1.8" ry="1.2" fill="url(#gB)"/><ellipse cx="436.2" cy="89.9" rx="1.8" ry="1.4" fill="url(#gB)"/><ellipse cx="448.2" cy="91.7" rx="2.4" ry="1.8" fill="url(#gB)"/><ellipse cx="542.5" cy="85.0" rx="2.5" ry="1.7" fill="url(#gB)"/><ellipse cx="535.6" cy="94.0" rx="2.6" ry="1.9" fill="url(#gB)"/><ellipse cx="458.9" cy="95.4" rx="3.0" ry="2.3" fill="url(#gB)"/><ellipse cx="468.2" cy="94.0" rx="2.5" ry="1.9" fill="url(#gB)"/><ellipse cx="524.5" cy="87.7" rx="2.1" ry="1.6" fill="url(#gB)"/><ellipse cx="506.6" cy="89.2" rx="2.8" ry="1.7" fill="url(#gB)"/><ellipse cx="428.7" cy="87.9" rx="1.6" ry="1.3" fill="url(#gB)"/><ellipse cx="437.8" cy="95.0" rx="1.8" ry="1.2" fill="url(#gB)"/><ellipse cx="518.6" cy="91.5" rx="2.1" ry="1.5" fill="url(#gB)"/><ellipse cx="494.2" cy="96.1" rx="2.3" ry="1.6" fill="url(#gB)"/><ellipse cx="483.2" cy="87.0" rx="2.5" ry="1.6" fill="url(#gB)"/><ellipse cx="511.1" cy="95.8" rx="2.6" ry="1.9" fill="url(#gB)"/><ellipse cx="470.0" cy="81.7" rx="1.6" ry="1.2" fill="url(#gB)"/><ellipse cx="533.9" cy="94.7" rx="1.8" ry="1.3" fill="url(#gB)"/><ellipse cx="525.1" cy="88.2" rx="2.8" ry="1.8" fill="url(#gB)"/><ellipse cx="467.8" cy="88.7" rx="2.6" ry="1.8" fill="url(#gB)"/><ellipse cx="463.8" cy="94.7" rx="2.1" ry="1.4" fill="url(#gB)"/><ellipse cx="454.2" cy="88.2" rx="2.6" ry="1.7" fill="url(#gB)"/><ellipse cx="507.5" cy="88.4" rx="1.5" ry="1.2" fill="url(#gB)"/><ellipse cx="462.1" cy="89.3" rx="2.9" ry="1.9" fill="url(#gB)"/><ellipse cx="434.9" cy="83.5" rx="1.7" ry="1.3" fill="url(#gB)"/><ellipse cx="489.9" cy="80.7" rx="1.9" ry="1.3" fill="url(#gB)"/><ellipse cx="448.3" cy="85.2" rx="2.9" ry="2.0" fill="url(#gB)"/><ellipse cx="455.4" cy="90.2" rx="1.7" ry="1.2" fill="url(#gB)"/><ellipse cx="505.8" cy="81.5" rx="2.3" ry="1.5" fill="url(#gB)"/><ellipse cx="517.5" cy="90.5" rx="2.9" ry="2.1" fill="url(#gB)"/><ellipse cx="449.3" cy="83.2" rx="2.6" ry="1.9" fill="url(#gB)"/><ellipse cx="434.7" cy="87.1" rx="1.9" ry="1.3" fill="url(#gB)"/><ellipse cx="533.0" cy="89.5" rx="2.6" ry="2.0" fill="url(#gB)"/><ellipse cx="460.8" cy="90.5" rx="2.1" ry="1.4" fill="url(#gB)"/><ellipse cx="491.5" cy="91.3" rx="1.8" ry="1.3" fill="url(#gB)"/><ellipse cx="446.6" cy="85.3" rx="2.8" ry="2.2" fill="url(#gB)"/><ellipse cx="471.6" cy="96.2" rx="1.6" ry="1.2" fill="url(#gB)"/><ellipse cx="451.5" cy="80.6" rx="2.6" ry="1.7" fill="url(#gB)"/><ellipse cx="518.4" cy="80.1" rx="1.7" ry="1.1" fill="url(#gB)"/><ellipse cx="437.4" cy="88.0" rx="2.0" ry="1.5" fill="url(#gB)"/><ellipse cx="486.9" cy="96.4" rx="2.8" ry="1.8" fill="url(#gB)"/><ellipse cx="538.5" cy="95.2" rx="2.3" ry="1.7" fill="url(#gB)"/><ellipse cx="447.7" cy="85.5" rx="1.8" ry="1.2" fill="url(#gB)"/><ellipse cx="501.7" cy="85.5" rx="2.7" ry="1.9" fill="url(#gB)"/><ellipse cx="527.5" cy="81.5" rx="2.8" ry="1.9" fill="url(#gB)"/><ellipse cx="503.8" cy="84.1" rx="2.5" ry="1.7" fill="url(#gB)"/><ellipse cx="514.7" cy="89.9" rx="1.7" ry="1.1" fill="url(#gB)"/><ellipse cx="518.4" cy="80.3" rx="2.4" ry="1.7" fill="url(#gB)"/><ellipse cx="513.9" cy="85.6" rx="2.2" ry="1.5" fill="url(#gB)"/><ellipse cx="518.1" cy="81.2" rx="2.3" ry="1.5" fill="url(#gB)"/><ellipse cx="498.6" cy="84.4" rx="1.8" ry="1.2" fill="url(#gB)"/>
<polygon points="552.5,75.2 673.7,75.2 673.7,75.2 668.7,79.1 663.6,81.4 658.6,81.9 653.5,82.4 648.5,82.8 643.4,83.2 638.4,83.5 633.3,83.8 628.2,83.9 623.2,84.1 618.2,84.2 613.1,84.2 608.1,84.2 603.0,84.1 598.0,83.9 592.9,83.8 587.9,83.5 582.8,83.2 577.8,82.8 572.7,82.4 567.6,81.9 562.6,81.4 557.5,79.1 552.5,75.2" fill="#0c1232"/><ellipse cx="660.2" cy="78.2" rx="2.8" ry="1.8" fill="url(#gD)"/><ellipse cx="585.6" cy="79.3" rx="1.6" ry="1.1" fill="url(#gD)"/><ellipse cx="628.7" cy="76.7" rx="2.3" ry="1.4" fill="url(#gD)"/><ellipse cx="633.4" cy="77.7" rx="2.9" ry="1.8" fill="url(#gD)"/><ellipse cx="562.2" cy="80.9" rx="2.8" ry="1.6" fill="url(#gD)"/><ellipse cx="638.3" cy="81.2" rx="2.8" ry="1.5" fill="url(#gD)"/><ellipse cx="653.3" cy="77.5" rx="2.7" ry="1.7" fill="url(#gD)"/><ellipse cx="609.0" cy="81.4" rx="2.7" ry="1.9" fill="url(#gD)"/><ellipse cx="667.8" cy="79.4" rx="2.6" ry="1.7" fill="url(#gD)"/><ellipse cx="601.2" cy="79.0" rx="2.3" ry="1.3" fill="url(#gD)"/><polygon points="552.0,119.0 552.0,116.2 555.2,115.4 558.1,113.4 560.6,111.5 563.4,107.0 565.8,112.2 567.7,109.5 569.4,108.4 572.5,107.2 575.6,111.3 578.9,108.4 582.2,109.0 584.6,112.1 587.2,110.7 588.9,107.0 591.0,107.6 594.1,108.3 597.5,110.7 599.4,110.8 601.6,109.8 603.2,111.5 606.3,110.1 609.2,108.8 610.9,108.8 613.9,110.0 615.7,108.3 618.1,107.1 619.7,109.4 621.5,111.8 623.2,111.0 626.3,108.7 628.9,112.4 631.6,109.1 635.1,108.4 638.5,108.7 640.8,108.7 643.7,111.8 646.5,108.0 650.0,110.9 652.5,111.6 654.2,110.2 657.3,111.2 660.2,107.3 662.6,108.5 665.3,110.5 667.7,112.7 670.4,115.3 672.5,115.0 674.2,110.6 674.2,119.0" fill="#adb4be"/><ellipse cx="566.5" cy="116.7" rx="2.5" ry="1.7" fill="url(#gG)"/><ellipse cx="596.3" cy="117.3" rx="2.4" ry="2.0" fill="url(#gG)"/><ellipse cx="672.3" cy="116.0" rx="1.4" ry="1.0" fill="url(#gG)"/><ellipse cx="613.4" cy="108.7" rx="1.6" ry="1.3" fill="url(#gG)"/><ellipse cx="634.9" cy="110.1" rx="1.5" ry="1.1" fill="url(#gG)"/><ellipse cx="563.9" cy="109.7" rx="1.4" ry="1.3" fill="url(#gG)"/><ellipse cx="658.7" cy="109.0" rx="2.3" ry="2.1" fill="url(#gG)"/><ellipse cx="631.2" cy="111.5" rx="2.4" ry="1.6" fill="url(#gG)"/><ellipse cx="558.6" cy="118.1" rx="1.6" ry="1.2" fill="url(#gG)"/><ellipse cx="643.6" cy="109.0" rx="1.4" ry="1.2" fill="url(#gG)"/><ellipse cx="570.5" cy="115.0" rx="2.2" ry="1.6" fill="url(#gG)"/><ellipse cx="610.3" cy="110.6" rx="2.4" ry="2.0" fill="url(#gG)"/><ellipse cx="636.1" cy="114.6" rx="1.4" ry="1.3" fill="url(#gG)"/><ellipse cx="646.7" cy="113.5" rx="2.1" ry="1.6" fill="url(#gG)"/><ellipse cx="643.8" cy="113.7" rx="1.7" ry="1.3" fill="url(#gG)"/><ellipse cx="578.7" cy="108.6" rx="2.0" ry="1.8" fill="url(#gG)"/><ellipse cx="639.5" cy="110.6" rx="2.0" ry="1.6" fill="url(#gG)"/><ellipse cx="622.6" cy="113.0" rx="2.0" ry="1.7" fill="url(#gG)"/><ellipse cx="658.9" cy="113.5" rx="2.3" ry="2.0" fill="url(#gG)"/><ellipse cx="567.4" cy="111.1" rx="1.7" ry="1.3" fill="url(#gG)"/><ellipse cx="612.0" cy="111.4" rx="2.6" ry="2.3" fill="url(#gG)"/><ellipse cx="597.6" cy="115.3" rx="2.5" ry="1.7" fill="url(#gG)"/><ellipse cx="628.6" cy="117.8" rx="1.8" ry="1.5" fill="url(#gG)"/><ellipse cx="649.6" cy="111.6" rx="1.5" ry="1.3" fill="url(#gG)"/><ellipse cx="602.9" cy="111.9" rx="1.9" ry="1.7" fill="url(#gG)"/><ellipse cx="660.5" cy="117.4" rx="2.3" ry="1.6" fill="url(#gG)"/><ellipse cx="597.4" cy="108.6" rx="1.6" ry="1.2" fill="url(#gG)"/><ellipse cx="574.3" cy="113.2" rx="1.5" ry="1.2" fill="url(#gG)"/><ellipse cx="602.4" cy="110.9" rx="2.2" ry="1.6" fill="url(#gG)"/><ellipse cx="555.9" cy="117.8" rx="2.3" ry="1.5" fill="url(#gG)"/><ellipse cx="588.3" cy="111.1" rx="2.2" ry="1.5" fill="url(#gG)"/><ellipse cx="669.2" cy="116.5" rx="2.0" ry="1.3" fill="url(#gG)"/><ellipse cx="587.1" cy="112.6" rx="2.6" ry="1.8" fill="url(#gG)"/><ellipse cx="624.1" cy="109.3" rx="2.6" ry="2.2" fill="url(#gG)"/><ellipse cx="650.7" cy="115.8" rx="1.5" ry="1.1" fill="url(#gG)"/><ellipse cx="557.7" cy="115.7" rx="1.4" ry="1.0" fill="url(#gG)"/><ellipse cx="573.9" cy="117.4" rx="2.3" ry="1.7" fill="url(#gG)"/><ellipse cx="669.7" cy="114.0" rx="1.5" ry="1.1" fill="url(#gG)"/><ellipse cx="649.8" cy="109.5" rx="2.3" ry="1.9" fill="url(#gG)"/><ellipse cx="649.0" cy="111.8" rx="1.4" ry="0.9" fill="url(#gG)"/><ellipse cx="639.9" cy="113.4" rx="2.3" ry="1.6" fill="url(#gG)"/><ellipse cx="586.6" cy="110.6" rx="2.4" ry="2.1" fill="url(#gG)"/><ellipse cx="571.6" cy="115.6" rx="1.4" ry="1.1" fill="url(#gG)"/><ellipse cx="583.9" cy="115.9" rx="2.2" ry="1.9" fill="url(#gG)"/><ellipse cx="576.7" cy="109.0" rx="2.1" ry="1.8" fill="url(#gG)"/><ellipse cx="554.1" cy="118.0" rx="2.5" ry="1.3" fill="url(#gG)"/><ellipse cx="615.4" cy="114.8" rx="2.5" ry="2.1" fill="url(#gG)"/><ellipse cx="615.0" cy="116.0" rx="1.9" ry="1.3" fill="url(#gG)"/><ellipse cx="618.8" cy="112.5" rx="1.7" ry="1.3" fill="url(#gG)"/><ellipse cx="579.6" cy="111.6" rx="2.3" ry="2.1" fill="url(#gG)"/><ellipse cx="607.9" cy="116.7" rx="1.5" ry="1.2" fill="url(#gG)"/><ellipse cx="642.5" cy="116.1" rx="1.8" ry="1.3" fill="url(#gG)"/><ellipse cx="668.5" cy="116.0" rx="2.1" ry="1.6" fill="url(#gG)"/><ellipse cx="566.6" cy="114.1" rx="1.8" ry="1.7" fill="url(#gG)"/><ellipse cx="632.7" cy="115.8" rx="2.0" ry="1.8" fill="url(#gG)"/><ellipse cx="569.1" cy="118.2" rx="2.1" ry="1.1" fill="url(#gG)"/><ellipse cx="575.8" cy="109.4" rx="2.2" ry="1.9" fill="url(#gG)"/><ellipse cx="633.1" cy="111.0" rx="1.9" ry="1.7" fill="url(#gG)"/><ellipse cx="630.0" cy="117.3" rx="1.4" ry="1.2" fill="url(#gG)"/><ellipse cx="554.6" cy="117.1" rx="2.0" ry="1.3" fill="url(#gG)"/><ellipse cx="603.4" cy="115.0" rx="2.4" ry="1.6" fill="url(#gG)"/><ellipse cx="614.3" cy="116.2" rx="1.5" ry="1.3" fill="url(#gG)"/><ellipse cx="665.8" cy="113.1" rx="1.6" ry="1.1" fill="url(#gG)"/><ellipse cx="579.4" cy="112.6" rx="2.2" ry="2.1" fill="url(#gG)"/><ellipse cx="620.1" cy="117.7" rx="1.9" ry="1.6" fill="url(#gG)"/><ellipse cx="553.0" cy="116.9" rx="1.3" ry="0.9" fill="url(#gG)"/><ellipse cx="650.2" cy="109.7" rx="1.7" ry="1.4" fill="url(#gG)"/><ellipse cx="616.1" cy="108.9" rx="1.4" ry="1.2" fill="url(#gG)"/><ellipse cx="601.7" cy="109.4" rx="1.9" ry="1.5" fill="url(#gG)"/><ellipse cx="673.1" cy="115.6" rx="1.5" ry="1.0" fill="url(#gG)"/><ellipse cx="619.3" cy="117.8" rx="2.3" ry="1.5" fill="url(#gG)"/><ellipse cx="617.9" cy="112.0" rx="2.6" ry="2.2" fill="url(#gG)"/><ellipse cx="625.6" cy="111.0" rx="1.9" ry="1.5" fill="url(#gG)"/><ellipse cx="598.5" cy="114.0" rx="1.4" ry="1.1" fill="url(#gG)"/><ellipse cx="671.6" cy="116.1" rx="2.0" ry="1.7" fill="url(#gG)"/><ellipse cx="650.6" cy="115.7" rx="1.8" ry="1.6" fill="url(#gG)"/><ellipse cx="577.0" cy="114.5" rx="1.3" ry="0.9" fill="url(#gG)"/><ellipse cx="574.0" cy="112.0" rx="2.3" ry="1.5" fill="url(#gG)"/><ellipse cx="658.3" cy="109.4" rx="2.5" ry="2.4" fill="url(#gG)"/><ellipse cx="626.9" cy="116.7" rx="2.5" ry="2.0" fill="url(#gG)"/><ellipse cx="655.9" cy="108.9" rx="2.3" ry="2.0" fill="url(#gG)"/><ellipse cx="646.3" cy="110.0" rx="1.4" ry="1.1" fill="url(#gG)"/><ellipse cx="625.9" cy="115.2" rx="1.5" ry="1.3" fill="url(#gG)"/><ellipse cx="669.5" cy="114.3" rx="2.4" ry="2.2" fill="url(#gG)"/><ellipse cx="633.9" cy="112.8" rx="1.8" ry="1.5" fill="url(#gG)"/><ellipse cx="568.0" cy="109.3" rx="1.7" ry="1.2" fill="url(#gG)"/><ellipse cx="661.1" cy="112.1" rx="2.4" ry="2.0" fill="url(#gG)"/><ellipse cx="660.9" cy="117.2" rx="2.2" ry="1.7" fill="url(#gG)"/><ellipse cx="582.3" cy="114.0" rx="1.7" ry="1.5" fill="url(#gG)"/><ellipse cx="558.1" cy="116.1" rx="1.7" ry="1.4" fill="url(#gG)"/><ellipse cx="618.2" cy="118.0" rx="2.6" ry="1.3" fill="url(#gG)"/><ellipse cx="668.1" cy="118.2" rx="2.0" ry="1.1" fill="url(#gG)"/><ellipse cx="576.7" cy="116.2" rx="1.9" ry="1.7" fill="url(#gG)"/><ellipse cx="663.8" cy="114.8" rx="2.2" ry="1.8" fill="url(#gG)"/><ellipse cx="568.8" cy="113.0" rx="1.4" ry="1.0" fill="url(#gG)"/><ellipse cx="670.9" cy="115.7" rx="1.5" ry="1.2" fill="url(#gG)"/><ellipse cx="560.2" cy="115.3" rx="1.6" ry="1.1" fill="url(#gG)"/><ellipse cx="629.6" cy="117.5" rx="1.3" ry="1.1" fill="url(#gG)"/><ellipse cx="623.0" cy="113.3" rx="1.8" ry="1.2" fill="url(#gG)"/><ellipse cx="595.3" cy="113.6" rx="1.7" ry="1.6" fill="url(#gG)"/><ellipse cx="593.9" cy="116.7" rx="2.4" ry="2.1" fill="url(#gG)"/><ellipse cx="612.1" cy="113.4" rx="2.4" ry="1.6" fill="url(#gG)"/><ellipse cx="580.0" cy="108.7" rx="1.9" ry="1.5" fill="url(#gG)"/><ellipse cx="667.9" cy="118.0" rx="1.8" ry="1.3" fill="url(#gG)"/><ellipse cx="565.6" cy="115.8" rx="2.0" ry="1.4" fill="url(#gG)"/><ellipse cx="658.4" cy="109.0" rx="1.6" ry="1.2" fill="url(#gG)"/><ellipse cx="672.8" cy="115.7" rx="1.6" ry="1.5" fill="url(#gG)"/><ellipse cx="593.4" cy="117.5" rx="1.3" ry="1.0" fill="url(#gG)"/><ellipse cx="590.2" cy="116.7" rx="1.4" ry="1.2" fill="url(#gG)"/><ellipse cx="659.6" cy="118.0" rx="2.3" ry="1.3" fill="url(#gG)"/><path d="M608.5,119.0 A2.6,2.0 0 0 1 613.8,119.0 Z" fill="#3a465a"/><rect x="581.0" y="103.6" width="2.4" height="14.4" rx="1.2" fill="url(#gC)"/><rect x="567.8" y="96.0" width="1.7" height="22.0" rx="0.8" fill="url(#gC)"/><rect x="663.1" y="102.1" width="2.4" height="15.9" rx="1.2" fill="url(#gC)"/><rect x="667.2" y="98.1" width="2.8" height="19.9" rx="1.4" fill="url(#gC)"/><rect x="582.8" y="104.4" width="1.5" height="13.6" rx="0.8" fill="url(#gC)"/><rect x="623.5" y="106.6" width="2.0" height="11.4" rx="1.0" fill="url(#gC)"/><rect x="615.8" y="105.0" width="1.7" height="13.0" rx="0.9" fill="url(#gC)"/><rect x="666.4" y="102.3" width="1.3" height="15.7" rx="0.6" fill="url(#gC)"/><rect x="568.6" y="101.5" width="2.4" height="16.5" rx="1.2" fill="url(#gC)"/><rect x="652.7" y="109.4" width="2.3" height="8.6" rx="1.1" fill="url(#gC)"/><rect x="621.6" y="109.6" width="2.2" height="8.4" rx="1.1" fill="url(#gC)"/><rect x="648.7" y="96.6" width="1.7" height="21.4" rx="0.9" fill="url(#gC)"/><rect x="663.1" y="108.8" width="1.3" height="9.2" rx="0.7" fill="url(#gC)"/><rect x="664.1" y="109.2" width="2.3" height="8.8" rx="1.1" fill="url(#gC)"/><rect x="624.8" y="103.9" width="2.4" height="14.1" rx="1.2" fill="url(#gC)"/><rect x="579.1" y="106.1" width="1.3" height="11.9" rx="0.7" fill="url(#gC)"/><rect x="606.6" y="103.4" width="1.4" height="14.6" rx="0.7" fill="url(#gC)"/><rect x="584.0" y="108.1" width="1.6" height="9.9" rx="0.8" fill="url(#gC)"/><rect x="626.1" y="107.3" width="2.4" height="10.7" rx="1.2" fill="url(#gC)"/><rect x="604.5" y="101.5" width="1.9" height="16.5" rx="1.0" fill="url(#gC)"/><rect x="594.7" y="108.3" width="2.4" height="9.7" rx="1.2" fill="url(#gC)"/><rect x="587.7" y="98.2" width="2.3" height="19.8" rx="1.2" fill="url(#gC)"/><rect x="552.8" y="106.6" width="2.3" height="11.4" rx="1.1" fill="url(#gC)"/><rect x="591.2" y="105.8" width="2.8" height="12.2" rx="1.4" fill="url(#gC)"/><rect x="590.4" y="107.7" width="2.4" height="10.3" rx="1.2" fill="url(#gC)"/><rect x="568.5" y="101.5" width="2.7" height="16.5" rx="1.3" fill="url(#gC)"/><rect x="585.1" y="102.9" width="1.8" height="15.1" rx="0.9" fill="url(#gC)"/><rect x="615.5" y="95.9" width="1.7" height="22.1" rx="0.8" fill="url(#gC)"/><rect x="627.7" y="105.4" width="2.3" height="12.6" rx="1.2" fill="url(#gC)"/><rect x="599.4" y="95.3" width="2.6" height="22.7" rx="1.3" fill="url(#gC)"/><rect x="568.2" y="94.2" width="0.7" height="23.8" fill="#cdb8a6"/><rect x="619.3" y="100.3" width="0.7" height="17.7" fill="#cdb8a6"/><rect x="580.0" y="100.3" width="0.7" height="17.7" fill="#cdb8a6"/><rect x="553.1" y="94.4" width="0.7" height="23.6" fill="#cdb8a6"/><rect x="668.3" y="104.6" width="0.7" height="13.4" fill="#cdb8a6"/><rect x="561.0" y="101.9" width="0.7" height="16.1" fill="#cdb8a6"/><rect x="613.7" y="100.5" width="0.7" height="17.5" fill="#cdb8a6"/><rect x="653.7" y="101.7" width="0.7" height="16.3" fill="#cdb8a6"/><rect x="665.7" y="102.2" width="0.7" height="15.8" fill="#cdb8a6"/><rect x="662.7" y="95.4" width="0.7" height="22.6" fill="#cdb8a6"/><rect x="651.5" y="97.8" width="0.7" height="20.2" fill="#cdb8a6"/><rect x="663.3" y="103.5" width="0.7" height="14.5" fill="#cdb8a6"/><rect x="668.8" y="103.1" width="0.7" height="14.9" fill="#cdb8a6"/><rect x="599.6" y="100.3" width="0.7" height="17.7" fill="#cdb8a6"/><rect x="646.7" y="94.7" width="0.7" height="23.3" fill="#cdb8a6"/><rect x="556.4" y="96.5" width="1.4" height="19.5" fill="url(#gC)"/><rect x="630.1" y="97.0" width="1.9" height="19.0" fill="url(#gC)"/><rect x="629.9" y="97.3" width="1.8" height="18.7" fill="url(#gC)"/><rect x="651.8" y="98.5" width="2.6" height="17.5" fill="url(#gC)"/><rect x="645.3" y="99.9" width="0.9" height="16.1" fill="#c9b6a6"/><rect x="670.9" y="100.6" width="1.7" height="15.4" fill="url(#gC)"/><rect x="665.9" y="101.9" width="1.7" height="14.1" fill="url(#gC)"/><rect x="616.4" y="102.4" width="2.8" height="13.6" fill="url(#gC)"/><rect x="645.5" y="103.8" width="2.3" height="12.2" fill="url(#gC)"/><rect x="586.6" y="103.8" width="1.9" height="12.2" fill="url(#gC)"/><rect x="642.2" y="104.2" width="2.1" height="11.8" fill="url(#gC)"/><rect x="624.5" y="104.6" width="2.3" height="11.4" fill="url(#gC)"/><rect x="610.3" y="104.6" width="2.0" height="11.4" fill="url(#gC)"/><rect x="564.5" y="105.8" width="0.6" height="10.2" fill="#c9b6a6"/><rect x="648.6" y="107.6" width="2.8" height="8.4" fill="url(#gC)"/><rect x="638.6" y="107.8" width="2.2" height="8.2" fill="url(#gC)"/><ellipse cx="608.3" cy="95.4" rx="1.7" ry="1.3" fill="url(#gM)"/><ellipse cx="627.6" cy="96.1" rx="2.2" ry="1.8" fill="url(#gM)"/><ellipse cx="621.6" cy="96.2" rx="2.6" ry="2.2" fill="url(#gM)"/><ellipse cx="557.1" cy="96.5" rx="1.8" ry="1.3" fill="url(#gM)"/><ellipse cx="631.1" cy="97.0" rx="2.6" ry="2.1" fill="url(#gM)"/><ellipse cx="630.8" cy="97.3" rx="2.0" ry="1.5" fill="url(#gM)"/><ellipse cx="569.3" cy="97.9" rx="1.6" ry="1.3" fill="url(#gM)"/><ellipse cx="653.1" cy="98.5" rx="1.7" ry="1.4" fill="url(#gM)"/><ellipse cx="647.9" cy="99.2" rx="1.4" ry="1.2" fill="url(#gM)"/><ellipse cx="616.3" cy="99.6" rx="1.4" ry="1.3" fill="url(#gM)"/><ellipse cx="605.0" cy="99.7" rx="2.3" ry="2.1" fill="url(#gM)"/><ellipse cx="660.8" cy="99.8" rx="2.0" ry="1.7" fill="url(#gM)"/><ellipse cx="622.3" cy="99.8" rx="2.5" ry="2.4" fill="url(#gM)"/><ellipse cx="645.8" cy="99.9" rx="2.2" ry="1.8" fill="url(#gM)"/><ellipse cx="640.3" cy="100.4" rx="1.4" ry="1.1" fill="url(#gM)"/><ellipse cx="669.5" cy="100.5" rx="2.2" ry="1.6" fill="url(#gM)"/><ellipse cx="601.3" cy="100.5" rx="2.4" ry="2.2" fill="url(#gM)"/><ellipse cx="671.8" cy="100.6" rx="1.9" ry="1.5" fill="url(#gM)"/><ellipse cx="606.7" cy="100.9" rx="2.0" ry="1.6" fill="url(#gM)"/><ellipse cx="666.7" cy="101.9" rx="1.9" ry="1.3" fill="url(#gM)"/><ellipse cx="617.7" cy="102.4" rx="2.3" ry="1.8" fill="url(#gM)"/><ellipse cx="562.0" cy="103.0" rx="1.4" ry="1.3" fill="url(#gM)"/><ellipse cx="672.0" cy="103.1" rx="1.8" ry="1.4" fill="url(#gM)"/><ellipse cx="581.2" cy="103.5" rx="1.4" ry="1.3" fill="url(#gM)"/><ellipse cx="646.6" cy="103.8" rx="2.2" ry="1.8" fill="url(#gM)"/><ellipse cx="587.6" cy="103.8" rx="2.5" ry="1.8" fill="url(#gM)"/><ellipse cx="620.8" cy="103.9" rx="2.0" ry="1.8" fill="url(#gM)"/><ellipse cx="581.2" cy="104.0" rx="2.2" ry="1.5" fill="url(#gM)"/><ellipse cx="643.3" cy="104.2" rx="2.4" ry="2.2" fill="url(#gM)"/><ellipse cx="625.6" cy="104.6" rx="1.9" ry="1.6" fill="url(#gM)"/><ellipse cx="611.3" cy="104.6" rx="2.3" ry="1.8" fill="url(#gM)"/><ellipse cx="620.4" cy="105.5" rx="2.0" ry="1.6" fill="url(#gM)"/><ellipse cx="564.8" cy="105.8" rx="2.3" ry="1.9" fill="url(#gM)"/><ellipse cx="626.2" cy="106.5" rx="2.5" ry="1.8" fill="url(#gM)"/><ellipse cx="573.6" cy="106.7" rx="2.2" ry="2.0" fill="url(#gM)"/><ellipse cx="586.0" cy="107.1" rx="1.7" ry="1.3" fill="url(#gM)"/><ellipse cx="590.3" cy="107.1" rx="1.4" ry="1.1" fill="url(#gM)"/><ellipse cx="643.7" cy="107.2" rx="1.8" ry="1.7" fill="url(#gM)"/><ellipse cx="650.0" cy="107.6" rx="1.8" ry="1.4" fill="url(#gM)"/><ellipse cx="639.7" cy="107.8" rx="2.0" ry="1.8" fill="url(#gM)"/><ellipse cx="652.7" cy="87.2" rx="2.0" ry="1.4" fill="url(#gB)"/><ellipse cx="594.3" cy="88.0" rx="2.6" ry="1.6" fill="url(#gB)"/><ellipse cx="671.4" cy="94.4" rx="2.2" ry="1.7" fill="url(#gB)"/><ellipse cx="589.2" cy="94.0" rx="2.6" ry="1.8" fill="url(#gB)"/><ellipse cx="613.0" cy="84.7" rx="1.8" ry="1.4" fill="url(#gB)"/><ellipse cx="630.0" cy="88.6" rx="2.3" ry="1.5" fill="url(#gB)"/><ellipse cx="553.9" cy="87.1" rx="2.2" ry="1.4" fill="url(#gB)"/><ellipse cx="618.1" cy="86.5" rx="1.8" ry="1.4" fill="url(#gB)"/><ellipse cx="596.5" cy="93.6" rx="2.4" ry="1.7" fill="url(#gB)"/><ellipse cx="557.3" cy="95.3" rx="2.2" ry="1.6" fill="url(#gB)"/><ellipse cx="635.2" cy="90.3" rx="2.7" ry="1.6" fill="url(#gB)"/><ellipse cx="669.0" cy="91.5" rx="2.0" ry="1.6" fill="url(#gB)"/><ellipse cx="660.2" cy="91.1" rx="1.4" ry="1.1" fill="url(#gB)"/><ellipse cx="602.6" cy="90.8" rx="2.6" ry="1.6" fill="url(#gB)"/><ellipse cx="654.2" cy="86.3" rx="1.8" ry="1.1" fill="url(#gB)"/><ellipse cx="566.2" cy="85.6" rx="2.1" ry="1.8" fill="url(#gB)"/><ellipse cx="574.0" cy="85.9" rx="1.9" ry="1.5" fill="url(#gB)"/><ellipse cx="595.7" cy="92.4" rx="1.6" ry="1.0" fill="url(#gB)"/><ellipse cx="622.6" cy="93.3" rx="1.6" ry="1.0" fill="url(#gB)"/><ellipse cx="633.2" cy="82.1" rx="2.7" ry="2.1" fill="url(#gB)"/><ellipse cx="572.6" cy="88.0" rx="1.5" ry="0.9" fill="url(#gB)"/><ellipse cx="595.4" cy="95.9" rx="2.7" ry="2.1" fill="url(#gB)"/><ellipse cx="629.5" cy="90.9" rx="2.1" ry="1.6" fill="url(#gB)"/><ellipse cx="612.7" cy="87.8" rx="2.6" ry="1.7" fill="url(#gB)"/><ellipse cx="601.9" cy="92.5" rx="2.7" ry="1.9" fill="url(#gB)"/><ellipse cx="605.1" cy="87.8" rx="1.7" ry="1.2" fill="url(#gB)"/><ellipse cx="647.6" cy="84.2" rx="2.1" ry="1.4" fill="url(#gB)"/><ellipse cx="622.4" cy="94.1" rx="1.6" ry="1.1" fill="url(#gB)"/><ellipse cx="575.9" cy="92.0" rx="2.3" ry="1.5" fill="url(#gB)"/><ellipse cx="581.0" cy="86.2" rx="1.9" ry="1.5" fill="url(#gB)"/><ellipse cx="657.7" cy="94.5" rx="2.0" ry="1.4" fill="url(#gB)"/><ellipse cx="577.5" cy="88.8" rx="2.7" ry="1.7" fill="url(#gB)"/><ellipse cx="600.5" cy="84.3" rx="2.6" ry="1.7" fill="url(#gB)"/><ellipse cx="611.6" cy="81.9" rx="2.4" ry="1.7" fill="url(#gB)"/><ellipse cx="649.0" cy="93.3" rx="2.4" ry="1.6" fill="url(#gB)"/><ellipse cx="583.4" cy="91.2" rx="1.5" ry="1.2" fill="url(#gB)"/><ellipse cx="639.4" cy="89.4" rx="1.9" ry="1.2" fill="url(#gB)"/><ellipse cx="619.6" cy="94.1" rx="1.6" ry="1.0" fill="url(#gB)"/><ellipse cx="635.2" cy="89.0" rx="2.5" ry="1.8" fill="url(#gB)"/><ellipse cx="670.6" cy="95.8" rx="1.8" ry="1.4" fill="url(#gB)"/><ellipse cx="623.5" cy="88.7" rx="2.5" ry="2.0" fill="url(#gB)"/><ellipse cx="651.1" cy="85.3" rx="2.1" ry="1.6" fill="url(#gB)"/><ellipse cx="623.1" cy="81.3" rx="2.5" ry="1.8" fill="url(#gB)"/><ellipse cx="572.4" cy="95.5" rx="2.2" ry="1.7" fill="url(#gB)"/><ellipse cx="641.7" cy="91.6" rx="2.7" ry="1.6" fill="url(#gB)"/><ellipse cx="593.2" cy="83.8" rx="2.3" ry="1.5" fill="url(#gB)"/><ellipse cx="556.9" cy="83.3" rx="1.6" ry="1.2" fill="url(#gB)"/><ellipse cx="607.8" cy="88.9" rx="1.4" ry="1.0" fill="url(#gB)"/><ellipse cx="583.7" cy="82.6" rx="1.5" ry="0.9" fill="url(#gB)"/><ellipse cx="601.3" cy="83.8" rx="2.0" ry="1.3" fill="url(#gB)"/><ellipse cx="641.1" cy="95.9" rx="1.9" ry="1.1" fill="url(#gB)"/><ellipse cx="668.5" cy="82.4" rx="2.3" ry="1.8" fill="url(#gB)"/><ellipse cx="611.1" cy="96.1" rx="1.6" ry="1.3" fill="url(#gB)"/><ellipse cx="661.6" cy="96.3" rx="2.6" ry="1.8" fill="url(#gB)"/><ellipse cx="614.5" cy="95.4" rx="1.9" ry="1.3" fill="url(#gB)"/><ellipse cx="557.2" cy="84.5" rx="1.6" ry="1.3" fill="url(#gB)"/><ellipse cx="590.3" cy="87.0" rx="2.8" ry="2.1" fill="url(#gB)"/><ellipse cx="605.2" cy="82.8" rx="1.9" ry="1.3" fill="url(#gB)"/><ellipse cx="666.6" cy="88.2" rx="2.8" ry="1.8" fill="url(#gB)"/><ellipse cx="559.2" cy="96.3" rx="1.5" ry="1.2" fill="url(#gB)"/><ellipse cx="624.5" cy="85.8" rx="2.6" ry="1.8" fill="url(#gB)"/><ellipse cx="670.7" cy="90.5" rx="2.7" ry="2.3" fill="url(#gB)"/><ellipse cx="598.3" cy="92.8" rx="2.4" ry="1.8" fill="url(#gB)"/><ellipse cx="556.3" cy="92.7" rx="2.5" ry="1.6" fill="url(#gB)"/><ellipse cx="564.8" cy="82.1" rx="2.2" ry="1.4" fill="url(#gB)"/><ellipse cx="654.6" cy="88.1" rx="2.8" ry="2.2" fill="url(#gB)"/><ellipse cx="604.6" cy="84.1" rx="2.0" ry="1.5" fill="url(#gB)"/><ellipse cx="656.2" cy="96.2" rx="1.9" ry="1.1" fill="url(#gB)"/><ellipse cx="632.7" cy="92.7" rx="2.3" ry="1.8" fill="url(#gB)"/><ellipse cx="650.3" cy="91.6" rx="2.6" ry="1.6" fill="url(#gB)"/><ellipse cx="666.3" cy="92.3" rx="1.5" ry="1.0" fill="url(#gB)"/><ellipse cx="629.9" cy="86.2" rx="2.7" ry="1.8" fill="url(#gB)"/><ellipse cx="611.4" cy="89.6" rx="2.7" ry="1.8" fill="url(#gB)"/><ellipse cx="659.8" cy="93.3" rx="2.2" ry="1.8" fill="url(#gB)"/><ellipse cx="658.8" cy="93.7" rx="2.2" ry="1.3" fill="url(#gB)"/>
<polygon points="50.0,127.5 170.4,127.5 153.2,134.0 67.2,134.0" fill="#0c1232"/><polygon points="66.0,162.2 152.6,162.2 171.6,168.4 48.6,168.4" fill="#5f6b7b"/>
<polygon points="174.6,127.5 296.8,127.5 279.6,134.0 191.8,134.0" fill="#0c1232"/><polygon points="190.6,162.2 279.0,162.2 298.0,168.4 173.2,168.4" fill="#5f6b7b"/>
<polygon points="301.0,127.5 422.4,127.5 405.2,134.0 318.2,134.0" fill="#0c1232"/><polygon points="312,160.5 412,160.5 424,168.4 300,168.4" fill="#aab7c8"/><ellipse cx="328.1" cy="164.8" rx="2.8" ry="1.3" fill="url(#gM)"/><ellipse cx="343.3" cy="163.4" rx="4.2" ry="2.0" fill="url(#gM)"/><ellipse cx="391.7" cy="163.7" rx="3.7" ry="1.8" fill="url(#gM)"/><ellipse cx="413.2" cy="164.5" rx="2.8" ry="1.3" fill="url(#gM)"/><ellipse cx="307.0" cy="162.1" rx="3.9" ry="1.5" fill="url(#gM)"/><ellipse cx="392.4" cy="164.9" rx="2.9" ry="1.4" fill="url(#gM)"/><ellipse cx="421.9" cy="164.8" rx="4.6" ry="2.1" fill="url(#gM)"/><ellipse cx="358.6" cy="165.6" rx="4.5" ry="2.0" fill="url(#gM)"/><ellipse cx="311.6" cy="163.4" rx="4.0" ry="1.6" fill="url(#gM)"/><ellipse cx="321.6" cy="163.8" rx="2.9" ry="1.2" fill="url(#gM)"/><ellipse cx="313.4" cy="165.1" rx="3.0" ry="1.5" fill="url(#gM)"/><ellipse cx="314.4" cy="164.7" rx="3.9" ry="1.5" fill="url(#gM)"/><ellipse cx="377.1" cy="164.2" rx="3.8" ry="1.4" fill="url(#gM)"/><ellipse cx="359.0" cy="165.7" rx="3.8" ry="1.5" fill="url(#gM)"/><ellipse cx="341.8" cy="165.9" rx="2.7" ry="1.1" fill="url(#gM)"/><ellipse cx="363.4" cy="163.7" rx="2.6" ry="1.0" fill="url(#gM)"/><ellipse cx="403.1" cy="163.8" rx="3.2" ry="1.3" fill="url(#gM)"/><ellipse cx="307.8" cy="161.9" rx="4.3" ry="2.0" fill="url(#gM)"/><ellipse cx="325.3" cy="163.1" rx="2.8" ry="1.1" fill="url(#gM)"/><ellipse cx="364.3" cy="165.3" rx="3.6" ry="1.7" fill="url(#gM)"/><ellipse cx="421.9" cy="164.3" rx="2.7" ry="1.0" fill="url(#gM)"/><ellipse cx="382.6" cy="162.2" rx="4.4" ry="1.6" fill="url(#gM)"/><ellipse cx="308.2" cy="166.5" rx="3.4" ry="1.5" fill="url(#gM)"/><ellipse cx="373.4" cy="162.1" rx="3.3" ry="1.3" fill="url(#gM)"/><ellipse cx="390.5" cy="165.4" rx="4.0" ry="1.5" fill="url(#gM)"/><ellipse cx="357.2" cy="166.1" rx="2.9" ry="1.2" fill="url(#gM)"/><ellipse cx="375.8" cy="166.5" rx="2.7" ry="1.2" fill="url(#gM)"/><ellipse cx="357.1" cy="164.1" rx="4.3" ry="1.6" fill="url(#gM)"/><ellipse cx="373.6" cy="163.1" rx="4.1" ry="1.9" fill="url(#gM)"/><ellipse cx="351.6" cy="162.3" rx="4.1" ry="1.9" fill="url(#gM)"/><ellipse cx="369.5" cy="165.2" rx="4.5" ry="1.7" fill="url(#gM)"/><ellipse cx="384.7" cy="165.5" rx="3.1" ry="1.5" fill="url(#gM)"/><ellipse cx="339.3" cy="166.3" rx="3.8" ry="1.9" fill="url(#gM)"/><ellipse cx="408.2" cy="165.4" rx="3.3" ry="1.4" fill="url(#gM)"/><ellipse cx="372.3" cy="165.5" rx="3.4" ry="1.7" fill="url(#gM)"/><ellipse cx="327.6" cy="164.1" rx="2.9" ry="1.1" fill="url(#gM)"/><ellipse cx="336.6" cy="161.7" rx="3.7" ry="1.7" fill="url(#gM)"/><ellipse cx="349.2" cy="165.5" rx="3.7" ry="1.7" fill="url(#gM)"/><ellipse cx="311.8" cy="163.1" rx="2.6" ry="1.0" fill="url(#gM)"/><ellipse cx="404.0" cy="162.2" rx="3.8" ry="1.5" fill="url(#gM)"/><ellipse cx="382.6" cy="165.9" rx="4.3" ry="2.1" fill="url(#gM)"/><ellipse cx="418.0" cy="163.5" rx="4.6" ry="2.1" fill="url(#gM)"/><ellipse cx="335.0" cy="163.1" rx="3.6" ry="1.7" fill="url(#gM)"/><ellipse cx="313.5" cy="166.0" rx="3.9" ry="1.7" fill="url(#gM)"/><ellipse cx="350.6" cy="163.4" rx="3.4" ry="1.6" fill="url(#gM)"/><ellipse cx="354.9" cy="165.1" rx="4.4" ry="1.6" fill="url(#gM)"/><ellipse cx="303.8" cy="166.2" rx="3.0" ry="1.4" fill="url(#gM)"/><ellipse cx="350.3" cy="162.6" rx="2.6" ry="1.1" fill="url(#gM)"/><ellipse cx="373.8" cy="161.8" rx="2.6" ry="1.0" fill="url(#gM)"/><ellipse cx="407.7" cy="165.3" rx="3.1" ry="1.3" fill="url(#gM)"/><ellipse cx="351.7" cy="165.0" rx="3.2" ry="1.3" fill="url(#gM)"/><ellipse cx="362.3" cy="162.7" rx="3.5" ry="1.6" fill="url(#gM)"/><ellipse cx="362.4" cy="161.8" rx="3.3" ry="1.4" fill="url(#gM)"/><ellipse cx="329.4" cy="163.4" rx="3.7" ry="1.5" fill="url(#gM)"/><ellipse cx="323.5" cy="165.9" rx="2.7" ry="1.3" fill="url(#gM)"/><ellipse cx="313.0" cy="164.3" rx="3.7" ry="1.5" fill="url(#gM)"/><ellipse cx="377.0" cy="165.9" rx="3.2" ry="1.2" fill="url(#gM)"/><ellipse cx="325.6" cy="165.9" rx="3.8" ry="1.8" fill="url(#gM)"/><ellipse cx="348.5" cy="163.1" rx="4.0" ry="1.7" fill="url(#gM)"/><ellipse cx="411.6" cy="162.3" rx="3.3" ry="1.5" fill="url(#gM)"/><ellipse cx="410.9" cy="163.8" rx="4.2" ry="1.5" fill="url(#gM)"/><ellipse cx="378.6" cy="163.1" rx="4.0" ry="1.6" fill="url(#gM)"/><ellipse cx="324.0" cy="162.8" rx="4.0" ry="1.8" fill="url(#gM)"/><ellipse cx="411.6" cy="163.6" rx="2.7" ry="1.3" fill="url(#gM)"/><ellipse cx="332.4" cy="165.1" rx="3.6" ry="1.5" fill="url(#gM)"/><ellipse cx="305.2" cy="162.6" rx="4.1" ry="1.7" fill="url(#gM)"/><ellipse cx="407.8" cy="165.5" rx="3.7" ry="1.8" fill="url(#gM)"/><ellipse cx="301.8" cy="163.5" rx="3.7" ry="1.3" fill="url(#gM)"/><ellipse cx="406.5" cy="162.2" rx="3.8" ry="1.5" fill="url(#gM)"/><ellipse cx="347.5" cy="163.8" rx="3.2" ry="1.2" fill="url(#gM)"/><ellipse cx="382.0" cy="164.6" rx="2.8" ry="1.4" fill="url(#gM)"/><ellipse cx="314.3" cy="162.6" rx="3.2" ry="1.3" fill="url(#gM)"/><ellipse cx="360.6" cy="166.0" rx="2.8" ry="1.2" fill="url(#gM)"/><ellipse cx="376.8" cy="162.8" rx="3.3" ry="1.4" fill="url(#gM)"/><ellipse cx="408.5" cy="165.4" rx="3.6" ry="1.3" fill="url(#gM)"/><ellipse cx="344.7" cy="165.6" rx="3.5" ry="1.4" fill="url(#gM)"/><ellipse cx="378.5" cy="161.7" rx="3.9" ry="1.8" fill="url(#gM)"/><ellipse cx="315.1" cy="163.6" rx="4.3" ry="1.7" fill="url(#gM)"/><ellipse cx="365.4" cy="163.2" rx="3.7" ry="1.5" fill="url(#gM)"/><ellipse cx="343.0" cy="166.1" rx="4.0" ry="2.0" fill="url(#gM)"/><path d="M301.8,168.4 A4.2,2.6 0 0 1 310.2,168.4 Z" fill="#45526a"/><path d="M314.2,168.4 A4.2,2.6 0 0 1 322.6,168.4 Z" fill="#45526a"/><path d="M326.6,168.4 A4.2,2.6 0 0 1 335.0,168.4 Z" fill="#45526a"/><path d="M339.0,168.4 A4.2,2.6 0 0 1 347.4,168.4 Z" fill="#45526a"/><path d="M351.4,168.4 A4.2,2.6 0 0 1 359.8,168.4 Z" fill="#45526a"/><path d="M363.8,168.4 A4.2,2.6 0 0 1 372.2,168.4 Z" fill="#45526a"/><path d="M376.2,168.4 A4.2,2.6 0 0 1 384.6,168.4 Z" fill="#45526a"/><path d="M388.6,168.4 A4.2,2.6 0 0 1 397.0,168.4 Z" fill="#45526a"/><path d="M401.0,168.4 A4.2,2.6 0 0 1 409.4,168.4 Z" fill="#45526a"/><path d="M413.4,168.4 A4.2,2.6 0 0 1 421.8,168.4 Z" fill="#45526a"/>
<polygon points="426.6,127.5 548.8,127.5 531.6,134.0 443.8,134.0" fill="#0c1232"/><polygon points="425.6,168.9 425.6,166.7 428.0,165.4 431.3,163.6 434.1,161.3 436.7,160.2 440.0,160.6 443.4,161.5 445.6,161.5 449.0,162.1 452.1,161.5 454.9,159.6 458.0,161.9 460.8,160.4 463.9,161.3 466.0,163.4 469.0,162.0 472.2,162.1 474.5,163.3 477.8,162.0 480.2,161.2 481.8,163.0 484.9,161.6 487.4,162.6 488.9,160.8 490.9,161.7 493.1,161.7 496.4,160.8 498.1,159.1 501.3,161.1 503.7,159.1 505.4,159.0 508.7,159.2 510.8,161.1 513.5,160.0 516.3,161.8 519.7,159.4 521.8,159.5 523.9,159.9 525.5,162.6 527.5,162.3 530.7,162.5 532.2,161.6 535.4,161.8 538.1,160.9 541.3,162.5 543.5,163.5 545.9,164.0 548.7,166.7 550.0,162.0 550.0,168.9" fill="#adb4be"/><ellipse cx="427.9" cy="166.7" rx="2.3" ry="1.6" fill="url(#gG)"/><ellipse cx="488.5" cy="165.7" rx="2.0" ry="1.5" fill="url(#gG)"/><ellipse cx="428.7" cy="167.5" rx="1.6" ry="1.3" fill="url(#gG)"/><ellipse cx="490.8" cy="166.0" rx="1.5" ry="1.4" fill="url(#gG)"/><ellipse cx="518.2" cy="167.1" rx="1.6" ry="1.4" fill="url(#gG)"/><ellipse cx="472.9" cy="165.8" rx="2.2" ry="1.7" fill="url(#gG)"/><ellipse cx="542.6" cy="165.1" rx="2.0" ry="1.7" fill="url(#gG)"/><ellipse cx="445.1" cy="167.3" rx="1.8" ry="1.6" fill="url(#gG)"/><ellipse cx="444.3" cy="161.5" rx="2.1" ry="1.5" fill="url(#gG)"/><ellipse cx="480.4" cy="162.1" rx="2.3" ry="2.0" fill="url(#gG)"/><ellipse cx="510.6" cy="161.6" rx="1.5" ry="1.2" fill="url(#gG)"/><ellipse cx="436.6" cy="166.0" rx="2.1" ry="1.9" fill="url(#gG)"/><ellipse cx="526.7" cy="165.5" rx="2.4" ry="1.9" fill="url(#gG)"/><ellipse cx="462.2" cy="161.0" rx="2.2" ry="1.9" fill="url(#gG)"/><ellipse cx="504.0" cy="164.4" rx="1.9" ry="1.8" fill="url(#gG)"/><ellipse cx="472.7" cy="161.6" rx="2.5" ry="2.2" fill="url(#gG)"/><ellipse cx="536.3" cy="168.0" rx="1.9" ry="1.2" fill="url(#gG)"/><ellipse cx="486.9" cy="164.3" rx="1.9" ry="1.7" fill="url(#gG)"/><ellipse cx="457.2" cy="167.9" rx="1.7" ry="1.2" fill="url(#gG)"/><ellipse cx="528.2" cy="162.3" rx="2.3" ry="1.7" fill="url(#gG)"/><ellipse cx="476.7" cy="164.1" rx="1.7" ry="1.5" fill="url(#gG)"/><ellipse cx="541.8" cy="167.8" rx="1.6" ry="1.0" fill="url(#gG)"/><ellipse cx="480.5" cy="166.1" rx="2.1" ry="1.9" fill="url(#gG)"/><ellipse cx="547.5" cy="167.5" rx="1.7" ry="1.3" fill="url(#gG)"/><ellipse cx="434.6" cy="164.3" rx="2.3" ry="1.7" fill="url(#gG)"/><ellipse cx="449.3" cy="164.6" rx="2.5" ry="2.1" fill="url(#gG)"/><ellipse cx="440.1" cy="163.8" rx="1.7" ry="1.5" fill="url(#gG)"/><ellipse cx="477.8" cy="163.9" rx="2.5" ry="1.8" fill="url(#gG)"/><ellipse cx="481.5" cy="168.0" rx="1.8" ry="1.2" fill="url(#gG)"/><ellipse cx="506.0" cy="163.1" rx="2.2" ry="1.7" fill="url(#gG)"/><ellipse cx="528.3" cy="164.8" rx="2.3" ry="1.9" fill="url(#gG)"/><ellipse cx="511.9" cy="163.5" rx="1.6" ry="1.2" fill="url(#gG)"/><ellipse cx="466.4" cy="160.7" rx="2.3" ry="1.9" fill="url(#gG)"/><ellipse cx="485.4" cy="165.9" rx="1.5" ry="1.0" fill="url(#gG)"/><ellipse cx="514.4" cy="160.9" rx="2.4" ry="2.0" fill="url(#gG)"/><ellipse cx="545.0" cy="167.8" rx="1.9" ry="1.4" fill="url(#gG)"/><ellipse cx="479.7" cy="166.4" rx="2.0" ry="1.7" fill="url(#gG)"/><ellipse cx="547.9" cy="167.8" rx="2.0" ry="1.4" fill="url(#gG)"/><ellipse cx="487.1" cy="164.9" rx="1.9" ry="1.8" fill="url(#gG)"/><ellipse cx="547.4" cy="167.1" rx="2.1" ry="1.4" fill="url(#gG)"/><ellipse cx="495.8" cy="167.6" rx="1.7" ry="1.5" fill="url(#gG)"/><ellipse cx="457.8" cy="165.9" rx="1.7" ry="1.4" fill="url(#gG)"/><ellipse cx="521.5" cy="160.8" rx="2.4" ry="1.9" fill="url(#gG)"/><ellipse cx="456.5" cy="162.9" rx="2.1" ry="1.8" fill="url(#gG)"/><ellipse cx="448.4" cy="161.1" rx="1.7" ry="1.4" fill="url(#gG)"/><ellipse cx="475.9" cy="166.3" rx="2.3" ry="1.7" fill="url(#gG)"/><ellipse cx="498.8" cy="161.7" rx="2.1" ry="1.8" fill="url(#gG)"/><ellipse cx="455.5" cy="165.6" rx="1.6" ry="1.5" fill="url(#gG)"/><ellipse cx="493.7" cy="167.5" rx="2.2" ry="1.6" fill="url(#gG)"/><ellipse cx="516.2" cy="165.2" rx="1.9" ry="1.6" fill="url(#gG)"/><ellipse cx="519.6" cy="165.7" rx="1.7" ry="1.6" fill="url(#gG)"/><ellipse cx="537.9" cy="163.8" rx="2.5" ry="2.4" fill="url(#gG)"/><ellipse cx="468.8" cy="162.0" rx="1.7" ry="1.3" fill="url(#gG)"/><ellipse cx="444.3" cy="162.3" rx="2.3" ry="1.5" fill="url(#gG)"/><ellipse cx="501.5" cy="163.6" rx="2.3" ry="1.6" fill="url(#gG)"/><ellipse cx="485.2" cy="162.2" rx="1.4" ry="1.3" fill="url(#gG)"/><ellipse cx="471.5" cy="162.8" rx="2.5" ry="1.9" fill="url(#gG)"/><ellipse cx="492.8" cy="161.6" rx="1.9" ry="1.7" fill="url(#gG)"/><ellipse cx="527.5" cy="166.7" rx="2.5" ry="1.8" fill="url(#gG)"/><ellipse cx="433.0" cy="163.3" rx="2.2" ry="1.8" fill="url(#gG)"/><ellipse cx="471.8" cy="165.9" rx="1.7" ry="1.4" fill="url(#gG)"/><ellipse cx="477.7" cy="161.6" rx="2.3" ry="1.6" fill="url(#gG)"/><ellipse cx="524.5" cy="166.3" rx="1.9" ry="1.5" fill="url(#gG)"/><ellipse cx="451.7" cy="161.6" rx="2.2" ry="1.7" fill="url(#gG)"/><ellipse cx="495.5" cy="163.3" rx="1.7" ry="1.2" fill="url(#gG)"/><ellipse cx="519.9" cy="163.8" rx="1.6" ry="1.4" fill="url(#gG)"/><ellipse cx="445.5" cy="162.3" rx="1.6" ry="1.3" fill="url(#gG)"/><ellipse cx="521.8" cy="160.8" rx="2.5" ry="2.2" fill="url(#gG)"/><ellipse cx="528.3" cy="163.7" rx="1.9" ry="1.3" fill="url(#gG)"/><ellipse cx="458.7" cy="167.1" rx="1.7" ry="1.6" fill="url(#gG)"/><path d="M524.0,168.9 A3.3,2.0 0 0 1 530.6,168.9 Z" fill="#3a465a"/><path d="M475.4,168.9 A3.2,2.1 0 0 1 481.9,168.9 Z" fill="#3a465a"/><path d="M455.2,168.9 A2.4,2.3 0 0 1 460.0,168.9 Z" fill="#3a465a"/><path d="M491.1,168.9 A2.6,2.1 0 0 1 496.3,168.9 Z" fill="#3a465a"/><path d="M501.0,168.9 A2.6,2.5 0 0 1 506.1,168.9 Z" fill="#3a465a"/><rect x="532.2" y="154.2" width="2.4" height="13.7" rx="1.2" fill="url(#gC)"/><rect x="495.4" y="153.9" width="2.1" height="14.0" rx="1.1" fill="url(#gC)"/><rect x="512.1" y="155.4" width="2.6" height="12.5" rx="1.3" fill="url(#gC)"/><rect x="455.4" y="161.3" width="2.9" height="6.6" rx="1.5" fill="url(#gC)"/><rect x="468.3" y="155.0" width="2.7" height="12.9" rx="1.3" fill="url(#gC)"/><rect x="482.2" y="155.7" width="2.6" height="12.2" rx="1.3" fill="url(#gC)"/><rect x="499.4" y="153.4" width="2.6" height="14.5" rx="1.3" fill="url(#gC)"/><rect x="440.0" y="154.3" width="2.3" height="13.6" rx="1.2" fill="url(#gC)"/><rect x="492.1" y="158.6" width="2.7" height="9.3" rx="1.3" fill="url(#gC)"/><rect x="533.6" y="159.9" width="2.7" height="8.0" rx="1.3" fill="url(#gC)"/><rect x="439.1" y="161.4" width="3.2" height="6.5" rx="1.6" fill="url(#gC)"/><rect x="497.4" y="158.0" width="3.1" height="9.9" rx="1.5" fill="url(#gC)"/><rect x="478.8" y="157.3" width="1.9" height="10.6" rx="0.9" fill="url(#gC)"/><rect x="512.4" y="161.0" width="3.0" height="6.9" rx="1.5" fill="url(#gC)"/><rect x="488.4" y="156.3" width="3.3" height="11.6" rx="1.7" fill="url(#gC)"/><rect x="427.7" y="157.9" width="2.4" height="10.0" rx="1.2" fill="url(#gC)"/><rect x="520.2" y="153.2" width="2.0" height="14.7" rx="1.0" fill="url(#gC)"/><rect x="514.1" y="160.7" width="1.9" height="7.2" rx="1.0" fill="url(#gC)"/><rect x="495.0" y="157.7" width="1.8" height="10.2" rx="0.9" fill="url(#gC)"/><rect x="520.1" y="161.6" width="2.0" height="6.3" rx="1.0" fill="url(#gC)"/><rect x="432.6" y="158.4" width="1.9" height="9.5" rx="0.9" fill="url(#gC)"/><rect x="508.1" y="161.3" width="2.7" height="6.6" rx="1.3" fill="url(#gC)"/><rect x="450.4" y="157.8" width="1.7" height="10.1" rx="0.8" fill="url(#gC)"/><rect x="468.5" y="156.6" width="2.3" height="11.3" rx="1.2" fill="url(#gC)"/><rect x="533.5" y="159.2" width="2.1" height="8.7" rx="1.1" fill="url(#gC)"/><rect x="495.0" y="161.2" width="2.1" height="6.7" rx="1.1" fill="url(#gC)"/><rect x="456.8" y="154.7" width="2.1" height="13.2" rx="1.1" fill="url(#gC)"/><rect x="511.0" y="156.3" width="2.8" height="11.6" rx="1.4" fill="url(#gC)"/><rect x="439.7" y="156.0" width="2.7" height="11.9" rx="1.3" fill="url(#gC)"/><rect x="492.6" y="153.0" width="2.8" height="14.9" rx="1.4" fill="url(#gC)"/><rect x="461.2" y="145.2" width="1.4" height="20.8" fill="url(#gC)"/><rect x="465.4" y="145.9" width="1.2" height="20.1" fill="url(#gC)"/><rect x="474.5" y="145.9" width="0.8" height="20.1" fill="#c9b6a6"/><rect x="508.7" y="149.2" width="1.1" height="16.8" fill="url(#gC)"/><rect x="437.3" y="149.2" width="1.4" height="16.8" fill="url(#gC)"/><rect x="480.0" y="150.6" width="1.1" height="15.4" fill="url(#gC)"/><rect x="448.3" y="151.4" width="1.7" height="14.6" fill="url(#gC)"/><rect x="429.9" y="152.2" width="1.7" height="13.8" fill="url(#gC)"/><rect x="457.9" y="152.4" width="1.1" height="13.6" fill="url(#gC)"/><rect x="428.3" y="153.6" width="0.8" height="12.4" fill="#c9b6a6"/><rect x="478.4" y="155.7" width="2.7" height="10.3" fill="url(#gC)"/><rect x="478.5" y="157.6" width="1.9" height="8.4" fill="url(#gC)"/><rect x="492.4" y="157.9" width="2.2" height="8.1" fill="url(#gC)"/><rect x="544.2" y="157.9" width="1.4" height="8.1" fill="url(#gC)"/><rect x="431.9" y="158.0" width="2.4" height="8.0" fill="url(#gC)"/><rect x="434.6" y="158.8" width="2.2" height="7.2" fill="url(#gC)"/><rect x="483.0" y="158.9" width="2.4" height="7.1" fill="url(#gC)"/><rect x="482.3" y="159.8" width="1.3" height="6.2" fill="url(#gC)"/><rect x="538.7" y="160.5" width="2.2" height="5.5" fill="url(#gC)"/><ellipse cx="463.9" cy="144.5" rx="3.2" ry="2.3" fill="url(#gM2)"/><ellipse cx="454.6" cy="145.1" rx="4.6" ry="2.8" fill="url(#gM2)"/><ellipse cx="461.9" cy="145.2" rx="3.7" ry="2.5" fill="url(#gM2)"/><ellipse cx="436.3" cy="145.4" rx="3.3" ry="2.3" fill="url(#gM2)"/><ellipse cx="466.0" cy="145.9" rx="3.3" ry="2.0" fill="url(#gM2)"/><ellipse cx="474.9" cy="145.9" rx="3.4" ry="2.4" fill="url(#gM2)"/><ellipse cx="542.8" cy="146.0" rx="4.4" ry="2.7" fill="url(#gM2)"/><ellipse cx="455.6" cy="146.1" rx="3.9" ry="2.4" fill="url(#gM2)"/><ellipse cx="458.9" cy="146.7" rx="4.0" ry="2.9" fill="url(#gM2)"/><ellipse cx="481.5" cy="147.3" rx="3.4" ry="2.5" fill="url(#gM2)"/><ellipse cx="469.9" cy="147.6" rx="3.3" ry="2.0" fill="url(#gM2)"/><ellipse cx="459.3" cy="147.7" rx="3.9" ry="2.5" fill="url(#gM2)"/><ellipse cx="430.4" cy="147.9" rx="4.4" ry="3.1" fill="url(#gM2)"/><ellipse cx="493.7" cy="148.9" rx="4.2" ry="2.7" fill="url(#gM2)"/><ellipse cx="509.3" cy="149.2" rx="3.2" ry="2.0" fill="url(#gM2)"/><ellipse cx="438.0" cy="149.2" rx="3.6" ry="2.4" fill="url(#gM2)"/><ellipse cx="461.6" cy="149.4" rx="3.6" ry="2.4" fill="url(#gM2)"/><ellipse cx="480.6" cy="150.6" rx="4.5" ry="3.2" fill="url(#gM2)"/><ellipse cx="508.9" cy="150.8" rx="4.1" ry="2.7" fill="url(#gM2)"/><ellipse cx="428.1" cy="150.9" rx="4.4" ry="2.7" fill="url(#gM2)"/><ellipse cx="520.4" cy="151.1" rx="4.4" ry="2.9" fill="url(#gM2)"/><ellipse cx="462.2" cy="151.3" rx="4.0" ry="2.8" fill="url(#gM2)"/><ellipse cx="449.1" cy="151.4" rx="3.7" ry="2.4" fill="url(#gM2)"/><ellipse cx="454.5" cy="151.5" rx="4.3" ry="2.8" fill="url(#gM2)"/><ellipse cx="509.3" cy="151.7" rx="3.5" ry="2.5" fill="url(#gM2)"/><ellipse cx="430.7" cy="152.2" rx="4.0" ry="2.7" fill="url(#gM2)"/><ellipse cx="432.2" cy="152.3" rx="4.1" ry="2.7" fill="url(#gM2)"/><ellipse cx="458.4" cy="152.4" rx="3.9" ry="2.4" fill="url(#gM2)"/><ellipse cx="507.8" cy="152.5" rx="3.8" ry="2.6" fill="url(#gM2)"/><ellipse cx="434.6" cy="152.8" rx="4.3" ry="2.6" fill="url(#gM2)"/><ellipse cx="473.7" cy="152.9" rx="3.5" ry="2.3" fill="url(#gM2)"/><ellipse cx="545.0" cy="153.2" rx="3.9" ry="2.6" fill="url(#gM2)"/><ellipse cx="481.9" cy="153.5" rx="4.6" ry="3.0" fill="url(#gM2)"/><ellipse cx="428.7" cy="153.6" rx="3.0" ry="2.1" fill="url(#gM2)"/><ellipse cx="431.4" cy="153.9" rx="4.5" ry="3.2" fill="url(#gM2)"/><ellipse cx="520.4" cy="154.0" rx="4.5" ry="3.0" fill="url(#gM2)"/><ellipse cx="465.1" cy="154.1" rx="3.7" ry="2.3" fill="url(#gM2)"/><ellipse cx="490.0" cy="154.4" rx="4.3" ry="2.8" fill="url(#gM2)"/><ellipse cx="498.5" cy="154.5" rx="3.1" ry="1.9" fill="url(#gM2)"/><ellipse cx="460.0" cy="154.7" rx="4.4" ry="2.7" fill="url(#gM2)"/><ellipse cx="468.3" cy="155.2" rx="4.2" ry="2.9" fill="url(#gM2)"/><ellipse cx="486.5" cy="155.4" rx="4.5" ry="3.0" fill="url(#gM2)"/><ellipse cx="479.7" cy="155.7" rx="4.3" ry="3.2" fill="url(#gM2)"/><ellipse cx="506.9" cy="156.2" rx="3.3" ry="2.1" fill="url(#gM2)"/><ellipse cx="441.4" cy="157.0" rx="3.7" ry="2.6" fill="url(#gM2)"/><ellipse cx="477.4" cy="157.5" rx="3.3" ry="2.1" fill="url(#gM2)"/><ellipse cx="479.4" cy="157.6" rx="4.1" ry="2.5" fill="url(#gM2)"/><ellipse cx="493.5" cy="157.9" rx="3.8" ry="2.6" fill="url(#gM2)"/><ellipse cx="544.9" cy="157.9" rx="3.9" ry="2.5" fill="url(#gM2)"/><ellipse cx="433.1" cy="158.0" rx="4.4" ry="2.7" fill="url(#gM2)"/><ellipse cx="453.6" cy="158.3" rx="4.6" ry="3.3" fill="url(#gM2)"/><ellipse cx="435.7" cy="158.8" rx="4.1" ry="2.6" fill="url(#gM2)"/><ellipse cx="484.2" cy="158.9" rx="3.2" ry="2.2" fill="url(#gM2)"/><ellipse cx="531.0" cy="158.9" rx="4.1" ry="2.5" fill="url(#gM2)"/><ellipse cx="453.5" cy="159.0" rx="3.6" ry="2.2" fill="url(#gM2)"/><ellipse cx="459.9" cy="159.2" rx="3.9" ry="2.6" fill="url(#gM2)"/><ellipse cx="459.1" cy="159.3" rx="4.3" ry="2.9" fill="url(#gM2)"/><ellipse cx="455.7" cy="159.4" rx="4.3" ry="3.2" fill="url(#gM2)"/><ellipse cx="520.5" cy="159.6" rx="3.3" ry="2.2" fill="url(#gM2)"/><ellipse cx="430.6" cy="159.7" rx="3.8" ry="2.5" fill="url(#gM2)"/><ellipse cx="488.7" cy="159.8" rx="4.1" ry="2.8" fill="url(#gM2)"/><ellipse cx="482.9" cy="159.8" rx="3.8" ry="2.6" fill="url(#gM2)"/><ellipse cx="457.9" cy="159.9" rx="3.1" ry="2.0" fill="url(#gM2)"/><ellipse cx="500.7" cy="160.2" rx="4.6" ry="3.1" fill="url(#gM2)"/><ellipse cx="469.9" cy="160.3" rx="4.4" ry="2.9" fill="url(#gM2)"/><ellipse cx="543.0" cy="160.4" rx="3.4" ry="2.6" fill="url(#gM2)"/><ellipse cx="542.4" cy="160.5" rx="4.6" ry="3.4" fill="url(#gM2)"/><ellipse cx="539.8" cy="160.5" rx="3.6" ry="2.4" fill="url(#gM2)"/><ellipse cx="500.1" cy="160.5" rx="4.2" ry="3.1" fill="url(#gM2)"/><ellipse cx="499.8" cy="161.0" rx="3.5" ry="2.4" fill="url(#gM2)"/>
<polygon points="552.5,125.3 673.7,125.3 673.7,125.3 668.7,128.0 663.6,129.8 658.6,130.3 653.5,130.7 648.5,131.2 643.4,131.5 638.4,131.8 633.3,132.1 628.2,132.3 623.2,132.4 618.2,132.5 613.1,132.5 608.1,132.5 603.0,132.4 598.0,132.3 592.9,132.1 587.9,131.8 582.8,131.5 577.8,131.2 572.7,130.7 567.6,130.3 562.6,129.8 557.5,128.0 552.5,125.3" fill="#0c1232"/><ellipse cx="642.6" cy="128.3" rx="3.0" ry="1.4" fill="url(#gD)"/><ellipse cx="646.5" cy="128.6" rx="3.2" ry="1.5" fill="url(#gD)"/><ellipse cx="612.5" cy="131.4" rx="3.0" ry="1.7" fill="url(#gD)"/><ellipse cx="644.0" cy="130.0" rx="3.6" ry="1.7" fill="url(#gD)"/><ellipse cx="633.9" cy="129.5" rx="4.1" ry="2.2" fill="url(#gD)"/><ellipse cx="595.8" cy="131.4" rx="3.6" ry="1.8" fill="url(#gD)"/><ellipse cx="631.0" cy="126.9" rx="2.9" ry="1.7" fill="url(#gD)"/><ellipse cx="608.7" cy="130.8" rx="2.9" ry="1.5" fill="url(#gD)"/><ellipse cx="581.8" cy="130.8" rx="3.6" ry="1.8" fill="url(#gD)"/><ellipse cx="599.3" cy="127.3" rx="2.9" ry="1.6" fill="url(#gD)"/><ellipse cx="590.7" cy="126.6" rx="3.2" ry="1.7" fill="url(#gD)"/><ellipse cx="671.3" cy="128.3" rx="3.2" ry="1.9" fill="url(#gD)"/><ellipse cx="639.5" cy="128.8" rx="3.2" ry="1.6" fill="url(#gD)"/><ellipse cx="571.7" cy="128.8" rx="3.6" ry="1.7" fill="url(#gD)"/><ellipse cx="610.3" cy="127.0" rx="3.6" ry="1.8" fill="url(#gD)"/><ellipse cx="632.9" cy="130.7" rx="3.2" ry="1.6" fill="url(#gD)"/><ellipse cx="562.9" cy="127.3" rx="3.6" ry="2.1" fill="url(#gD)"/><ellipse cx="570.0" cy="131.9" rx="4.1" ry="2.1" fill="url(#gD)"/><ellipse cx="617.8" cy="130.0" rx="3.1" ry="1.6" fill="url(#gD)"/><ellipse cx="639.5" cy="128.9" rx="3.3" ry="1.8" fill="url(#gD)"/><ellipse cx="567.4" cy="128.8" rx="3.1" ry="1.5" fill="url(#gD)"/><ellipse cx="616.0" cy="130.2" rx="3.4" ry="1.8" fill="url(#gD)"/><polygon points="552.0,168.9 552.0,167.0 554.3,166.4 556.3,163.2 558.9,163.7 561.2,161.4 563.4,159.6 566.4,162.5 568.5,161.1 570.9,159.1 573.9,161.0 577.4,162.8 580.7,159.7 582.4,162.3 584.1,161.7 586.0,161.8 587.6,158.9 590.8,160.9 593.2,163.0 596.3,159.6 599.2,160.3 601.6,160.0 603.6,159.9 605.6,159.4 608.9,160.3 611.5,162.3 614.3,159.2 617.7,162.9 620.9,160.0 624.1,161.5 625.6,160.3 628.5,161.0 631.9,162.2 635.1,163.1 637.3,162.7 638.8,162.2 640.5,160.8 642.9,158.8 645.6,162.2 647.6,159.6 650.6,161.0 652.2,159.9 655.5,159.8 657.6,160.6 660.9,162.3 663.2,161.6 664.7,159.8 667.0,163.3 668.7,162.5 672.0,164.9 673.6,165.8 674.2,161.6 674.2,168.9" fill="#adb4be"/><ellipse cx="587.4" cy="164.7" rx="2.2" ry="1.6" fill="url(#gG)"/><ellipse cx="614.9" cy="162.7" rx="2.1" ry="1.4" fill="url(#gG)"/><ellipse cx="628.0" cy="160.1" rx="2.5" ry="1.8" fill="url(#gG)"/><ellipse cx="619.6" cy="161.6" rx="1.9" ry="1.4" fill="url(#gG)"/><ellipse cx="630.0" cy="166.3" rx="2.4" ry="2.3" fill="url(#gG)"/><ellipse cx="607.7" cy="164.5" rx="1.8" ry="1.3" fill="url(#gG)"/><ellipse cx="614.1" cy="167.9" rx="1.5" ry="1.3" fill="url(#gG)"/><ellipse cx="591.8" cy="164.9" rx="1.7" ry="1.5" fill="url(#gG)"/><ellipse cx="612.6" cy="162.6" rx="1.9" ry="1.3" fill="url(#gG)"/><ellipse cx="564.8" cy="167.4" rx="1.5" ry="1.2" fill="url(#gG)"/><ellipse cx="633.5" cy="160.4" rx="2.5" ry="1.8" fill="url(#gG)"/><ellipse cx="668.7" cy="165.5" rx="2.1" ry="1.7" fill="url(#gG)"/><ellipse cx="563.7" cy="164.1" rx="2.3" ry="2.0" fill="url(#gG)"/><ellipse cx="641.3" cy="165.5" rx="1.6" ry="1.2" fill="url(#gG)"/><ellipse cx="614.2" cy="160.4" rx="2.3" ry="1.6" fill="url(#gG)"/><ellipse cx="620.8" cy="162.2" rx="1.6" ry="1.5" fill="url(#gG)"/><ellipse cx="627.6" cy="166.0" rx="2.1" ry="1.7" fill="url(#gG)"/><ellipse cx="657.9" cy="160.6" rx="1.9" ry="1.3" fill="url(#gG)"/><ellipse cx="624.7" cy="163.2" rx="2.5" ry="1.8" fill="url(#gG)"/><ellipse cx="585.4" cy="167.4" rx="2.3" ry="1.8" fill="url(#gG)"/><ellipse cx="597.9" cy="166.0" rx="1.6" ry="1.4" fill="url(#gG)"/><ellipse cx="580.3" cy="166.5" rx="1.5" ry="1.4" fill="url(#gG)"/><ellipse cx="656.6" cy="160.3" rx="1.6" ry="1.5" fill="url(#gG)"/><ellipse cx="651.5" cy="162.4" rx="2.4" ry="1.9" fill="url(#gG)"/><ellipse cx="582.7" cy="165.6" rx="1.9" ry="1.3" fill="url(#gG)"/><ellipse cx="655.3" cy="165.8" rx="1.7" ry="1.3" fill="url(#gG)"/><ellipse cx="635.1" cy="163.0" rx="1.7" ry="1.4" fill="url(#gG)"/><ellipse cx="667.3" cy="163.0" rx="1.7" ry="1.4" fill="url(#gG)"/><ellipse cx="671.4" cy="168.5" rx="1.4" ry="0.7" fill="url(#gG)"/><ellipse cx="569.6" cy="161.7" rx="1.6" ry="1.3" fill="url(#gG)"/><ellipse cx="672.4" cy="168.5" rx="1.8" ry="0.7" fill="url(#gG)"/><ellipse cx="635.8" cy="160.7" rx="2.5" ry="1.8" fill="url(#gG)"/><ellipse cx="670.6" cy="165.0" rx="2.5" ry="2.0" fill="url(#gG)"/><ellipse cx="614.9" cy="161.5" rx="2.0" ry="1.7" fill="url(#gG)"/><ellipse cx="619.9" cy="167.9" rx="2.0" ry="1.3" fill="url(#gG)"/><ellipse cx="569.1" cy="166.0" rx="2.1" ry="1.9" fill="url(#gG)"/><ellipse cx="593.4" cy="163.8" rx="2.4" ry="1.7" fill="url(#gG)"/><ellipse cx="597.7" cy="166.9" rx="2.2" ry="1.7" fill="url(#gG)"/><ellipse cx="554.9" cy="167.7" rx="1.9" ry="1.4" fill="url(#gG)"/><ellipse cx="599.4" cy="161.2" rx="2.4" ry="2.1" fill="url(#gG)"/><ellipse cx="669.1" cy="166.8" rx="1.6" ry="1.2" fill="url(#gG)"/><ellipse cx="672.7" cy="165.6" rx="1.8" ry="1.3" fill="url(#gG)"/><ellipse cx="573.5" cy="162.3" rx="2.1" ry="1.4" fill="url(#gG)"/><ellipse cx="657.2" cy="163.5" rx="1.6" ry="1.1" fill="url(#gG)"/><ellipse cx="616.1" cy="162.9" rx="2.0" ry="1.4" fill="url(#gG)"/><ellipse cx="595.7" cy="164.1" rx="1.5" ry="1.2" fill="url(#gG)"/><ellipse cx="654.0" cy="164.8" rx="1.6" ry="1.3" fill="url(#gG)"/><ellipse cx="563.0" cy="161.2" rx="1.4" ry="1.1" fill="url(#gG)"/><ellipse cx="574.3" cy="162.3" rx="1.5" ry="1.4" fill="url(#gG)"/><ellipse cx="570.5" cy="165.5" rx="2.4" ry="1.9" fill="url(#gG)"/><ellipse cx="623.0" cy="162.7" rx="2.4" ry="2.0" fill="url(#gG)"/><ellipse cx="562.4" cy="165.9" rx="1.6" ry="1.2" fill="url(#gG)"/><ellipse cx="575.1" cy="164.0" rx="2.2" ry="1.9" fill="url(#gG)"/><ellipse cx="592.1" cy="160.5" rx="1.9" ry="1.8" fill="url(#gG)"/><ellipse cx="619.3" cy="165.0" rx="2.3" ry="2.0" fill="url(#gG)"/><ellipse cx="667.0" cy="168.0" rx="2.3" ry="1.2" fill="url(#gG)"/><ellipse cx="570.0" cy="162.2" rx="2.3" ry="1.9" fill="url(#gG)"/><ellipse cx="656.6" cy="166.3" rx="1.8" ry="1.3" fill="url(#gG)"/><ellipse cx="632.1" cy="161.0" rx="2.0" ry="1.5" fill="url(#gG)"/><ellipse cx="601.2" cy="165.3" rx="2.2" ry="1.8" fill="url(#gG)"/><ellipse cx="560.3" cy="167.5" rx="2.2" ry="1.7" fill="url(#gG)"/><ellipse cx="626.6" cy="165.3" rx="2.5" ry="2.2" fill="url(#gG)"/><ellipse cx="629.3" cy="160.4" rx="1.4" ry="1.2" fill="url(#gG)"/><ellipse cx="654.8" cy="163.2" rx="1.7" ry="1.3" fill="url(#gG)"/><ellipse cx="654.1" cy="166.1" rx="1.6" ry="1.1" fill="url(#gG)"/><ellipse cx="578.0" cy="166.1" rx="1.7" ry="1.6" fill="url(#gG)"/><ellipse cx="602.5" cy="161.6" rx="1.9" ry="1.3" fill="url(#gG)"/><ellipse cx="658.7" cy="160.2" rx="1.9" ry="1.5" fill="url(#gG)"/><ellipse cx="557.6" cy="164.4" rx="2.6" ry="2.3" fill="url(#gG)"/><ellipse cx="603.6" cy="167.1" rx="2.5" ry="2.1" fill="url(#gG)"/><ellipse cx="640.3" cy="164.6" rx="2.0" ry="1.7" fill="url(#gG)"/><ellipse cx="625.3" cy="167.9" rx="1.6" ry="1.3" fill="url(#gG)"/><ellipse cx="643.8" cy="163.6" rx="2.4" ry="1.8" fill="url(#gG)"/><ellipse cx="600.0" cy="164.7" rx="2.6" ry="1.9" fill="url(#gG)"/><ellipse cx="654.9" cy="165.3" rx="2.5" ry="1.9" fill="url(#gG)"/><ellipse cx="632.8" cy="167.2" rx="2.5" ry="2.0" fill="url(#gG)"/><ellipse cx="653.9" cy="165.2" rx="2.1" ry="1.5" fill="url(#gG)"/><ellipse cx="615.3" cy="167.9" rx="2.5" ry="1.3" fill="url(#gG)"/><ellipse cx="589.5" cy="162.0" rx="2.4" ry="1.7" fill="url(#gG)"/><ellipse cx="645.0" cy="161.6" rx="1.8" ry="1.7" fill="url(#gG)"/><ellipse cx="568.1" cy="164.7" rx="1.7" ry="1.5" fill="url(#gG)"/><ellipse cx="561.1" cy="165.9" rx="1.7" ry="1.6" fill="url(#gG)"/><ellipse cx="592.5" cy="165.4" rx="1.4" ry="1.3" fill="url(#gG)"/><ellipse cx="629.2" cy="167.4" rx="2.3" ry="1.5" fill="url(#gG)"/><ellipse cx="642.4" cy="163.1" rx="1.6" ry="1.5" fill="url(#gG)"/><ellipse cx="632.8" cy="162.9" rx="1.5" ry="1.3" fill="url(#gG)"/><ellipse cx="560.2" cy="163.3" rx="1.5" ry="1.0" fill="url(#gG)"/><ellipse cx="642.9" cy="162.2" rx="2.6" ry="1.9" fill="url(#gG)"/><ellipse cx="649.1" cy="166.0" rx="2.2" ry="1.8" fill="url(#gG)"/><ellipse cx="569.8" cy="166.7" rx="2.5" ry="2.0" fill="url(#gG)"/><ellipse cx="575.5" cy="160.8" rx="1.7" ry="1.6" fill="url(#gG)"/><ellipse cx="591.1" cy="162.3" rx="2.0" ry="1.3" fill="url(#gG)"/><ellipse cx="647.9" cy="166.3" rx="1.8" ry="1.2" fill="url(#gG)"/><ellipse cx="661.2" cy="166.6" rx="2.3" ry="1.7" fill="url(#gG)"/><ellipse cx="667.7" cy="166.3" rx="1.4" ry="1.4" fill="url(#gG)"/><ellipse cx="636.9" cy="161.5" rx="2.5" ry="2.0" fill="url(#gG)"/><ellipse cx="629.5" cy="160.3" rx="1.7" ry="1.5" fill="url(#gG)"/><ellipse cx="554.7" cy="165.7" rx="1.5" ry="1.2" fill="url(#gG)"/><ellipse cx="569.6" cy="166.4" rx="1.9" ry="1.7" fill="url(#gG)"/><ellipse cx="662.8" cy="167.9" rx="1.6" ry="1.2" fill="url(#gG)"/><path d="M644.5,168.9 A2.7,2.6 0 0 1 650.0,168.9 Z" fill="#3a465a"/><path d="M591.0,168.9 A3.0,2.1 0 0 1 597.1,168.9 Z" fill="#3a465a"/><rect x="638.8" y="156.2" width="2.3" height="11.7" rx="1.1" fill="url(#gC)"/><rect x="638.3" y="153.4" width="3.1" height="14.5" rx="1.6" fill="url(#gC)"/><rect x="572.7" y="159.7" width="2.1" height="8.2" rx="1.1" fill="url(#gC)"/><rect x="632.5" y="160.1" width="2.9" height="7.8" rx="1.5" fill="url(#gC)"/><rect x="579.8" y="152.0" width="2.6" height="15.9" rx="1.3" fill="url(#gC)"/><rect x="594.0" y="154.6" width="2.8" height="13.3" rx="1.4" fill="url(#gC)"/><rect x="647.5" y="156.4" width="2.1" height="11.5" rx="1.1" fill="url(#gC)"/><rect x="634.1" y="158.6" width="2.2" height="9.3" rx="1.1" fill="url(#gC)"/><rect x="600.2" y="153.1" width="1.9" height="14.8" rx="0.9" fill="url(#gC)"/><rect x="629.8" y="158.8" width="3.1" height="9.1" rx="1.6" fill="url(#gC)"/><rect x="655.3" y="159.8" width="2.9" height="8.1" rx="1.4" fill="url(#gC)"/><rect x="652.4" y="157.3" width="2.8" height="10.6" rx="1.4" fill="url(#gC)"/><rect x="571.3" y="152.9" width="2.2" height="15.0" rx="1.1" fill="url(#gC)"/><rect x="565.1" y="154.9" width="2.4" height="13.0" rx="1.2" fill="url(#gC)"/><rect x="619.1" y="154.7" width="3.1" height="13.2" rx="1.6" fill="url(#gC)"/><rect x="658.9" y="153.9" width="3.1" height="14.0" rx="1.6" fill="url(#gC)"/><rect x="622.8" y="152.6" width="2.1" height="15.3" rx="1.1" fill="url(#gC)"/><rect x="578.4" y="152.1" width="2.1" height="15.8" rx="1.1" fill="url(#gC)"/><rect x="554.5" y="160.7" width="3.1" height="7.2" rx="1.5" fill="url(#gC)"/><rect x="655.8" y="152.2" width="1.9" height="15.7" rx="1.0" fill="url(#gC)"/><rect x="654.9" y="155.5" width="2.4" height="12.4" rx="1.2" fill="url(#gC)"/><rect x="635.9" y="155.3" width="2.6" height="12.6" rx="1.3" fill="url(#gC)"/><rect x="570.1" y="159.1" width="2.0" height="8.8" rx="1.0" fill="url(#gC)"/><rect x="660.9" y="154.2" width="1.9" height="13.7" rx="0.9" fill="url(#gC)"/><rect x="615.0" y="156.9" width="2.2" height="11.0" rx="1.1" fill="url(#gC)"/><rect x="612.2" y="153.2" width="2.2" height="14.7" rx="1.1" fill="url(#gC)"/><rect x="601.8" y="153.4" width="3.1" height="14.5" rx="1.5" fill="url(#gC)"/><rect x="616.1" y="157.7" width="3.1" height="10.2" rx="1.5" fill="url(#gC)"/><rect x="593.1" y="159.8" width="3.3" height="8.1" rx="1.6" fill="url(#gC)"/><rect x="671.7" y="156.8" width="2.3" height="11.1" rx="1.1" fill="url(#gC)"/><rect x="605.6" y="158.2" width="3.1" height="9.7" rx="1.6" fill="url(#gC)"/><rect x="617.8" y="160.9" width="2.6" height="7.0" rx="1.3" fill="url(#gC)"/><rect x="594.5" y="153.8" width="2.0" height="14.1" rx="1.0" fill="url(#gC)"/><rect x="581.3" y="161.8" width="2.0" height="6.1" rx="1.0" fill="url(#gC)"/><rect x="618.2" y="156.5" width="3.1" height="11.4" rx="1.5" fill="url(#gC)"/><rect x="592.6" y="149.3" width="0.7" height="16.7" fill="#c9b6a6"/><rect x="579.4" y="149.6" width="2.6" height="16.4" fill="url(#gC)"/><rect x="613.3" y="150.5" width="2.7" height="15.5" fill="url(#gC)"/><rect x="626.3" y="150.5" width="1.0" height="15.5" fill="#c9b6a6"/><rect x="664.6" y="150.5" width="2.8" height="15.5" fill="url(#gC)"/><rect x="570.1" y="150.6" width="1.7" height="15.4" fill="url(#gC)"/><rect x="607.6" y="151.3" width="1.1" height="14.7" fill="url(#gC)"/><rect x="644.5" y="152.4" width="1.7" height="13.6" fill="url(#gC)"/><rect x="609.8" y="153.3" width="2.1" height="12.7" fill="url(#gC)"/><rect x="598.1" y="153.6" width="1.7" height="12.4" fill="url(#gC)"/><rect x="670.8" y="154.7" width="2.1" height="11.3" fill="url(#gC)"/><rect x="618.6" y="155.2" width="1.6" height="10.8" fill="url(#gC)"/><rect x="645.5" y="155.4" width="2.4" height="10.6" fill="url(#gC)"/><rect x="639.5" y="155.9" width="0.8" height="10.1" fill="#c9b6a6"/><rect x="572.3" y="156.0" width="1.9" height="10.0" fill="url(#gC)"/><rect x="554.2" y="156.4" width="0.8" height="9.6" fill="#c9b6a6"/><rect x="615.2" y="156.9" width="1.2" height="9.1" fill="url(#gC)"/><rect x="612.2" y="157.3" width="1.1" height="8.7" fill="url(#gC)"/><rect x="566.4" y="157.8" width="2.2" height="8.2" fill="url(#gC)"/><rect x="601.4" y="158.0" width="1.2" height="8.0" fill="url(#gC)"/><rect x="559.9" y="158.6" width="1.2" height="7.4" fill="url(#gC)"/><rect x="609.3" y="158.6" width="1.0" height="7.4" fill="#c9b6a6"/><rect x="579.6" y="159.1" width="2.2" height="6.9" fill="url(#gC)"/><rect x="610.2" y="159.3" width="1.4" height="6.7" fill="url(#gC)"/><rect x="637.5" y="159.6" width="1.2" height="6.4" fill="url(#gC)"/><ellipse cx="579.1" cy="148.5" rx="3.3" ry="2.2" fill="url(#gM)"/><ellipse cx="612.0" cy="148.7" rx="3.7" ry="2.3" fill="url(#gM)"/><ellipse cx="588.4" cy="149.0" rx="2.5" ry="1.8" fill="url(#gM)"/><ellipse cx="593.0" cy="149.3" rx="3.7" ry="2.6" fill="url(#gM)"/><ellipse cx="580.7" cy="149.6" rx="3.0" ry="2.0" fill="url(#gM)"/><ellipse cx="610.0" cy="149.9" rx="2.2" ry="1.4" fill="url(#gM)"/><ellipse cx="603.5" cy="150.1" rx="2.3" ry="1.4" fill="url(#gM)"/><ellipse cx="626.1" cy="150.2" rx="3.0" ry="2.2" fill="url(#gM)"/><ellipse cx="614.7" cy="150.5" rx="3.7" ry="2.5" fill="url(#gM)"/><ellipse cx="626.8" cy="150.5" rx="3.0" ry="2.1" fill="url(#gM)"/><ellipse cx="666.0" cy="150.5" rx="2.5" ry="1.5" fill="url(#gM)"/><ellipse cx="645.0" cy="150.6" rx="2.6" ry="1.6" fill="url(#gM)"/><ellipse cx="570.9" cy="150.6" rx="2.7" ry="1.7" fill="url(#gM)"/><ellipse cx="570.9" cy="150.6" rx="2.6" ry="1.7" fill="url(#gM)"/><ellipse cx="615.6" cy="150.8" rx="3.6" ry="2.4" fill="url(#gM)"/><ellipse cx="586.1" cy="150.9" rx="2.7" ry="1.8" fill="url(#gM)"/><ellipse cx="608.1" cy="151.3" rx="2.8" ry="2.1" fill="url(#gM)"/><ellipse cx="663.9" cy="151.4" rx="2.6" ry="1.6" fill="url(#gM)"/><ellipse cx="617.2" cy="151.6" rx="3.1" ry="2.2" fill="url(#gM)"/><ellipse cx="604.5" cy="152.0" rx="2.3" ry="1.4" fill="url(#gM)"/><ellipse cx="558.2" cy="152.3" rx="3.0" ry="1.8" fill="url(#gM)"/><ellipse cx="645.3" cy="152.4" rx="3.2" ry="2.1" fill="url(#gM)"/><ellipse cx="668.5" cy="152.4" rx="2.7" ry="2.0" fill="url(#gM)"/><ellipse cx="606.8" cy="152.6" rx="2.5" ry="1.5" fill="url(#gM)"/><ellipse cx="630.1" cy="153.1" rx="3.6" ry="2.2" fill="url(#gM)"/><ellipse cx="589.8" cy="153.2" rx="2.8" ry="1.9" fill="url(#gM)"/><ellipse cx="610.9" cy="153.3" rx="3.5" ry="2.3" fill="url(#gM)"/><ellipse cx="655.1" cy="153.5" rx="3.5" ry="2.3" fill="url(#gM)"/><ellipse cx="599.0" cy="153.6" rx="2.2" ry="1.4" fill="url(#gM)"/><ellipse cx="664.7" cy="153.8" rx="2.9" ry="2.1" fill="url(#gM)"/><ellipse cx="577.9" cy="154.0" rx="2.7" ry="1.7" fill="url(#gM)"/><ellipse cx="655.7" cy="154.2" rx="2.2" ry="1.4" fill="url(#gM)"/><ellipse cx="671.8" cy="154.7" rx="2.5" ry="1.6" fill="url(#gM)"/><ellipse cx="643.7" cy="154.7" rx="2.9" ry="1.8" fill="url(#gM)"/><ellipse cx="660.6" cy="154.8" rx="3.8" ry="2.6" fill="url(#gM)"/><ellipse cx="619.5" cy="155.2" rx="3.3" ry="2.5" fill="url(#gM)"/><ellipse cx="646.7" cy="155.4" rx="3.2" ry="2.0" fill="url(#gM)"/><ellipse cx="659.1" cy="155.7" rx="2.7" ry="1.8" fill="url(#gM)"/><ellipse cx="640.0" cy="155.9" rx="3.3" ry="2.3" fill="url(#gM)"/><ellipse cx="573.3" cy="156.0" rx="3.7" ry="2.4" fill="url(#gM)"/><ellipse cx="582.1" cy="156.3" rx="2.6" ry="1.7" fill="url(#gM)"/><ellipse cx="554.6" cy="156.4" rx="2.3" ry="1.5" fill="url(#gM)"/><ellipse cx="666.8" cy="156.6" rx="2.8" ry="1.7" fill="url(#gM)"/><ellipse cx="601.2" cy="156.8" rx="3.3" ry="2.4" fill="url(#gM)"/><ellipse cx="615.8" cy="156.9" rx="3.7" ry="2.7" fill="url(#gM)"/><ellipse cx="612.8" cy="157.3" rx="3.4" ry="2.3" fill="url(#gM)"/><ellipse cx="602.0" cy="157.3" rx="3.6" ry="2.7" fill="url(#gM)"/><ellipse cx="567.5" cy="157.8" rx="3.4" ry="2.4" fill="url(#gM)"/><ellipse cx="571.5" cy="157.9" rx="3.3" ry="2.1" fill="url(#gM)"/><ellipse cx="602.0" cy="158.0" rx="2.4" ry="1.7" fill="url(#gM)"/><ellipse cx="594.7" cy="158.1" rx="2.9" ry="1.8" fill="url(#gM)"/><ellipse cx="563.0" cy="158.4" rx="2.7" ry="1.8" fill="url(#gM)"/><ellipse cx="622.1" cy="158.5" rx="2.7" ry="1.7" fill="url(#gM)"/><ellipse cx="560.5" cy="158.6" rx="2.2" ry="1.4" fill="url(#gM)"/><ellipse cx="609.8" cy="158.6" rx="3.6" ry="2.3" fill="url(#gM)"/><ellipse cx="580.7" cy="159.1" rx="2.6" ry="1.8" fill="url(#gM)"/><ellipse cx="652.6" cy="159.1" rx="2.9" ry="1.9" fill="url(#gM)"/><ellipse cx="584.4" cy="159.2" rx="3.2" ry="2.3" fill="url(#gM)"/><ellipse cx="610.9" cy="159.3" rx="3.2" ry="2.4" fill="url(#gM)"/><ellipse cx="638.1" cy="159.6" rx="2.5" ry="1.6" fill="url(#gM)"/><ellipse cx="622.0" cy="136.8" rx="2.9" ry="1.5" fill="url(#gB)"/><ellipse cx="660.3" cy="138.3" rx="3.6" ry="2.0" fill="url(#gB)"/><ellipse cx="589.1" cy="139.8" rx="2.6" ry="1.5" fill="url(#gB)"/><ellipse cx="667.5" cy="138.3" rx="2.7" ry="1.4" fill="url(#gB)"/><ellipse cx="647.1" cy="133.1" rx="3.3" ry="1.9" fill="url(#gB)"/><ellipse cx="634.0" cy="134.3" rx="3.8" ry="2.3" fill="url(#gB)"/><ellipse cx="609.3" cy="135.6" rx="3.8" ry="2.3" fill="url(#gB)"/><ellipse cx="635.4" cy="141.7" rx="3.9" ry="2.4" fill="url(#gB)"/><ellipse cx="583.3" cy="138.7" rx="3.0" ry="1.5" fill="url(#gB)"/><ellipse cx="594.2" cy="141.9" rx="3.1" ry="1.7" fill="url(#gB)"/><ellipse cx="664.0" cy="142.3" rx="3.9" ry="2.1" fill="url(#gB)"/><ellipse cx="651.6" cy="131.8" rx="2.6" ry="1.3" fill="url(#gB)"/><ellipse cx="593.4" cy="133.8" rx="4.1" ry="2.2" fill="url(#gB)"/><ellipse cx="655.0" cy="136.6" rx="3.2" ry="1.7" fill="url(#gB)"/><ellipse cx="559.2" cy="136.2" rx="4.2" ry="2.6" fill="url(#gB)"/><ellipse cx="664.6" cy="132.1" rx="3.4" ry="2.0" fill="url(#gB)"/><ellipse cx="571.9" cy="131.8" rx="2.9" ry="1.5" fill="url(#gB)"/><ellipse cx="641.7" cy="139.2" rx="4.3" ry="2.2" fill="url(#gB)"/><ellipse cx="637.3" cy="140.1" rx="2.9" ry="1.5" fill="url(#gB)"/><ellipse cx="670.3" cy="140.1" rx="2.7" ry="1.4" fill="url(#gB)"/><ellipse cx="632.0" cy="133.0" rx="3.3" ry="1.7" fill="url(#gB)"/><ellipse cx="564.4" cy="136.6" rx="3.5" ry="2.1" fill="url(#gB)"/><ellipse cx="554.0" cy="135.1" rx="2.7" ry="1.5" fill="url(#gB)"/><ellipse cx="573.2" cy="134.8" rx="4.2" ry="2.5" fill="url(#gB)"/><ellipse cx="633.2" cy="138.0" rx="2.9" ry="1.7" fill="url(#gB)"/><ellipse cx="669.2" cy="132.0" rx="4.0" ry="2.2" fill="url(#gB)"/><ellipse cx="577.5" cy="138.5" rx="4.0" ry="2.1" fill="url(#gB)"/><ellipse cx="577.0" cy="136.8" rx="2.9" ry="1.7" fill="url(#gB)"/><ellipse cx="671.5" cy="131.3" rx="3.3" ry="1.7" fill="url(#gB)"/><ellipse cx="573.4" cy="137.8" rx="4.2" ry="2.3" fill="url(#gB)"/><ellipse cx="620.1" cy="139.0" rx="4.1" ry="2.5" fill="url(#gB)"/><ellipse cx="593.2" cy="133.0" rx="4.2" ry="2.4" fill="url(#gB)"/><ellipse cx="658.7" cy="132.7" rx="3.9" ry="2.0" fill="url(#gB)"/><ellipse cx="569.2" cy="132.4" rx="3.2" ry="1.8" fill="url(#gB)"/><ellipse cx="631.9" cy="141.8" rx="3.3" ry="1.9" fill="url(#gB)"/><ellipse cx="602.5" cy="135.4" rx="3.1" ry="1.5" fill="url(#gB)"/><ellipse cx="584.0" cy="139.3" rx="4.0" ry="2.3" fill="url(#gB)"/><ellipse cx="606.1" cy="135.7" rx="2.9" ry="1.5" fill="url(#gB)"/><ellipse cx="672.4" cy="137.8" rx="3.3" ry="1.9" fill="url(#gB)"/><ellipse cx="612.2" cy="134.4" rx="3.3" ry="1.8" fill="url(#gB)"/><ellipse cx="660.6" cy="141.2" rx="3.1" ry="1.7" fill="url(#gB)"/><ellipse cx="580.0" cy="142.0" rx="2.8" ry="1.6" fill="url(#gB)"/><ellipse cx="554.9" cy="136.3" rx="3.4" ry="1.7" fill="url(#gB)"/><ellipse cx="571.6" cy="136.7" rx="3.4" ry="1.8" fill="url(#gB)"/><ellipse cx="559.9" cy="134.7" rx="3.2" ry="1.6" fill="url(#gB)"/><ellipse cx="625.0" cy="133.5" rx="3.5" ry="2.1" fill="url(#gB)"/><ellipse cx="555.2" cy="136.7" rx="3.7" ry="2.2" fill="url(#gB)"/><ellipse cx="635.8" cy="140.6" rx="3.7" ry="2.0" fill="url(#gB)"/><ellipse cx="650.5" cy="139.7" rx="3.4" ry="2.1" fill="url(#gB)"/><ellipse cx="559.3" cy="141.4" rx="3.2" ry="1.8" fill="url(#gB)"/><ellipse cx="648.5" cy="132.9" rx="3.4" ry="1.7" fill="url(#gB)"/><ellipse cx="557.8" cy="142.0" rx="3.0" ry="1.6" fill="url(#gB)"/><ellipse cx="567.9" cy="141.7" rx="3.5" ry="2.1" fill="url(#gB)"/><ellipse cx="585.9" cy="136.3" rx="3.0" ry="1.7" fill="url(#gB)"/><ellipse cx="637.8" cy="137.6" rx="3.6" ry="1.9" fill="url(#gB)"/><ellipse cx="667.0" cy="131.2" rx="2.9" ry="1.7" fill="url(#gB)"/><ellipse cx="669.5" cy="140.7" rx="3.0" ry="1.9" fill="url(#gB)"/><ellipse cx="607.9" cy="137.6" rx="3.7" ry="2.1" fill="url(#gB)"/><ellipse cx="658.3" cy="141.3" rx="3.1" ry="1.9" fill="url(#gB)"/><ellipse cx="591.1" cy="138.9" rx="2.9" ry="1.7" fill="url(#gB)"/><ellipse cx="589.3" cy="142.4" rx="3.7" ry="2.0" fill="url(#gB)"/><ellipse cx="668.2" cy="132.3" rx="3.9" ry="2.2" fill="url(#gB)"/><ellipse cx="555.5" cy="136.3" rx="2.8" ry="1.7" fill="url(#gB)"/><ellipse cx="565.4" cy="138.3" rx="3.5" ry="1.8" fill="url(#gB)"/><ellipse cx="664.9" cy="137.6" rx="3.7" ry="1.9" fill="url(#gB)"/><ellipse cx="571.8" cy="134.7" rx="2.7" ry="1.4" fill="url(#gB)"/><ellipse cx="612.6" cy="135.5" rx="3.9" ry="2.0" fill="url(#gB)"/><ellipse cx="578.1" cy="137.0" rx="3.8" ry="2.0" fill="url(#gB)"/><ellipse cx="578.1" cy="132.4" rx="3.2" ry="1.8" fill="url(#gB)"/><ellipse cx="648.5" cy="133.8" rx="3.2" ry="1.9" fill="url(#gB)"/><ellipse cx="578.2" cy="131.4" rx="4.3" ry="2.6" fill="url(#gB)"/><ellipse cx="591.2" cy="134.3" rx="3.4" ry="1.8" fill="url(#gB)"/><ellipse cx="647.3" cy="141.2" rx="3.8" ry="2.1" fill="url(#gB)"/><ellipse cx="653.6" cy="141.8" rx="2.9" ry="1.7" fill="url(#gB)"/><ellipse cx="574.1" cy="142.3" rx="4.0" ry="2.2" fill="url(#gB)"/><ellipse cx="641.8" cy="134.4" rx="2.7" ry="1.5" fill="url(#gB)"/><ellipse cx="562.5" cy="136.3" rx="4.0" ry="2.3" fill="url(#gB)"/><ellipse cx="585.2" cy="133.4" rx="3.5" ry="2.0" fill="url(#gB)"/><ellipse cx="661.2" cy="133.0" rx="3.4" ry="1.9" fill="url(#gB)"/><ellipse cx="598.4" cy="133.1" rx="3.3" ry="1.8" fill="url(#gB)"/><ellipse cx="576.6" cy="144.9" rx="3.0" ry="1.8" fill="url(#gB)"/><ellipse cx="611.0" cy="145.1" rx="2.5" ry="1.4" fill="url(#gB)"/><ellipse cx="594.5" cy="143.7" rx="3.0" ry="1.7" fill="url(#gB)"/><ellipse cx="595.4" cy="147.4" rx="3.1" ry="1.6" fill="url(#gB)"/><ellipse cx="559.4" cy="146.2" rx="3.1" ry="1.7" fill="url(#gB)"/><ellipse cx="580.8" cy="145.1" rx="3.2" ry="1.7" fill="url(#gB)"/>
<rect x="48.6" y="63.6" width="123.4" height="1.6" fill="#d3141a"/>
<rect x="173.2" y="63.6" width="125.2" height="1.6" fill="#d3141a"/>
<rect x="299.6" y="63.6" width="124.4" height="1.6" fill="#d3141a"/>
<rect x="425.2" y="63.6" width="125.2" height="1.6" fill="#d3141a"/>
<rect x="551.6" y="63.6" width="123.0" height="1.6" fill="#d3141a"/>
<rect x="48.6" y="118.2" width="123.4" height="1.6" fill="#d3141a"/>
<rect x="173.2" y="118.2" width="125.2" height="1.6" fill="#d3141a"/>
<rect x="299.6" y="118.2" width="124.4" height="1.6" fill="#d3141a"/>
<rect x="425.2" y="118.2" width="125.2" height="1.6" fill="#d3141a"/>
<rect x="551.6" y="118.2" width="123.0" height="1.6" fill="#d3141a"/>
<rect x="48.6" y="168.1" width="123.4" height="1.6" fill="#d3141a"/>
<rect x="173.2" y="168.1" width="125.2" height="1.6" fill="#d3141a"/>
<rect x="299.6" y="168.1" width="124.4" height="1.6" fill="#d3141a"/>
<rect x="425.2" y="168.1" width="125.2" height="1.6" fill="#d3141a"/>
<rect x="551.6" y="168.1" width="123.0" height="1.6" fill="#d3141a"/>
<rect x="56.5" y="172.2" width="51.5" height="5" fill="url(#cbar)"/>
<text x="49.6" y="176.8" style="font-family:'Liberation Serif',serif;font-style:italic;font-size:5px" fill="#222">T<tspan font-size="3.5" dy="0.8">c</tspan></text>
<text x="109.6" y="176.8" style="font-family:'Liberation Serif',serif;font-style:italic;font-size:5px" fill="#222">T<tspan font-size="3.5" dy="0.8">h</tspan></text>
<rect x="25" y="1" width="2" height="178.9" fill="#46525c"/>
<rect x="25" y="1" width="651" height="1.3" fill="#46525c"/>
<rect x="674.8" y="1" width="1.2" height="178.9" fill="#46525c"/>
<rect x="25" y="178.3" width="651" height="1.6" fill="#46525c"/>
<rect x="47.3" y="1" width="1.4" height="178" fill="#3a3f45"/>
<rect x="171.9" y="1" width="1.4" height="178" fill="#3a3f45"/>
<rect x="298.3" y="1" width="1.4" height="178" fill="#3a3f45"/>
<rect x="423.9" y="1" width="1.4" height="178" fill="#3a3f45"/>
<rect x="550.3" y="1" width="1.4" height="178" fill="#3a3f45"/>
<rect x="25" y="17.5" width="651" height="1.4" fill="#3a3f45"/>
<rect x="25" y="70.7" width="651" height="1.4" fill="#3a3f45"/>
<rect x="25" y="123.3" width="651" height="1.4" fill="#3a3f45"/>
<text x="83.1" y="14" style="font-family:'Liberation Serif',serif;font-size:10px" fill="#222" textLength="39.6" lengthAdjust="spacingAndGlyphs">T<tspan font-size="6" dy="-3.5">*</tspan><tspan dy="3.5"> = 19.2</tspan></text>
<text x="210.9" y="14" style="font-family:'Liberation Serif',serif;font-size:10px" fill="#222" textLength="39.6" lengthAdjust="spacingAndGlyphs">T<tspan font-size="6" dy="-3.5">*</tspan><tspan dy="3.5"> = 28.8</tspan></text>
<text x="339.2" y="14" style="font-family:'Liberation Serif',serif;font-size:10px" fill="#222" textLength="39.6" lengthAdjust="spacingAndGlyphs">T<tspan font-size="6" dy="-3.5">*</tspan><tspan dy="3.5"> = 38.4</tspan></text>
<text x="466.8" y="14" style="font-family:'Liberation Serif',serif;font-size:10px" fill="#222" textLength="39.6" lengthAdjust="spacingAndGlyphs">T<tspan font-size="6" dy="-3.5">*</tspan><tspan dy="3.5"> = 48.0</tspan></text>
<text x="595.1" y="14" style="font-family:'Liberation Serif',serif;font-size:10px" fill="#222" textLength="39.6" lengthAdjust="spacingAndGlyphs">T<tspan font-size="6" dy="-3.5">*</tspan><tspan dy="3.5"> = 57.6</tspan></text>
<text transform="translate(34.5,58.4) rotate(-90) scale(1,0.97)" style="font-family:'Liberation Serif',serif;font-size:9.2px" fill="#222">Ja = 0.35</text>
<text transform="translate(43.4,59.0) rotate(-90) scale(0.94,0.97)" style="font-family:'Liberation Serif',serif;font-size:9.2px" fill="#222">Ca<tspan font-size="6.3" dy="2.2">e</tspan><tspan dy="-2.2"> = 1.6</tspan></text>
<text transform="translate(34.5,111.9) rotate(-90) scale(1,0.97)" style="font-family:'Liberation Serif',serif;font-size:9.2px" fill="#222">Ja = 0.4</text>
<text transform="translate(43.4,112.2) rotate(-90) scale(0.94,0.97)" style="font-family:'Liberation Serif',serif;font-size:9.2px" fill="#222">Ca<tspan font-size="6.3" dy="2.2">e</tspan><tspan dy="-2.2"> = 1.6</tspan></text>
<text transform="translate(34.5,166.8) rotate(-90) scale(1,0.97)" style="font-family:'Liberation Serif',serif;font-size:9.2px" fill="#222">Ja = 0.5</text>
<text transform="translate(43.4,168.3) rotate(-90) scale(0.94,0.97)" style="font-family:'Liberation Serif',serif;font-size:9.2px" fill="#222">Ca<tspan font-size="6.3" dy="2.2">e</tspan><tspan dy="-2.2"> = 1.6</tspan></text>
<text x="0.5" y="9.5" style="font-family:'Liberation Sans',sans-serif;font-size:11.8px" fill="#111">(a)</text>
<text x="-0.2" y="195.9" style="font-family:'Liberation Sans',sans-serif;font-size:13px" fill="#111">(b)</text>
<line x1="86.0" y1="252.2" x2="94.6" y2="246.3" stroke="#f2b4a2" stroke-width="0.9" stroke-dasharray="3,1.6"/>
<line x1="98.6" y1="243.6" x2="106.8" y2="238.0" stroke="#f2b4a2" stroke-width="0.9" stroke-dasharray="3,1.6"/>
<line x1="110.9" y1="235.6" x2="119.9" y2="231.1" stroke="#f2b4a2" stroke-width="0.9" stroke-dasharray="3,1.6"/>
<line x1="124.4" y1="229.6" x2="132.1" y2="228.4" stroke="#f2b4a2" stroke-width="0.9" stroke-dasharray="3,1.6"/>
<line x1="136.9" y1="228.1" x2="145.0" y2="228.7" stroke="#f2b4a2" stroke-width="0.9" stroke-dasharray="3,1.6"/>
<line x1="149.5" y1="230.0" x2="157.9" y2="234.6" stroke="#f2b4a2" stroke-width="0.9" stroke-dasharray="3,1.6"/>
<line x1="162.3" y1="236.4" x2="170.7" y2="238.4" stroke="#f2b4a2" stroke-width="0.9" stroke-dasharray="3,1.6"/>
<line x1="175.4" y1="239.1" x2="183.2" y2="239.5" stroke="#f2b4a2" stroke-width="0.9" stroke-dasharray="3,1.6"/>
<line x1="187.9" y1="238.9" x2="196.5" y2="236.5" stroke="#f2b4a2" stroke-width="0.9" stroke-dasharray="3,1.6"/>
<line x1="200.9" y1="234.6" x2="209.5" y2="230.0" stroke="#f2b4a2" stroke-width="0.9" stroke-dasharray="3,1.6"/>
<line x1="214.0" y1="228.5" x2="221.8" y2="227.3" stroke="#f2b4a2" stroke-width="0.9" stroke-dasharray="3,1.6"/>
<circle cx="84.0" cy="253.6" r="2.4" fill="none" stroke="#f2b4a2" stroke-width="0.9"/>
<circle cx="96.6" cy="244.9" r="2.4" fill="none" stroke="#f2b4a2" stroke-width="0.9"/>
<circle cx="108.8" cy="236.7" r="2.4" fill="none" stroke="#f2b4a2" stroke-width="0.9"/>
<circle cx="122.0" cy="230.0" r="2.4" fill="none" stroke="#f2b4a2" stroke-width="0.9"/>
<circle cx="134.5" cy="228.0" r="2.4" fill="none" stroke="#f2b4a2" stroke-width="0.9"/>
<circle cx="147.4" cy="228.8" r="2.4" fill="none" stroke="#f2b4a2" stroke-width="0.9"/>
<circle cx="160.0" cy="235.8" r="2.4" fill="none" stroke="#f2b4a2" stroke-width="0.9"/>
<circle cx="173.0" cy="239.0" r="2.4" fill="none" stroke="#f2b4a2" stroke-width="0.9"/>
<circle cx="185.6" cy="239.6" r="2.4" fill="none" stroke="#f2b4a2" stroke-width="0.9"/>
<circle cx="198.8" cy="235.8" r="2.4" fill="none" stroke="#f2b4a2" stroke-width="0.9"/>
<circle cx="211.6" cy="228.8" r="2.4" fill="none" stroke="#f2b4a2" stroke-width="0.9"/>
<circle cx="224.2" cy="227.0" r="2.4" fill="none" stroke="#f2b4a2" stroke-width="0.9"/>
<line x1="98.7" y1="256.0" x2="106.7" y2="251.1" stroke="#e0606e" stroke-width="0.9" stroke-dasharray="3,1.6"/>
<line x1="110.9" y1="248.7" x2="119.9" y2="243.8" stroke="#e0606e" stroke-width="0.9" stroke-dasharray="3,1.6"/>
<line x1="124.1" y1="241.5" x2="132.4" y2="237.2" stroke="#e0606e" stroke-width="0.9" stroke-dasharray="3,1.6"/>
<line x1="136.9" y1="236.0" x2="145.0" y2="235.4" stroke="#e0606e" stroke-width="0.9" stroke-dasharray="3,1.6"/>
<line x1="149.8" y1="235.6" x2="157.6" y2="236.4" stroke="#e0606e" stroke-width="0.9" stroke-dasharray="3,1.6"/>
<line x1="162.3" y1="237.2" x2="170.7" y2="239.1" stroke="#e0606e" stroke-width="0.9" stroke-dasharray="3,1.6"/>
<line x1="175.4" y1="239.6" x2="183.2" y2="239.6" stroke="#e0606e" stroke-width="0.9" stroke-dasharray="3,1.6"/>
<line x1="188.0" y1="239.5" x2="196.4" y2="239.1" stroke="#e0606e" stroke-width="0.9" stroke-dasharray="3,1.6"/>
<line x1="201.1" y1="238.3" x2="209.3" y2="236.0" stroke="#e0606e" stroke-width="0.9" stroke-dasharray="3,1.6"/>
<line x1="214.0" y1="235.1" x2="221.8" y2="234.6" stroke="#e0606e" stroke-width="0.9" stroke-dasharray="3,1.6"/>
<circle cx="96.6" cy="257.2" r="2.4" fill="none" stroke="#e0606e" stroke-width="0.9"/>
<circle cx="108.8" cy="249.9" r="2.4" fill="none" stroke="#e0606e" stroke-width="0.9"/>
<circle cx="122.0" cy="242.6" r="2.4" fill="none" stroke="#e0606e" stroke-width="0.9"/>
<circle cx="134.5" cy="236.1" r="2.4" fill="none" stroke="#e0606e" stroke-width="0.9"/>
<circle cx="147.4" cy="235.3" r="2.4" fill="none" stroke="#e0606e" stroke-width="0.9"/>
<circle cx="160.0" cy="236.7" r="2.4" fill="none" stroke="#e0606e" stroke-width="0.9"/>
<circle cx="173.0" cy="239.6" r="2.4" fill="none" stroke="#e0606e" stroke-width="0.9"/>
<circle cx="185.6" cy="239.6" r="2.4" fill="none" stroke="#e0606e" stroke-width="0.9"/>
<circle cx="198.8" cy="239.0" r="2.4" fill="none" stroke="#e0606e" stroke-width="0.9"/>
<circle cx="211.6" cy="235.3" r="2.4" fill="none" stroke="#e0606e" stroke-width="0.9"/>
<circle cx="224.2" cy="234.4" r="2.4" fill="none" stroke="#e0606e" stroke-width="0.9"/>
<line x1="123.5" y1="252.9" x2="133.0" y2="241.5" stroke="#6aaaf0" stroke-width="0.9" stroke-dasharray="3,1.6"/>
<line x1="135.8" y1="237.6" x2="146.1" y2="222.0" stroke="#6aaaf0" stroke-width="0.9" stroke-dasharray="3,1.6"/>
<line x1="149.6" y1="219.0" x2="157.8" y2="215.0" stroke="#6aaaf0" stroke-width="0.9" stroke-dasharray="3,1.6"/>
<line x1="162.4" y1="213.6" x2="170.6" y2="212.4" stroke="#6aaaf0" stroke-width="0.9" stroke-dasharray="3,1.6"/>
<line x1="175.4" y1="211.6" x2="183.2" y2="210.3" stroke="#6aaaf0" stroke-width="0.9" stroke-dasharray="3,1.6"/>
<line x1="188.0" y1="210.1" x2="196.4" y2="210.8" stroke="#6aaaf0" stroke-width="0.9" stroke-dasharray="3,1.6"/>
<line x1="200.8" y1="212.3" x2="209.6" y2="217.9" stroke="#6aaaf0" stroke-width="0.9" stroke-dasharray="3,1.6"/>
<line x1="213.7" y1="220.4" x2="222.1" y2="225.3" stroke="#6aaaf0" stroke-width="0.9" stroke-dasharray="3,1.6"/>
<circle cx="122.0" cy="254.8" r="2.4" fill="none" stroke="#6aaaf0" stroke-width="0.9"/>
<circle cx="134.5" cy="239.6" r="2.4" fill="none" stroke="#6aaaf0" stroke-width="0.9"/>
<circle cx="147.4" cy="220.0" r="2.4" fill="none" stroke="#6aaaf0" stroke-width="0.9"/>
<circle cx="160.0" cy="214.0" r="2.4" fill="none" stroke="#6aaaf0" stroke-width="0.9"/>
<circle cx="173.0" cy="212.0" r="2.4" fill="none" stroke="#6aaaf0" stroke-width="0.9"/>
<circle cx="185.6" cy="209.9" r="2.4" fill="none" stroke="#6aaaf0" stroke-width="0.9"/>
<circle cx="198.8" cy="211.0" r="2.4" fill="none" stroke="#6aaaf0" stroke-width="0.9"/>
<circle cx="211.6" cy="219.2" r="2.4" fill="none" stroke="#6aaaf0" stroke-width="0.9"/>
<circle cx="224.2" cy="226.5" r="2.4" fill="none" stroke="#6aaaf0" stroke-width="0.9"/>
<rect x="40.3" y="199.3" width="186.1" height="63.0" fill="none" stroke="#1a1a1a" stroke-width="1"/>
<line x1="37.699999999999996" y1="258.3" x2="40.3" y2="258.3" stroke="#1a1a1a" stroke-width="0.9"/>
<line x1="37.699999999999996" y1="242.5" x2="40.3" y2="242.5" stroke="#1a1a1a" stroke-width="0.9"/>
<line x1="37.699999999999996" y1="226.8" x2="40.3" y2="226.8" stroke="#1a1a1a" stroke-width="0.9"/>
<line x1="37.699999999999996" y1="211.0" x2="40.3" y2="211.0" stroke="#1a1a1a" stroke-width="0.9"/>
<line x1="38.699999999999996" y1="250.4" x2="40.3" y2="250.4" stroke="#1a1a1a" stroke-width="0.8"/>
<line x1="38.699999999999996" y1="234.7" x2="40.3" y2="234.7" stroke="#1a1a1a" stroke-width="0.8"/>
<line x1="38.699999999999996" y1="218.9" x2="40.3" y2="218.9" stroke="#1a1a1a" stroke-width="0.8"/>
<line x1="38.699999999999996" y1="203.1" x2="40.3" y2="203.1" stroke="#1a1a1a" stroke-width="0.8"/>
<text x="34.4" y="261.1" text-anchor="end" style="font-family:'Liberation Sans',sans-serif;font-size:7.8px" fill="#111" stroke="#111" stroke-width="0.15">0</text>
<text x="34.4" y="245.3" text-anchor="end" style="font-family:'Liberation Sans',sans-serif;font-size:7.8px" fill="#111" stroke="#111" stroke-width="0.15">40</text>
<text x="34.4" y="229.6" text-anchor="end" style="font-family:'Liberation Sans',sans-serif;font-size:7.8px" fill="#111" stroke="#111" stroke-width="0.15">80</text>
<text x="34.4" y="213.8" text-anchor="end" style="font-family:'Liberation Sans',sans-serif;font-size:7.8px" fill="#111" stroke="#111" stroke-width="0.15">120</text>
<line x1="50.4" y1="262.3" x2="50.4" y2="264.90000000000003" stroke="#1a1a1a" stroke-width="0.9"/>
<line x1="77.0" y1="262.3" x2="77.0" y2="264.90000000000003" stroke="#1a1a1a" stroke-width="0.9"/>
<line x1="103.7" y1="262.3" x2="103.7" y2="264.90000000000003" stroke="#1a1a1a" stroke-width="0.9"/>
<line x1="130.3" y1="262.3" x2="130.3" y2="264.90000000000003" stroke="#1a1a1a" stroke-width="0.9"/>
<line x1="157.0" y1="262.3" x2="157.0" y2="264.90000000000003" stroke="#1a1a1a" stroke-width="0.9"/>
<line x1="183.7" y1="262.3" x2="183.7" y2="264.90000000000003" stroke="#1a1a1a" stroke-width="0.9"/>
<line x1="210.3" y1="262.3" x2="210.3" y2="264.90000000000003" stroke="#1a1a1a" stroke-width="0.9"/>
<line x1="63.7" y1="262.3" x2="63.7" y2="263.90000000000003" stroke="#1a1a1a" stroke-width="0.8"/>
<line x1="90.4" y1="262.3" x2="90.4" y2="263.90000000000003" stroke="#1a1a1a" stroke-width="0.8"/>
<line x1="117.0" y1="262.3" x2="117.0" y2="263.90000000000003" stroke="#1a1a1a" stroke-width="0.8"/>
<line x1="143.7" y1="262.3" x2="143.7" y2="263.90000000000003" stroke="#1a1a1a" stroke-width="0.8"/>
<line x1="170.3" y1="262.3" x2="170.3" y2="263.90000000000003" stroke="#1a1a1a" stroke-width="0.8"/>
<line x1="197.0" y1="262.3" x2="197.0" y2="263.90000000000003" stroke="#1a1a1a" stroke-width="0.8"/>
<line x1="223.6" y1="262.3" x2="223.6" y2="263.90000000000003" stroke="#1a1a1a" stroke-width="0.8"/>
<line x1="41" y1="204.4" x2="54" y2="204.4" stroke="#6aaaf0" stroke-width="0.9" stroke-dasharray="3,1.6"/>
<circle cx="48.5" cy="204.4" r="2.4" fill="#fff" stroke="#6aaaf0" stroke-width="0.9"/>
<text x="58" y="206.9" style="font-family:'Liberation Sans',sans-serif;font-size:7px" fill="#111" stroke="#111" stroke-width="0.15">Ja = 0.24</text>
<line x1="41" y1="212.9" x2="54" y2="212.9" stroke="#f2b4a2" stroke-width="0.9" stroke-dasharray="3,1.6"/>
<circle cx="48.5" cy="212.9" r="2.4" fill="#fff" stroke="#f2b4a2" stroke-width="0.9"/>
<text x="58" y="215.4" style="font-family:'Liberation Sans',sans-serif;font-size:7px" fill="#111" stroke="#111" stroke-width="0.15">Ja = 0.30</text>
<line x1="41" y1="221.3" x2="54" y2="221.3" stroke="#e0606e" stroke-width="0.9" stroke-dasharray="3,1.6"/>
<circle cx="48.5" cy="221.3" r="2.4" fill="#fff" stroke="#e0606e" stroke-width="0.9"/>
<text x="58" y="223.8" style="font-family:'Liberation Sans',sans-serif;font-size:7px" fill="#111" stroke="#111" stroke-width="0.15">Ja = 0.32</text>
<text x="71.0" y="243.4" style="font-family:'Liberation Sans',sans-serif;font-size:11px" fill="#111" textLength="8.6" lengthAdjust="spacingAndGlyphs">Ja</text>
<path d="M85.8,243.4 L85.8,236.20000000000002" stroke="#111" stroke-width="0.9"/><path d="M83.6,238.8 L85.8,235.4 L88.0,238.8" fill="none" stroke="#111" stroke-width="0.9"/>
<line x1="120.0" y1="252.6" x2="91.3" y2="249.4" stroke="#111" stroke-width="1.3"/>
<polygon points="86.8,248.9 92.0,247.3 91.5,251.6" fill="#111"/>
<line x1="82.4" y1="256.4" x2="89.9" y2="257.4" stroke="#111" stroke-width="1.3"/>
<polygon points="94.4,258.0 89.2,259.5 89.7,255.2" fill="#111"/>
<text transform="translate(14.6,237.6) rotate(-90)" style="font-family:'Liberation Sans',sans-serif;font-size:10px" fill="#111">Count</text>
<line x1="47.2" y1="328.5" x2="55.7" y2="322.7" stroke="#6aaaf0" stroke-width="0.9"/>
<line x1="59.6" y1="319.8" x2="68.7" y2="312.6" stroke="#6aaaf0" stroke-width="0.9"/>
<line x1="72.8" y1="310.1" x2="81.1" y2="306.4" stroke="#6aaaf0" stroke-width="0.9"/>
<line x1="85.7" y1="305.1" x2="93.8" y2="304.1" stroke="#6aaaf0" stroke-width="0.9"/>
<line x1="98.2" y1="302.5" x2="107.1" y2="296.5" stroke="#6aaaf0" stroke-width="0.9"/>
<line x1="110.9" y1="293.6" x2="120.0" y2="285.9" stroke="#6aaaf0" stroke-width="0.9"/>
<line x1="124.2" y1="284.0" x2="132.5" y2="283.1" stroke="#6aaaf0" stroke-width="0.9"/>
<line x1="137.3" y1="283.1" x2="145.2" y2="284.0" stroke="#6aaaf0" stroke-width="0.9"/>
<line x1="149.8" y1="283.3" x2="158.3" y2="279.4" stroke="#6aaaf0" stroke-width="0.9"/>
<line x1="162.9" y1="278.2" x2="170.6" y2="277.3" stroke="#6aaaf0" stroke-width="0.9"/>
<line x1="175.2" y1="278.0" x2="183.8" y2="281.4" stroke="#6aaaf0" stroke-width="0.9"/>
<line x1="188.3" y1="282.9" x2="196.6" y2="285.0" stroke="#6aaaf0" stroke-width="0.9"/>
<line x1="201.2" y1="286.3" x2="209.1" y2="288.8" stroke="#6aaaf0" stroke-width="0.9"/>
<line x1="213.8" y1="289.8" x2="221.7" y2="291.0" stroke="#6aaaf0" stroke-width="0.9"/>
<circle cx="45.2" cy="329.9" r="2.4" fill="none" stroke="#6aaaf0" stroke-width="0.9"/>
<circle cx="57.7" cy="321.3" r="2.4" fill="none" stroke="#6aaaf0" stroke-width="0.9"/>
<circle cx="70.6" cy="311.1" r="2.4" fill="none" stroke="#6aaaf0" stroke-width="0.9"/>
<circle cx="83.3" cy="305.4" r="2.4" fill="none" stroke="#6aaaf0" stroke-width="0.9"/>
<circle cx="96.2" cy="303.8" r="2.4" fill="none" stroke="#6aaaf0" stroke-width="0.9"/>
<circle cx="109.1" cy="295.2" r="2.4" fill="none" stroke="#6aaaf0" stroke-width="0.9"/>
<circle cx="121.8" cy="284.3" r="2.4" fill="none" stroke="#6aaaf0" stroke-width="0.9"/>
<circle cx="134.9" cy="282.8" r="2.4" fill="none" stroke="#6aaaf0" stroke-width="0.9"/>
<circle cx="147.6" cy="284.3" r="2.4" fill="none" stroke="#6aaaf0" stroke-width="0.9"/>
<circle cx="160.5" cy="278.4" r="2.4" fill="none" stroke="#6aaaf0" stroke-width="0.9"/>
<circle cx="173.0" cy="277.1" r="2.4" fill="none" stroke="#6aaaf0" stroke-width="0.9"/>
<circle cx="186.0" cy="282.3" r="2.4" fill="none" stroke="#6aaaf0" stroke-width="0.9"/>
<circle cx="198.9" cy="285.6" r="2.4" fill="none" stroke="#6aaaf0" stroke-width="0.9"/>
<circle cx="211.4" cy="289.5" r="2.4" fill="none" stroke="#6aaaf0" stroke-width="0.9"/>
<circle cx="224.1" cy="291.3" r="2.4" fill="none" stroke="#6aaaf0" stroke-width="0.9"/>
<line x1="85.4" y1="328.5" x2="94.1" y2="323.2" stroke="#f2b4a2" stroke-width="0.9"/>
<line x1="98.4" y1="321.0" x2="106.9" y2="317.3" stroke="#f2b4a2" stroke-width="0.9"/>
<line x1="111.3" y1="315.4" x2="119.6" y2="312.0" stroke="#f2b4a2" stroke-width="0.9"/>
<line x1="124.2" y1="311.0" x2="132.5" y2="310.5" stroke="#f2b4a2" stroke-width="0.9"/>
<line x1="136.9" y1="309.1" x2="145.6" y2="303.8" stroke="#f2b4a2" stroke-width="0.9"/>
<line x1="150.0" y1="302.1" x2="158.1" y2="300.8" stroke="#f2b4a2" stroke-width="0.9"/>
<line x1="162.8" y1="300.9" x2="170.7" y2="302.5" stroke="#f2b4a2" stroke-width="0.9"/>
<line x1="175.4" y1="302.7" x2="183.6" y2="301.5" stroke="#f2b4a2" stroke-width="0.9"/>
<line x1="188.4" y1="301.4" x2="196.5" y2="302.0" stroke="#f2b4a2" stroke-width="0.9"/>
<line x1="201.2" y1="302.7" x2="209.1" y2="304.6" stroke="#f2b4a2" stroke-width="0.9"/>
<line x1="213.8" y1="305.4" x2="221.7" y2="306.6" stroke="#f2b4a2" stroke-width="0.9"/>
<circle cx="83.3" cy="329.7" r="2.4" fill="none" stroke="#f2b4a2" stroke-width="0.9"/>
<circle cx="96.2" cy="322.0" r="2.4" fill="none" stroke="#f2b4a2" stroke-width="0.9"/>
<circle cx="109.1" cy="316.3" r="2.4" fill="none" stroke="#f2b4a2" stroke-width="0.9"/>
<circle cx="121.8" cy="311.1" r="2.4" fill="none" stroke="#f2b4a2" stroke-width="0.9"/>
<circle cx="134.9" cy="310.4" r="2.4" fill="none" stroke="#f2b4a2" stroke-width="0.9"/>
<circle cx="147.6" cy="302.5" r="2.4" fill="none" stroke="#f2b4a2" stroke-width="0.9"/>
<circle cx="160.5" cy="300.4" r="2.4" fill="none" stroke="#f2b4a2" stroke-width="0.9"/>
<circle cx="173.0" cy="303.0" r="2.4" fill="none" stroke="#f2b4a2" stroke-width="0.9"/>
<circle cx="186.0" cy="301.2" r="2.4" fill="none" stroke="#f2b4a2" stroke-width="0.9"/>
<circle cx="198.9" cy="302.2" r="2.4" fill="none" stroke="#f2b4a2" stroke-width="0.9"/>
<circle cx="211.4" cy="305.1" r="2.4" fill="none" stroke="#f2b4a2" stroke-width="0.9"/>
<circle cx="224.1" cy="306.9" r="2.4" fill="none" stroke="#f2b4a2" stroke-width="0.9"/>
<line x1="162.7" y1="328.2" x2="170.8" y2="325.1" stroke="#e0606e" stroke-width="0.9"/>
<line x1="175.1" y1="323.2" x2="183.9" y2="318.4" stroke="#e0606e" stroke-width="0.9"/>
<line x1="188.4" y1="317.0" x2="196.5" y2="315.8" stroke="#e0606e" stroke-width="0.9"/>
<line x1="201.3" y1="315.3" x2="209.0" y2="314.9" stroke="#e0606e" stroke-width="0.9"/>
<line x1="213.8" y1="314.2" x2="221.7" y2="312.6" stroke="#e0606e" stroke-width="0.9"/>
<circle cx="160.5" cy="329.0" r="2.4" fill="none" stroke="#e0606e" stroke-width="0.9"/>
<circle cx="173.0" cy="324.3" r="2.4" fill="none" stroke="#e0606e" stroke-width="0.9"/>
<circle cx="186.0" cy="317.3" r="2.4" fill="none" stroke="#e0606e" stroke-width="0.9"/>
<circle cx="198.9" cy="315.5" r="2.4" fill="none" stroke="#e0606e" stroke-width="0.9"/>
<circle cx="211.4" cy="314.7" r="2.4" fill="none" stroke="#e0606e" stroke-width="0.9"/>
<circle cx="224.1" cy="312.1" r="2.4" fill="none" stroke="#e0606e" stroke-width="0.9"/>
<rect x="40.3" y="272.3" width="186.1" height="62.6" fill="none" stroke="#1a1a1a" stroke-width="1"/>
<line x1="37.699999999999996" y1="330.0" x2="40.3" y2="330.0" stroke="#1a1a1a" stroke-width="0.9"/>
<line x1="37.699999999999996" y1="312.1" x2="40.3" y2="312.1" stroke="#1a1a1a" stroke-width="0.9"/>
<line x1="37.699999999999996" y1="294.2" x2="40.3" y2="294.2" stroke="#1a1a1a" stroke-width="0.9"/>
<line x1="37.699999999999996" y1="276.3" x2="40.3" y2="276.3" stroke="#1a1a1a" stroke-width="0.9"/>
<line x1="38.699999999999996" y1="321.1" x2="40.3" y2="321.1" stroke="#1a1a1a" stroke-width="0.8"/>
<line x1="38.699999999999996" y1="303.1" x2="40.3" y2="303.1" stroke="#1a1a1a" stroke-width="0.8"/>
<line x1="38.699999999999996" y1="285.2" x2="40.3" y2="285.2" stroke="#1a1a1a" stroke-width="0.8"/>
<text x="34.4" y="332.8" text-anchor="end" style="font-family:'Liberation Sans',sans-serif;font-size:7.8px" fill="#111" stroke="#111" stroke-width="0.15">0</text>
<text x="34.4" y="314.9" text-anchor="end" style="font-family:'Liberation Sans',sans-serif;font-size:7.8px" fill="#111" stroke="#111" stroke-width="0.15">100</text>
<text x="34.4" y="297.0" text-anchor="end" style="font-family:'Liberation Sans',sans-serif;font-size:7.8px" fill="#111" stroke="#111" stroke-width="0.15">200</text>
<text x="34.4" y="279.1" text-anchor="end" style="font-family:'Liberation Sans',sans-serif;font-size:7.8px" fill="#111" stroke="#111" stroke-width="0.15">300</text>
<line x1="50.4" y1="334.9" x2="50.4" y2="337.5" stroke="#1a1a1a" stroke-width="0.9"/>
<line x1="77.0" y1="334.9" x2="77.0" y2="337.5" stroke="#1a1a1a" stroke-width="0.9"/>
<line x1="103.7" y1="334.9" x2="103.7" y2="337.5" stroke="#1a1a1a" stroke-width="0.9"/>
<line x1="130.3" y1="334.9" x2="130.3" y2="337.5" stroke="#1a1a1a" stroke-width="0.9"/>
<line x1="157.0" y1="334.9" x2="157.0" y2="337.5" stroke="#1a1a1a" stroke-width="0.9"/>
<line x1="183.7" y1="334.9" x2="183.7" y2="337.5" stroke="#1a1a1a" stroke-width="0.9"/>
<line x1="210.3" y1="334.9" x2="210.3" y2="337.5" stroke="#1a1a1a" stroke-width="0.9"/>
<line x1="63.7" y1="334.9" x2="63.7" y2="336.5" stroke="#1a1a1a" stroke-width="0.8"/>
<line x1="90.4" y1="334.9" x2="90.4" y2="336.5" stroke="#1a1a1a" stroke-width="0.8"/>
<line x1="117.0" y1="334.9" x2="117.0" y2="336.5" stroke="#1a1a1a" stroke-width="0.8"/>
<line x1="143.7" y1="334.9" x2="143.7" y2="336.5" stroke="#1a1a1a" stroke-width="0.8"/>
<line x1="170.3" y1="334.9" x2="170.3" y2="336.5" stroke="#1a1a1a" stroke-width="0.8"/>
<line x1="197.0" y1="334.9" x2="197.0" y2="336.5" stroke="#1a1a1a" stroke-width="0.8"/>
<line x1="223.6" y1="334.9" x2="223.6" y2="336.5" stroke="#1a1a1a" stroke-width="0.8"/>
<text x="50.4" y="347.1" text-anchor="middle" style="font-family:'Liberation Sans',sans-serif;font-size:8.2px" fill="#111" stroke="#111" stroke-width="0.15">25</text>
<text x="77.0" y="347.1" text-anchor="middle" style="font-family:'Liberation Sans',sans-serif;font-size:8.2px" fill="#111" stroke="#111" stroke-width="0.15">30</text>
<text x="103.7" y="347.1" text-anchor="middle" style="font-family:'Liberation Sans',sans-serif;font-size:8.2px" fill="#111" stroke="#111" stroke-width="0.15">35</text>
<text x="130.3" y="347.1" text-anchor="middle" style="font-family:'Liberation Sans',sans-serif;font-size:8.2px" fill="#111" stroke="#111" stroke-width="0.15">40</text>
<text x="157.0" y="347.1" text-anchor="middle" style="font-family:'Liberation Sans',sans-serif;font-size:8.2px" fill="#111" stroke="#111" stroke-width="0.15">45</text>
<text x="183.7" y="347.1" text-anchor="middle" style="font-family:'Liberation Sans',sans-serif;font-size:8.2px" fill="#111" stroke="#111" stroke-width="0.15">50</text>
<text x="210.3" y="347.1" text-anchor="middle" style="font-family:'Liberation Sans',sans-serif;font-size:8.2px" fill="#111" stroke="#111" stroke-width="0.15">55</text>
<line x1="41.8" y1="278.2" x2="56.5" y2="278.2" stroke="#6aaaf0" stroke-width="0.9"/>
<circle cx="49" cy="278.2" r="2.4" fill="#fff" stroke="#6aaaf0" stroke-width="0.9"/>
<text x="58.8" y="280.7" style="font-family:'Liberation Sans',sans-serif;font-size:7px" fill="#111" stroke="#111" stroke-width="0.15">EF:Ja=0.3</text>
<line x1="41.8" y1="286.6" x2="56.5" y2="286.6" stroke="#f2b4a2" stroke-width="0.9"/>
<circle cx="49" cy="286.6" r="2.4" fill="#fff" stroke="#f2b4a2" stroke-width="0.9"/>
<text x="58.8" y="289.1" style="font-family:'Liberation Sans',sans-serif;font-size:7px" fill="#111" stroke="#111" stroke-width="0.15">EF:Ja=0.4</text>
<line x1="41.8" y1="294.8" x2="56.5" y2="294.8" stroke="#e0606e" stroke-width="0.9"/>
<circle cx="49" cy="294.8" r="2.4" fill="#fff" stroke="#e0606e" stroke-width="0.9"/>
<text x="58.8" y="297.3" style="font-family:'Liberation Sans',sans-serif;font-size:7px" fill="#111" stroke="#111" stroke-width="0.15">EF:Ja=0.5</text>
<text x="136.8" y="325.8" style="font-family:'Liberation Sans',sans-serif;font-size:11px" fill="#111" textLength="8.6" lengthAdjust="spacingAndGlyphs">Ja</text>
<path d="M151.60000000000002,325.8 L151.60000000000002,318.6" stroke="#111" stroke-width="0.9"/><path d="M149.4,321.2 L151.60000000000002,317.8 L153.8,321.2" fill="none" stroke="#111" stroke-width="0.9"/>
<line x1="49.6" y1="331.4" x2="70.3" y2="331.4" stroke="#111" stroke-width="1.5"/>
<polygon points="76.4,331.4 69.8,334.4 69.8,328.4" fill="#111"/>
<line x1="89.0" y1="331.4" x2="146.5" y2="331.4" stroke="#111" stroke-width="1.5"/>
<polygon points="152.0,331.4 146.0,334.4 146.0,328.4" fill="#111"/>
<text transform="translate(14.6,317) rotate(-90)" style="font-family:'Liberation Sans',sans-serif;font-size:10px" fill="#111">Count</text>
<text x="128.5" y="360" style="font-family:'Liberation Sans',sans-serif;font-size:10px" fill="#111">T<tspan font-size="5.5" dy="-4.5">*</tspan></text>
<text x="230.4" y="195.9" style="font-family:'Liberation Sans',sans-serif;font-size:13px" fill="#111">(c)</text>
<path d="M271.4,310.6 C272.2,309.8 274.3,307.4 276.0,306.0 C277.7,304.6 279.4,303.6 281.7,302.3 C284.0,301.1 287.3,299.7 290.0,298.5 C292.7,297.3 294.7,296.4 298.0,295.0 C301.3,293.6 306.4,291.6 309.8,289.9 C313.2,288.2 315.2,286.5 318.7,284.6 C322.1,282.7 326.6,279.8 330.5,278.6 C334.4,277.4 338.2,277.6 342.3,277.2 C346.4,276.8 350.2,276.6 354.8,276.3 C359.4,276.1 362.2,275.7 369.6,275.7 C377.0,275.7 389.1,275.9 399.0,276.3 C408.9,276.7 420.1,277.3 428.7,278.0 C437.3,278.7 447.1,280.2 450.8,280.7" fill="none" stroke="#6aaaf0" stroke-width="1.2"/>
<path d="M271.4,315.6 C272.2,316.5 274.5,319.4 276.0,321.0 C277.5,322.6 278.6,325.2 280.3,325.4 C282.0,325.6 284.1,322.5 286.0,322.4 C287.9,322.2 290.0,324.0 292.0,324.5 C294.0,325.0 293.6,325.1 298.0,325.4 C302.4,325.6 311.7,325.7 318.7,326.0 C325.7,326.3 335.0,327.5 340.0,327.4 C345.0,327.3 345.4,326.6 348.9,325.4 C352.3,324.2 357.8,322.1 360.7,320.0 C363.6,317.9 364.0,315.7 366.0,313.0 C368.0,310.3 369.9,306.3 372.5,303.8 C375.1,301.3 377.9,300.1 381.4,297.9 C384.8,295.7 389.8,292.7 393.2,290.5 C396.6,288.3 399.3,286.2 402.0,284.6 C404.7,283.0 406.5,281.3 409.5,281.0 C412.5,280.7 415.6,283.0 419.8,283.0 C424.0,283.0 429.4,281.6 434.6,281.0 C439.8,280.4 448.1,279.8 450.8,279.5" fill="none" stroke="#e0606e" stroke-width="1.2"/>
<path d="M271.4,315.6 C272.5,315.4 275.6,315.2 278.0,314.5 C280.4,313.8 282.3,311.7 286.0,311.2 C289.7,310.7 295.5,311.5 300.0,311.5 C304.5,311.5 308.2,311.8 312.8,311.2 C317.4,310.6 323.0,309.4 327.5,308.2 C332.0,307.0 335.4,305.4 340.0,303.8 C344.6,302.2 350.4,299.4 354.8,298.7 C359.2,297.9 362.7,298.7 366.6,299.3 C370.5,299.9 374.0,301.7 378.4,302.3 C382.8,302.9 387.8,303.1 393.2,302.9 C398.6,302.6 405.1,301.5 411.0,300.8 C416.9,300.1 422.8,298.6 428.7,298.5 C434.6,298.4 443.4,299.9 446.4,300.2" fill="none" stroke="#6aaaf0" stroke-width="1.2" stroke-dasharray="4.5,3"/>
<path d="M271.4,316.5 C272.5,317.4 275.6,320.8 278.0,322.0 C280.4,323.2 282.3,323.0 286.0,323.6 C289.7,324.2 294.3,325.1 300.0,325.5 C305.7,325.9 313.3,325.6 320.0,325.8 C326.7,326.0 331.7,326.1 340.0,326.5 C348.3,326.9 359.8,327.8 369.6,328.3 C379.4,328.8 385.7,329.1 399.0,329.5 C412.3,329.9 441.0,330.5 449.4,330.7" fill="none" stroke="#e0606e" stroke-width="1.2" stroke-dasharray="4.5,3"/>
<rect x="271.4" y="199.6" width="180.2" height="134.8" fill="none" stroke="#1a1a1a" stroke-width="1"/>
<line x1="268.79999999999995" y1="301.4" x2="271.4" y2="301.4" stroke="#1a1a1a" stroke-width="0.9"/>
<line x1="268.79999999999995" y1="264.4" x2="271.4" y2="264.4" stroke="#1a1a1a" stroke-width="0.9"/>
<line x1="268.79999999999995" y1="227.4" x2="271.4" y2="227.4" stroke="#1a1a1a" stroke-width="0.9"/>
<line x1="269.79999999999995" y1="319.9" x2="271.4" y2="319.9" stroke="#1a1a1a" stroke-width="0.8"/>
<line x1="269.79999999999995" y1="282.9" x2="271.4" y2="282.9" stroke="#1a1a1a" stroke-width="0.8"/>
<line x1="269.79999999999995" y1="245.9" x2="271.4" y2="245.9" stroke="#1a1a1a" stroke-width="0.8"/>
<line x1="269.79999999999995" y1="208.9" x2="271.4" y2="208.9" stroke="#1a1a1a" stroke-width="0.8"/>
<text x="265.8" y="304.3" text-anchor="end" style="font-family:'Liberation Sans',sans-serif;font-size:8.2px" fill="#111" stroke="#111" stroke-width="0.15">4.63</text>
<text x="265.8" y="267.4" text-anchor="end" style="font-family:'Liberation Sans',sans-serif;font-size:8.2px" fill="#111" stroke="#111" stroke-width="0.15">9.25</text>
<text x="265.8" y="230.3" text-anchor="end" style="font-family:'Liberation Sans',sans-serif;font-size:8.2px" fill="#111" stroke="#111" stroke-width="0.15">13.88</text>
<line x1="271.4" y1="334.4" x2="271.4" y2="337.0" stroke="#1a1a1a" stroke-width="0.9"/>
<line x1="309.8" y1="334.4" x2="309.8" y2="337.0" stroke="#1a1a1a" stroke-width="0.9"/>
<line x1="348.3" y1="334.4" x2="348.3" y2="337.0" stroke="#1a1a1a" stroke-width="0.9"/>
<line x1="386.8" y1="334.4" x2="386.8" y2="337.0" stroke="#1a1a1a" stroke-width="0.9"/>
<line x1="425.2" y1="334.4" x2="425.2" y2="337.0" stroke="#1a1a1a" stroke-width="0.9"/>
<line x1="290.6" y1="334.4" x2="290.6" y2="336.0" stroke="#1a1a1a" stroke-width="0.8"/>
<line x1="329.1" y1="334.4" x2="329.1" y2="336.0" stroke="#1a1a1a" stroke-width="0.8"/>
<line x1="367.5" y1="334.4" x2="367.5" y2="336.0" stroke="#1a1a1a" stroke-width="0.8"/>
<line x1="406.0" y1="334.4" x2="406.0" y2="336.0" stroke="#1a1a1a" stroke-width="0.8"/>
<line x1="444.4" y1="334.4" x2="444.4" y2="336.0" stroke="#1a1a1a" stroke-width="0.8"/>
<text x="271.4" y="347.1" text-anchor="middle" style="font-family:'Liberation Sans',sans-serif;font-size:8.2px" fill="#111" stroke="#111" stroke-width="0.15">10</text>
<text x="309.8" y="347.1" text-anchor="middle" style="font-family:'Liberation Sans',sans-serif;font-size:8.2px" fill="#111" stroke="#111" stroke-width="0.15">20</text>
<text x="348.3" y="347.1" text-anchor="middle" style="font-family:'Liberation Sans',sans-serif;font-size:8.2px" fill="#111" stroke="#111" stroke-width="0.15">30</text>
<text x="386.8" y="347.1" text-anchor="middle" style="font-family:'Liberation Sans',sans-serif;font-size:8.2px" fill="#111" stroke="#111" stroke-width="0.15">40</text>
<text x="425.2" y="347.1" text-anchor="middle" style="font-family:'Liberation Sans',sans-serif;font-size:8.2px" fill="#111" stroke="#111" stroke-width="0.15">50</text>
<text x="346.5" y="360" style="font-family:'Liberation Sans',sans-serif;font-size:10px" fill="#111">T<tspan font-size="5.5" dy="-4.5">*</tspan></text>
<text transform="translate(238.6,268.6) rotate(-90)" style="font-family:'Liberation Serif',serif;font-style:italic;font-size:8.5px" fill="#111">q</text>
<line x1="230" y1="262" x2="230" y2="265.6" stroke="#111" stroke-width="0.7"/>
<line x1="392.4" y1="206" x2="408" y2="206" stroke="#6aaaf0" stroke-width="1.3"/>
<text x="410.5" y="208.6" style="font-family:'Liberation Sans',sans-serif;font-size:7.3px" fill="#111" stroke="#111" stroke-width="0.12">EF:Ja = 0.3</text>
<line x1="392.4" y1="215" x2="408" y2="215" stroke="#e0606e" stroke-width="1.3"/>
<text x="410.5" y="217.6" style="font-family:'Liberation Sans',sans-serif;font-size:7.3px" fill="#111" stroke="#111" stroke-width="0.12">EF:Ja = 0.5</text>
<line x1="392.4" y1="224.3" x2="408" y2="224.3" stroke="#6aaaf0" stroke-width="1.3" stroke-dasharray="5.5,4.5"/>
<text x="410.5" y="226.9" style="font-family:'Liberation Sans',sans-serif;font-size:7.3px" fill="#111" stroke="#111" stroke-width="0.12">Ja = 0.30</text>
<line x1="392.4" y1="233" x2="408" y2="233" stroke="#e0606e" stroke-width="1.3" stroke-dasharray="5.5,4.5"/>
<text x="410.5" y="235.6" style="font-family:'Liberation Sans',sans-serif;font-size:7.3px" fill="#111" stroke="#111" stroke-width="0.12">Ja = 0.35</text>
<rect x="291" y="203.6" width="97" height="62.099999999999994" fill="#fff" stroke="#1a1a1a" stroke-width="0.9"/>
<line x1="289" y1="211.8" x2="291" y2="211.8" stroke="#1a1a1a" stroke-width="0.8"/>
<text x="288.4" y="214.0" text-anchor="end" style="font-family:'Liberation Sans',sans-serif;font-size:6.2px" fill="#111">6.94</text>
<line x1="289" y1="233.4" x2="291" y2="233.4" stroke="#1a1a1a" stroke-width="0.8"/>
<text x="288.4" y="235.6" text-anchor="end" style="font-family:'Liberation Sans',sans-serif;font-size:6.2px" fill="#111">4.63</text>
<line x1="289" y1="255.1" x2="291" y2="255.1" stroke="#1a1a1a" stroke-width="0.8"/>
<text x="288.4" y="257.3" text-anchor="end" style="font-family:'Liberation Sans',sans-serif;font-size:6.2px" fill="#111">2.31</text>
<line x1="289.8" y1="222.6" x2="291" y2="222.6" stroke="#1a1a1a" stroke-width="0.7"/>
<line x1="289.8" y1="244.2" x2="291" y2="244.2" stroke="#1a1a1a" stroke-width="0.7"/>
<line x1="289.8" y1="265.9" x2="291" y2="265.9" stroke="#1a1a1a" stroke-width="0.7"/>
<line x1="303.3" y1="265.7" x2="303.3" y2="267.7" stroke="#1a1a1a" stroke-width="0.8"/>
<text x="303.3" y="273.7" text-anchor="middle" style="font-family:'Liberation Sans',sans-serif;font-size:6.1px" fill="#111">0.2</text>
<line x1="327.3" y1="265.7" x2="327.3" y2="267.7" stroke="#1a1a1a" stroke-width="0.8"/>
<text x="327.3" y="273.7" text-anchor="middle" style="font-family:'Liberation Sans',sans-serif;font-size:6.1px" fill="#111">0.3</text>
<line x1="351.3" y1="265.7" x2="351.3" y2="267.7" stroke="#1a1a1a" stroke-width="0.8"/>
<text x="351.3" y="273.7" text-anchor="middle" style="font-family:'Liberation Sans',sans-serif;font-size:6.1px" fill="#111">0.4</text>
<line x1="375.3" y1="265.7" x2="375.3" y2="267.7" stroke="#1a1a1a" stroke-width="0.8"/>
<text x="375.3" y="273.7" text-anchor="middle" style="font-family:'Liberation Sans',sans-serif;font-size:6.1px" fill="#111">0.5</text>
<line x1="315.3" y1="265.7" x2="315.3" y2="266.9" stroke="#1a1a1a" stroke-width="0.7"/>
<line x1="339.3" y1="265.7" x2="339.3" y2="266.9" stroke="#1a1a1a" stroke-width="0.7"/>
<line x1="363.3" y1="265.7" x2="363.3" y2="266.9" stroke="#1a1a1a" stroke-width="0.7"/>
<path d="M327.3,209.6 C329.2,209.9 335.0,210.2 339.0,211.5 C343.0,212.8 347.4,215.4 351.4,217.6 C355.4,219.8 359.1,222.1 363.0,224.5 C366.9,226.9 370.9,229.1 375.0,232.1 C379.1,235.1 385.4,240.8 387.5,242.5" fill="none" stroke="#111" stroke-width="0.9"/>
<path d="M332.0,232.6 C332.6,233.6 334.5,236.2 335.5,238.4 C336.5,240.6 337.1,243.2 337.8,245.5 C338.5,247.8 338.9,249.4 339.5,252.5 C340.1,255.6 341.0,262.1 341.3,264.0" fill="none" stroke="#111" stroke-width="0.8" stroke-dasharray="2.2,2"/>
<circle cx="327.3" cy="209.6" r="2.6" fill="#111"/>
<circle cx="339" cy="211" r="2.6" fill="#111"/>
<circle cx="351.4" cy="217.8" r="2.6" fill="#111"/>
<circle cx="375" cy="232.1" r="2.6" fill="#111"/>
<circle cx="303.3" cy="246" r="2.5" fill="#fff" stroke="#111" stroke-width="0.75"/>
<circle cx="312.7" cy="234.4" r="2.5" fill="#fff" stroke="#111" stroke-width="0.75"/>
<circle cx="327.3" cy="230.2" r="2.5" fill="#fff" stroke="#111" stroke-width="0.75"/>
<circle cx="332" cy="232.6" r="2.5" fill="#fff" stroke="#111" stroke-width="0.75"/>
<circle cx="339" cy="251.8" r="2.5" fill="#fff" stroke="#111" stroke-width="0.75"/>
<line x1="337" y1="251.8" x2="341" y2="251.8" stroke="#111" stroke-width="0.6"/>
<text x="293.2" y="216.6" style="font-family:'Liberation Serif',serif;font-style:italic;font-size:11px" fill="#111">q</text>
<line x1="294.3" y1="207" x2="299.2" y2="207" stroke="#333" stroke-width="0.7"/>
<text x="347.6" y="247.2" style="font-family:'Liberation Serif',serif;font-size:8.7px" fill="#111">Eq. (5)</text>
<line x1="358.8" y1="239.6" x2="364.3" y2="231.0" stroke="#111" stroke-width="1.1"/>
<polygon points="366.5,227.6 365.9,232.6 362.2,230.2" fill="#111"/>
<line x1="353.2" y1="253.5" x2="348.5" y2="260.2" stroke="#111" stroke-width="1.1"/>
<polygon points="346.2,263.5 347.0,258.6 350.6,261.1" fill="#111"/>
<text x="372.8" y="262.4" style="font-family:'Liberation Sans',sans-serif;font-size:10.5px" fill="#111">Ja</text>
<text x="461.8" y="195.9" style="font-family:'Liberation Sans',sans-serif;font-size:13px" fill="#111">(d)</text>
<rect x="498.4" y="334.1" width="9.0" height="1.0" fill="url(#hB)" stroke="#6f8fe6" stroke-width="0.8" opacity="0.9"/>
<rect x="507.4" y="329.4" width="9.0" height="5.7" fill="url(#hB)" stroke="#6f8fe6" stroke-width="0.8" opacity="0.9"/>
<rect x="516.4" y="319.9" width="9.0" height="15.2" fill="url(#hB)" stroke="#6f8fe6" stroke-width="0.8" opacity="0.9"/>
<rect x="525.4" y="307.0" width="9.0" height="28.1" fill="url(#hB)" stroke="#6f8fe6" stroke-width="0.8" opacity="0.9"/>
<rect x="534.4" y="294.5" width="9.0" height="40.6" fill="url(#hB)" stroke="#6f8fe6" stroke-width="0.8" opacity="0.9"/>
<rect x="543.4" y="293.2" width="9.0" height="41.9" fill="url(#hB)" stroke="#6f8fe6" stroke-width="0.8" opacity="0.9"/>
<rect x="552.4" y="286.8" width="9.0" height="48.3" fill="url(#hB)" stroke="#6f8fe6" stroke-width="0.8" opacity="0.9"/>
<rect x="561.4" y="295.2" width="9.0" height="39.9" fill="url(#hB)" stroke="#6f8fe6" stroke-width="0.8" opacity="0.9"/>
<rect x="570.4" y="310.1" width="9.0" height="25.0" fill="url(#hB)" stroke="#6f8fe6" stroke-width="0.8" opacity="0.9"/>
<rect x="579.4" y="320.2" width="9.0" height="14.9" fill="url(#hB)" stroke="#6f8fe6" stroke-width="0.8" opacity="0.9"/>
<rect x="588.4" y="327.7" width="9.0" height="7.4" fill="url(#hB)" stroke="#6f8fe6" stroke-width="0.8" opacity="0.9"/>
<rect x="597.5" y="332.4" width="9.0" height="2.7" fill="url(#hB)" stroke="#6f8fe6" stroke-width="0.8" opacity="0.9"/>
<rect x="606.5" y="334.4" width="9.0" height="0.7" fill="url(#hB)" stroke="#6f8fe6" stroke-width="0.8" opacity="0.9"/>
<rect x="498.4" y="334.4" width="9.0" height="0.7" fill="url(#hR)" fill-opacity="0.75" stroke="#ec6f78" stroke-width="0.8"/>
<rect x="507.4" y="332.7" width="9.0" height="2.4" fill="url(#hR)" fill-opacity="0.75" stroke="#ec6f78" stroke-width="0.8"/>
<rect x="516.4" y="330.4" width="9.0" height="4.7" fill="url(#hR)" fill-opacity="0.75" stroke="#ec6f78" stroke-width="0.8"/>
<rect x="525.4" y="329.0" width="9.0" height="6.1" fill="url(#hR)" fill-opacity="0.75" stroke="#ec6f78" stroke-width="0.8"/>
<rect x="534.4" y="324.3" width="9.0" height="10.8" fill="url(#hR)" fill-opacity="0.75" stroke="#ec6f78" stroke-width="0.8"/>
<rect x="543.4" y="322.6" width="9.0" height="12.5" fill="url(#hR)" fill-opacity="0.75" stroke="#ec6f78" stroke-width="0.8"/>
<rect x="552.4" y="321.6" width="9.0" height="13.5" fill="url(#hR)" fill-opacity="0.75" stroke="#ec6f78" stroke-width="0.8"/>
<rect x="561.4" y="318.9" width="9.0" height="16.2" fill="url(#hR)" fill-opacity="0.75" stroke="#ec6f78" stroke-width="0.8"/>
<rect x="570.4" y="311.8" width="9.0" height="23.3" fill="url(#hR)" fill-opacity="0.75" stroke="#ec6f78" stroke-width="0.8"/>
<rect x="579.4" y="310.8" width="9.0" height="24.3" fill="url(#hR)" fill-opacity="0.75" stroke="#ec6f78" stroke-width="0.8"/>
<rect x="588.4" y="309.8" width="9.0" height="25.4" fill="url(#hR)" fill-opacity="0.75" stroke="#ec6f78" stroke-width="0.8"/>
<rect x="597.5" y="317.9" width="9.0" height="17.2" fill="url(#hR)" fill-opacity="0.75" stroke="#ec6f78" stroke-width="0.8"/>
<rect x="606.5" y="328.3" width="9.0" height="6.8" fill="url(#hR)" fill-opacity="0.75" stroke="#ec6f78" stroke-width="0.8"/>
<rect x="615.5" y="331.4" width="9.0" height="3.7" fill="url(#hR)" fill-opacity="0.75" stroke="#ec6f78" stroke-width="0.8"/>
<rect x="624.5" y="333.7" width="9.0" height="1.4" fill="url(#hR)" fill-opacity="0.75" stroke="#ec6f78" stroke-width="0.8"/>
<rect x="633.5" y="334.4" width="9.0" height="0.7" fill="url(#hR)" fill-opacity="0.75" stroke="#ec6f78" stroke-width="0.8"/>
<path d="M499.0,331.3 C501.0,328.6 507.0,323.2 511.0,315.2 C515.0,307.2 519.3,294.6 523.0,283.2 C526.7,271.8 529.8,257.1 533.1,247.1 C536.5,237.1 540.5,228.5 543.1,223.1 C545.8,217.7 546.9,216.4 549.0,214.5 C551.1,212.6 553.9,211.8 555.9,211.8 C557.9,211.8 559.1,212.3 561.0,214.5 C562.9,216.7 564.4,218.3 567.1,225.1 C569.8,231.9 574.2,244.8 577.2,255.1 C580.2,265.4 582.7,278.2 585.2,287.2 C587.7,296.2 590.0,303.1 592.4,309.0 C594.8,314.9 596.8,319.4 599.3,322.9 C601.8,326.4 603.9,327.9 607.6,329.8 C611.3,331.7 616.0,333.2 621.4,334.0 C626.8,334.8 636.9,334.7 640.0,334.8" fill="none" stroke="#6aaaf0" stroke-width="1"/>
<path d="M499.0,333.3 C500.8,332.7 506.7,331.5 510.0,329.8 C513.3,328.1 514.8,329.1 519.0,323.3 C523.2,317.5 530.4,304.6 535.1,295.2 C539.8,285.8 543.8,274.1 547.1,267.1 C550.4,260.1 552.1,256.2 555.1,253.1 C558.1,250.0 561.8,248.0 565.1,248.3 C568.5,248.6 571.9,250.6 575.2,255.1 C578.6,259.6 581.6,267.8 585.2,275.2 C588.8,282.6 593.3,292.8 596.6,299.4 C599.9,306.0 602.1,310.5 604.9,314.6 C607.6,318.8 609.9,321.5 613.1,324.3 C616.3,327.1 620.5,329.6 624.2,331.2 C627.9,332.8 630.6,333.3 635.2,333.9 C639.8,334.5 646.0,334.6 651.8,334.8 C657.6,335.0 667.0,334.9 670.0,334.9" fill="none" stroke="#e8303e" stroke-width="1.2"/>
<path d="M499.0,334.0 C501.7,333.0 510.3,331.7 515.0,328.0 C519.7,324.3 523.3,317.3 527.0,312.0 C530.7,306.7 534.0,300.0 537.0,296.0 C540.0,292.0 542.5,289.7 545.0,288.0 C547.5,286.3 549.5,285.8 552.0,286.0 C554.5,286.2 557.3,287.2 560.0,289.0 C562.7,290.8 565.0,293.3 568.0,297.0 C571.0,300.7 574.7,306.8 578.0,311.0 C581.3,315.2 584.3,318.8 588.0,322.0 C591.7,325.2 595.5,328.0 600.0,330.0 C604.5,332.0 612.5,333.3 615.0,334.0" fill="none" stroke="#5f86e0" stroke-width="1" stroke-dasharray="3,2"/>
<path d="M499.0,334.5 C502.5,333.9 513.2,332.9 520.0,331.0 C526.8,329.1 534.0,325.2 540.0,323.0 C546.0,320.8 551.0,319.7 556.0,318.0 C561.0,316.3 565.7,314.3 570.0,313.0 C574.3,311.7 578.3,310.2 582.0,310.0 C585.7,309.8 588.7,310.7 592.0,312.0 C595.3,313.3 598.7,315.7 602.0,318.0 C605.3,320.3 608.2,323.8 612.0,326.0 C615.8,328.2 619.5,330.1 625.0,331.5 C630.5,332.9 641.7,333.8 645.0,334.2" fill="none" stroke="#e03040" stroke-width="1" stroke-dasharray="3,2"/>
<rect x="498.5" y="200.3" width="180.3" height="134.8" fill="none" stroke="#1a1a1a" stroke-width="1"/>
<line x1="495.9" y1="335.1" x2="498.5" y2="335.1" stroke="#1a1a1a" stroke-width="0.9"/>
<line x1="495.9" y1="308.1" x2="498.5" y2="308.1" stroke="#1a1a1a" stroke-width="0.9"/>
<line x1="495.9" y1="281.0" x2="498.5" y2="281.0" stroke="#1a1a1a" stroke-width="0.9"/>
<line x1="495.9" y1="254.0" x2="498.5" y2="254.0" stroke="#1a1a1a" stroke-width="0.9"/>
<line x1="495.9" y1="226.9" x2="498.5" y2="226.9" stroke="#1a1a1a" stroke-width="0.9"/>
<line x1="495.9" y1="199.9" x2="498.5" y2="199.9" stroke="#1a1a1a" stroke-width="0.9"/>
<line x1="496.9" y1="321.6" x2="498.5" y2="321.6" stroke="#1a1a1a" stroke-width="0.8"/>
<line x1="496.9" y1="294.5" x2="498.5" y2="294.5" stroke="#1a1a1a" stroke-width="0.8"/>
<line x1="496.9" y1="267.5" x2="498.5" y2="267.5" stroke="#1a1a1a" stroke-width="0.8"/>
<line x1="496.9" y1="240.5" x2="498.5" y2="240.5" stroke="#1a1a1a" stroke-width="0.8"/>
<line x1="496.9" y1="213.4" x2="498.5" y2="213.4" stroke="#1a1a1a" stroke-width="0.8"/>
<text x="493.4" y="338.0" text-anchor="end" style="font-family:'Liberation Sans',sans-serif;font-size:8.1px" fill="#111" stroke="#111" stroke-width="0.15">0</text>
<text x="493.4" y="311.0" text-anchor="end" style="font-family:'Liberation Sans',sans-serif;font-size:8.1px" fill="#111" stroke="#111" stroke-width="0.15">80</text>
<text x="493.4" y="283.9" text-anchor="end" style="font-family:'Liberation Sans',sans-serif;font-size:8.1px" fill="#111" stroke="#111" stroke-width="0.15">160</text>
<text x="493.4" y="256.9" text-anchor="end" style="font-family:'Liberation Sans',sans-serif;font-size:8.1px" fill="#111" stroke="#111" stroke-width="0.15">240</text>
<text x="493.4" y="229.9" text-anchor="end" style="font-family:'Liberation Sans',sans-serif;font-size:8.1px" fill="#111" stroke="#111" stroke-width="0.15">320</text>
<text x="493.4" y="202.8" text-anchor="end" style="font-family:'Liberation Sans',sans-serif;font-size:8.1px" fill="#111" stroke="#111" stroke-width="0.15">400</text>
<line x1="498.4" y1="335.1" x2="498.4" y2="337.70000000000005" stroke="#1a1a1a" stroke-width="0.9"/>
<line x1="543.4" y1="335.1" x2="543.4" y2="337.70000000000005" stroke="#1a1a1a" stroke-width="0.9"/>
<line x1="588.4" y1="335.1" x2="588.4" y2="337.70000000000005" stroke="#1a1a1a" stroke-width="0.9"/>
<line x1="633.5" y1="335.1" x2="633.5" y2="337.70000000000005" stroke="#1a1a1a" stroke-width="0.9"/>
<line x1="678.5" y1="335.1" x2="678.5" y2="337.70000000000005" stroke="#1a1a1a" stroke-width="0.9"/>
<line x1="520.9" y1="335.1" x2="520.9" y2="336.70000000000005" stroke="#1a1a1a" stroke-width="0.8"/>
<line x1="565.9" y1="335.1" x2="565.9" y2="336.70000000000005" stroke="#1a1a1a" stroke-width="0.8"/>
<line x1="611.0" y1="335.1" x2="611.0" y2="336.70000000000005" stroke="#1a1a1a" stroke-width="0.8"/>
<line x1="656.0" y1="335.1" x2="656.0" y2="336.70000000000005" stroke="#1a1a1a" stroke-width="0.8"/>
<text x="498.4" y="347.3" text-anchor="middle" style="font-family:'Liberation Sans',sans-serif;font-size:8.2px" fill="#111" stroke="#111" stroke-width="0.15">0.0</text>
<text x="543.4" y="347.3" text-anchor="middle" style="font-family:'Liberation Sans',sans-serif;font-size:8.2px" fill="#111" stroke="#111" stroke-width="0.15">0.5</text>
<text x="588.4" y="347.3" text-anchor="middle" style="font-family:'Liberation Sans',sans-serif;font-size:8.2px" fill="#111" stroke="#111" stroke-width="0.15">1.0</text>
<text x="633.5" y="347.3" text-anchor="middle" style="font-family:'Liberation Sans',sans-serif;font-size:8.2px" fill="#111" stroke="#111" stroke-width="0.15">1.5</text>
<text x="678.5" y="347.3" text-anchor="middle" style="font-family:'Liberation Sans',sans-serif;font-size:8.2px" fill="#111" stroke="#111" stroke-width="0.15">2.0</text>
<text transform="translate(472.3,303.3) rotate(-90)" style="font-family:'Liberation Sans',sans-serif;font-size:10.3px" fill="#111">Bubble numbers</text>
<text x="577" y="360" style="font-family:'Liberation Sans',sans-serif;font-size:9.5px" fill="#111">R<tspan font-size="5.5" dy="-4.5">*</tspan><tspan dy="4.5">&lt;&gt;</tspan></text>
<rect x="616.6" y="204.6" width="15.9" height="7.2" fill="url(#hB)" stroke="#6f8fe6" stroke-width="0.7"/>
<rect x="616.6" y="213.4" width="15.9" height="7.6" fill="url(#hR)" stroke="#ec6f78" stroke-width="0.7"/>
<line x1="616.6" y1="226.3" x2="632.5" y2="226.3" stroke="#6aaaf0" stroke-width="1"/>
<line x1="616.6" y1="235" x2="632.5" y2="235" stroke="#e8303e" stroke-width="1.2"/>
<text x="635.2" y="210.8" style="font-family:'Liberation Sans',sans-serif;font-size:7.2px" fill="#111" stroke="#111" stroke-width="0.12">Ja = 0.24</text>
<text x="635.2" y="219.8" style="font-family:'Liberation Sans',sans-serif;font-size:7.2px" fill="#111" stroke="#111" stroke-width="0.12">Ja = 0.32</text>
<text x="635.2" y="228.9" style="font-family:'Liberation Sans',sans-serif;font-size:7.2px" fill="#111" stroke="#111" stroke-width="0.12">EF:Ja = 0.35</text>
<text x="635.2" y="237.6" style="font-family:'Liberation Sans',sans-serif;font-size:7.2px" fill="#111" stroke="#111" stroke-width="0.12">EF:Ja = 0.40</text></svg>
</body></html>
